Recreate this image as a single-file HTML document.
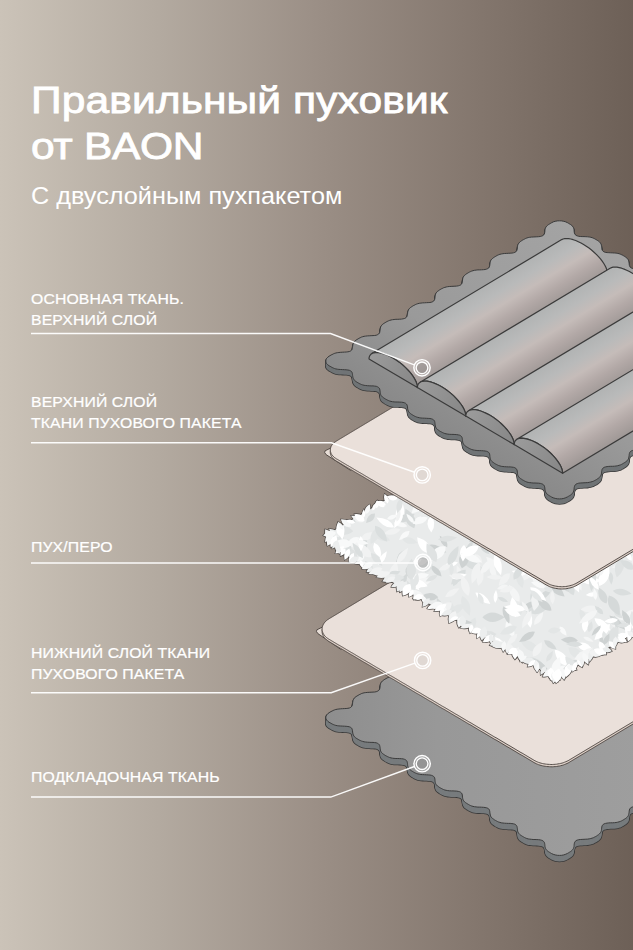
<!DOCTYPE html>
<html lang="ru"><head><meta charset="utf-8"><title>Правильный пуховик от BAON</title>
<style>
html,body{margin:0;padding:0}
body{width:633px;height:950px;overflow:hidden;position:relative;font-family:"Liberation Sans",sans-serif;color:#fff;
background:linear-gradient(90deg,#cbc3b8 0%,#b3aaa0 25%,#9b8f86 50%,#84776e 75%,#6d6057 100%)}
svg{position:absolute;left:0;top:0}
.t{position:absolute;left:33px;white-space:nowrap;margin:0;font-weight:400;transform-origin:0 0}
h1.t{font-size:36.5px;line-height:45.7px;top:78px;letter-spacing:0.1px;transform:scaleX(1.165);left:30.5px;-webkit-text-stroke:0.8px #fff}
p.sub{font-size:23.7px;top:183.4px;letter-spacing:0px;transform:scaleX(1.066);left:31px}
p.lb{font-size:13.8px;line-height:20.5px;letter-spacing:0.1px;left:31px;transform:scaleX(1.145);-webkit-text-stroke:0.2px #fff}
</style></head><body>
<svg width="633" height="950" viewBox="0 0 633 950"><defs><path id="st1" d="M329.1 712.7 L330.1 712.1 L331.1 711.5 L332.2 711.0 L333.3 710.4 L334.5 709.9 L335.8 709.5 L337.3 709.2 L338.9 709.0 L340.7 708.8 L342.5 708.7 L344.4 708.6 L346.2 708.5 L347.9 708.3 L349.4 708.0 L350.5 707.5 L351.4 706.8 L352.0 706.0 L352.3 705.0 L352.5 703.9 L352.6 702.8 L352.8 701.7 L353.0 700.6 L353.4 699.6 L353.9 698.7 L354.5 697.9 L355.3 697.2 L356.2 696.5 L357.2 695.9 L358.2 695.3 L359.2 694.7 L360.3 694.2 L361.4 693.6 L362.7 693.2 L364.1 692.8 L365.7 692.6 L367.4 692.4 L369.2 692.3 L371.1 692.2 L373.0 692.1 L374.7 692.0 L376.3 691.7 L377.5 691.2 L378.5 690.6 L379.2 689.9 L379.7 688.9 L379.9 687.9 L380.1 686.8 L380.2 685.6 L380.4 684.6 L380.6 683.5 L381.1 682.6 L381.7 681.8 L382.4 681.0 L383.3 680.3 L384.2 679.7 L385.2 679.1 L386.2 678.5 L387.3 677.9 L388.4 677.4 L389.6 676.9 L391.0 676.5 L392.5 676.2 L394.1 676.0 L395.9 675.8 L397.8 675.8 L399.7 675.7 L401.5 675.6 L403.1 675.3 L404.5 675.0 L405.6 674.4 L406.4 673.7 L407.0 672.8 L407.3 671.8 L407.5 670.8 L407.6 669.6 L407.7 668.5 L408.0 667.5 L408.4 666.5 L408.9 665.6 L409.6 664.8 L410.4 664.1 L411.3 663.5 L412.3 662.8 L413.3 662.2 L414.3 661.7 L415.4 661.1 L416.6 660.6 L417.8 660.2 L419.3 659.8 L420.9 659.6 L422.6 659.4 L424.5 659.3 L426.4 659.2 L428.2 659.1 L429.9 659.0 L431.4 658.7 L432.7 658.2 L433.6 657.6 L434.3 656.7 L434.7 655.8 L434.9 654.7 L435.0 653.6 L435.1 652.5 L435.3 651.4 L435.6 650.4 L436.1 649.5 L436.7 648.7 L437.5 647.9 L438.4 647.3 L439.3 646.6 L440.3 646.0 L441.3 645.4 L442.4 644.9 L443.5 644.3 L444.8 643.9 L446.1 643.5 L447.7 643.2 L449.3 643.0 L451.2 642.9 L453.0 642.8 L454.9 642.7 L456.7 642.6 L458.3 642.3 L459.6 641.9 L460.7 641.4 L461.5 640.6 L462.0 639.7 L462.3 638.7 L462.4 637.6 L462.5 636.5 L462.7 635.4 L462.9 634.3 L463.4 633.4 L463.9 632.5 L464.6 631.8 L465.5 631.1 L466.4 630.4 L467.4 629.8 L468.4 629.2 L469.4 628.6 L470.5 628.1 L471.7 627.6 L473.0 627.2 L474.5 626.8 L476.1 626.6 L477.9 626.4 L479.7 626.4 L481.6 626.3 L483.4 626.2 L485.1 626.0 L486.6 625.6 L487.8 625.1 L488.7 624.5 L489.3 623.6 L489.6 622.7 L489.8 621.6 L489.9 620.5 L490.1 619.3 L490.3 618.3 L490.6 617.3 L491.1 616.4 L491.8 615.6 L492.6 614.9 L493.5 614.2 L494.4 613.6 L495.4 613.0 L496.4 612.4 L497.5 611.8 L498.6 611.3 L499.9 610.8 L501.3 610.5 L502.9 610.2 L504.6 610.0 L506.4 609.9 L508.3 609.8 L510.2 609.7 L511.9 609.6 L513.5 609.3 L514.8 608.9 L515.8 608.3 L516.5 607.5 L517.0 606.6 L517.2 605.6 L517.4 604.4 L517.5 603.3 L517.6 602.2 L517.9 601.2 L518.4 600.3 L519.0 599.4 L519.7 598.7 L520.5 598.0 L521.5 597.3 L522.4 596.7 L523.5 596.1 L524.5 595.6 L525.6 595.0 L526.8 594.5 L528.2 594.1 L529.7 593.8 L531.3 593.6 L533.1 593.5 L535.0 593.4 L536.9 593.3 L538.7 593.2 L540.3 593.0 L541.7 592.6 L542.9 592.1 L543.7 591.4 L544.3 590.5 L544.6 589.5 L544.8 588.4 L544.9 587.3 L545.0 586.2 L545.3 585.1 L545.6 584.2 L546.2 583.3 L546.8 582.5 L547.6 581.8 L548.5 581.1 L549.5 580.5 L550.5 579.9 L551.5 579.3 L553.2 578.4 L555.2 577.8 L557.3 577.4 L559.5 577.3 L561.7 577.4 L563.8 577.8 L565.8 578.4 L567.5 579.2 L568.5 579.8 L569.5 580.4 L570.5 581.0 L571.4 581.7 L572.2 582.4 L572.8 583.2 L573.4 584.0 L573.7 585.0 L574.0 586.1 L574.1 587.2 L574.2 588.3 L574.4 589.4 L574.7 590.4 L575.3 591.2 L576.1 591.9 L577.3 592.4 L578.7 592.8 L580.3 593.0 L582.1 593.1 L584.0 593.1 L585.9 593.2 L587.7 593.3 L589.3 593.5 L590.8 593.8 L592.2 594.2 L593.4 594.7 L594.5 595.2 L595.5 595.8 L596.6 596.4 L597.5 597.0 L598.5 597.6 L599.3 598.3 L600.0 599.0 L600.6 599.9 L601.1 600.8 L601.4 601.8 L601.5 602.9 L601.6 604.0 L601.8 605.1 L602.0 606.2 L602.5 607.1 L603.2 607.9 L604.2 608.4 L605.5 608.9 L607.1 609.1 L608.8 609.2 L610.7 609.3 L612.6 609.4 L614.4 609.5 L616.1 609.6 L617.7 609.9 L619.1 610.2 L620.4 610.7 L621.5 611.2 L622.6 611.7 L623.6 612.3 L624.6 612.9 L625.5 613.5 L626.4 614.2 L627.2 614.9 L627.9 615.7 L628.4 616.6 L628.7 617.6 L628.9 618.7 L629.1 619.8 L629.2 620.9 L629.4 622.0 L629.7 622.9 L630.3 623.8 L631.2 624.4 L632.4 624.9 L633.9 625.2 L635.6 625.4 L637.4 625.5 L639.3 625.6 L641.1 625.6 L642.9 625.8 L644.5 626.0 L646.0 626.3 L647.3 626.7 L648.5 627.2 L649.6 627.7 L650.6 628.3 L651.6 628.9 L652.6 629.5 L653.5 630.1 L654.4 630.8 L655.1 631.6 L655.6 632.4 L656.1 633.4 L656.3 634.4 L656.5 635.5 L656.6 636.6 L656.7 637.7 L657.0 638.7 L657.5 639.6 L658.3 640.4 L659.4 640.9 L660.7 641.3 L662.3 641.5 L664.1 641.7 L666.0 641.7 L667.8 641.8 L669.7 641.9 L671.3 642.1 L672.9 642.4 L674.2 642.7 L675.5 643.2 L676.6 643.7 L677.7 644.2 L678.7 644.8 L679.7 645.4 L680.6 646.0 L681.5 646.7 L682.3 647.5 L682.9 648.3 L683.4 649.2 L683.7 650.2 L683.9 651.3 L684.0 652.4 L684.1 653.5 L684.3 654.5 L684.7 655.5 L685.4 656.3 L686.3 656.9 L687.6 657.4 L689.1 657.7 L690.8 657.8 L692.6 657.9 L694.5 658.0 L696.4 658.1 L698.1 658.2 L699.7 658.4 L701.2 658.8 L702.4 659.2 L703.6 659.7 L704.7 660.2 L705.7 660.8 L706.7 661.4 L707.7 662.0 L708.6 662.6 L709.4 663.3 L710.1 664.1 L710.6 665.0 L711.0 666.0 L711.3 667.0 L711.4 668.1 L711.5 669.2 L711.7 670.3 L712.0 671.3 L712.6 672.2 L713.4 672.9 L714.5 673.4 L715.9 673.8 L717.5 674.0 L719.3 674.1 L721.2 674.1 L723.1 674.2 L724.9 674.3 L726.5 674.5 L728.0 674.8 L729.4 675.2 L730.6 675.7 L731.7 676.2 L732.8 676.7 L733.8 677.3 L734.8 677.9 L735.7 678.6 L736.6 679.2 L737.3 680.0 L737.9 680.8 L738.4 681.7 L738.6 682.8 L738.8 683.9 L738.9 685.0 L739.1 686.1 L739.3 687.1 L739.8 688.1 L740.5 688.8 L741.5 689.4 L742.7 689.8 L744.3 690.1 L746.0 690.2 L747.9 690.3 L749.8 690.4 L751.6 690.5 L753.3 690.6 L754.9 690.9 L756.3 691.2 L757.6 691.7 L758.7 692.2 L759.8 692.7 L760.8 693.3 L761.8 693.9 L762.8 694.5 L763.7 695.2 L764.5 695.9 L765.1 696.7 L765.6 697.6 L766.0 698.5 L766.2 699.6 L766.4 700.7 L766.5 701.8 L766.7 702.9 L767.0 703.9 L767.6 704.7 L768.5 705.4 L769.6 705.9 L771.1 706.2 L772.8 706.4 L774.6 706.5 L776.5 706.6 L778.3 706.6 L780.1 706.8 L781.7 707.0 L783.2 707.3 L784.5 707.7 L785.7 708.2 L786.8 708.7 L787.9 709.3 L788.9 709.8 L789.9 710.4 L791.3 711.4 L792.4 712.6 L793.0 713.9 L793.2 715.2 L793.0 716.5 L792.4 717.8 L791.3 718.9 L789.9 719.9 L788.9 720.5 L787.9 721.1 L786.8 721.7 L785.7 722.3 L784.5 722.7 L783.2 723.2 L781.7 723.5 L780.1 723.7 L778.3 723.9 L776.5 724.0 L774.6 724.0 L772.8 724.1 L771.1 724.3 L769.6 724.7 L768.5 725.2 L767.6 725.9 L767.0 726.7 L766.7 727.7 L766.5 728.8 L766.4 729.9 L766.2 731.0 L766.0 732.1 L765.6 733.1 L765.1 733.9 L764.5 734.7 L763.7 735.5 L762.8 736.1 L761.8 736.8 L760.8 737.4 L759.8 738.0 L758.7 738.5 L757.6 739.0 L756.3 739.5 L754.9 739.8 L753.3 740.1 L751.6 740.3 L749.8 740.4 L747.9 740.5 L746.0 740.6 L744.3 740.7 L742.7 741.0 L741.5 741.4 L740.5 742.0 L739.8 742.8 L739.3 743.8 L739.1 744.8 L738.9 745.9 L738.8 747.0 L738.6 748.1 L738.4 749.1 L737.9 750.1 L737.3 750.9 L736.6 751.7 L735.7 752.3 L734.8 753.0 L733.8 753.6 L732.8 754.2 L731.7 754.8 L730.6 755.3 L729.4 755.8 L728.0 756.2 L726.5 756.5 L724.9 756.7 L723.1 756.8 L721.2 756.9 L719.3 757.0 L717.5 757.1 L715.9 757.4 L714.5 757.7 L713.4 758.2 L712.6 759.0 L712.0 759.8 L711.7 760.8 L711.5 761.9 L711.4 763.1 L711.3 764.2 L711.0 765.2 L710.6 766.2 L710.1 767.1 L709.4 767.8 L708.6 768.5 L707.7 769.2 L706.7 769.8 L705.7 770.4 L704.7 771.0 L703.6 771.6 L702.4 772.1 L701.2 772.5 L699.7 772.8 L698.1 773.1 L696.4 773.3 L694.5 773.4 L692.6 773.4 L690.8 773.5 L689.1 773.7 L687.6 774.0 L686.3 774.5 L685.4 775.1 L684.7 775.9 L684.3 776.9 L684.1 777.9 L684.0 779.1 L683.9 780.2 L683.7 781.3 L683.4 782.3 L682.9 783.2 L682.3 784.0 L681.5 784.7 L680.6 785.4 L679.7 786.1 L678.7 786.7 L677.7 787.3 L676.6 787.8 L675.5 788.3 L674.2 788.8 L672.9 789.2 L671.3 789.5 L669.7 789.7 L667.8 789.8 L666.0 789.9 L664.1 790.0 L662.3 790.1 L660.7 790.4 L659.4 790.8 L658.3 791.3 L657.5 792.1 L657.0 793.0 L656.7 794.0 L656.6 795.1 L656.5 796.2 L656.3 797.3 L656.1 798.3 L655.6 799.3 L655.1 800.1 L654.4 800.9 L653.5 801.6 L652.6 802.3 L651.6 802.9 L650.6 803.5 L649.6 804.1 L648.5 804.6 L647.3 805.1 L646.0 805.5 L644.5 805.8 L642.9 806.1 L641.1 806.2 L639.3 806.3 L637.4 806.4 L635.6 806.5 L633.9 806.7 L632.4 807.0 L631.2 807.5 L630.3 808.2 L629.7 809.0 L629.4 810.0 L629.2 811.1 L629.1 812.2 L628.9 813.3 L628.7 814.4 L628.4 815.4 L627.9 816.3 L627.2 817.1 L626.4 817.8 L625.5 818.5 L624.6 819.1 L623.6 819.7 L622.6 820.3 L621.5 820.9 L620.4 821.4 L619.1 821.8 L617.7 822.2 L616.1 822.5 L614.4 822.7 L612.6 822.8 L610.7 822.8 L608.8 822.9 L607.1 823.1 L605.5 823.4 L604.2 823.8 L603.2 824.4 L602.5 825.2 L602.0 826.1 L601.8 827.1 L601.6 828.2 L601.5 829.4 L601.4 830.4 L601.1 831.5 L600.6 832.4 L600.0 833.2 L599.3 834.0 L598.5 834.7 L597.5 835.3 L596.6 836.0 L595.5 836.6 L594.5 837.1 L593.4 837.7 L592.2 838.1 L590.8 838.5 L589.3 838.8 L587.7 839.1 L585.9 839.2 L584.0 839.3 L582.1 839.4 L580.3 839.5 L578.7 839.7 L577.3 840.1 L576.1 840.6 L575.3 841.3 L574.7 842.2 L574.4 843.2 L574.2 844.2 L574.1 845.4 L574.0 846.5 L573.7 847.5 L573.4 848.5 L572.8 849.4 L572.2 850.2 L571.4 850.9 L570.5 851.6 L569.5 852.2 L568.5 852.8 L567.5 853.4 L565.8 854.2 L563.8 854.9 L561.7 855.3 L559.5 855.4 L557.3 855.3 L555.2 854.9 L553.2 854.3 L551.5 853.5 L550.5 852.9 L549.5 852.3 L548.5 851.7 L547.6 851.0 L546.8 850.3 L546.2 849.5 L545.6 848.6 L545.3 847.7 L545.0 846.6 L544.9 845.5 L544.8 844.4 L544.6 843.3 L544.3 842.3 L543.7 841.5 L542.9 840.8 L541.7 840.3 L540.3 839.9 L538.7 839.7 L536.9 839.6 L535.0 839.5 L533.1 839.5 L531.3 839.3 L529.7 839.1 L528.2 838.9 L526.8 838.5 L525.6 838.0 L524.5 837.5 L523.5 836.9 L522.4 836.3 L521.5 835.7 L520.5 835.1 L519.7 834.4 L519.0 833.7 L518.4 832.8 L517.9 831.9 L517.6 830.9 L517.5 829.8 L517.4 828.7 L517.2 827.5 L517.0 826.5 L516.5 825.6 L515.8 824.8 L514.8 824.2 L513.5 823.8 L511.9 823.6 L510.2 823.4 L508.3 823.4 L506.4 823.3 L504.6 823.2 L502.9 823.0 L501.3 822.8 L499.9 822.4 L498.6 822.0 L497.5 821.5 L496.4 820.9 L495.4 820.4 L494.4 819.8 L493.5 819.1 L492.6 818.5 L491.8 817.8 L491.1 817.0 L490.6 816.1 L490.3 815.1 L490.1 814.0 L489.9 812.9 L489.8 811.8 L489.6 810.7 L489.3 809.7 L488.7 808.9 L487.8 808.3 L486.6 807.8 L485.1 807.5 L483.4 807.3 L481.6 807.2 L479.7 807.1 L477.9 807.1 L476.1 806.9 L474.5 806.7 L473.0 806.4 L471.7 806.0 L470.5 805.5 L469.4 805.0 L468.4 804.4 L467.4 803.8 L466.4 803.2 L465.5 802.6 L464.6 801.9 L463.9 801.1 L463.4 800.3 L462.9 799.3 L462.7 798.3 L462.5 797.2 L462.4 796.0 L462.3 795.0 L462.0 793.9 L461.5 793.0 L460.7 792.3 L459.6 791.7 L458.3 791.4 L456.7 791.1 L454.9 791.0 L453.0 790.9 L451.2 790.9 L449.3 790.8 L447.7 790.6 L446.1 790.3 L444.8 790.0 L443.5 789.5 L442.4 789.0 L441.3 788.4 L440.3 787.9 L439.3 787.3 L438.4 786.6 L437.5 786.0 L436.7 785.2 L436.1 784.4 L435.6 783.5 L435.3 782.5 L435.1 781.4 L435.0 780.3 L434.9 779.2 L434.7 778.1 L434.3 777.2 L433.6 776.4 L432.7 775.8 L431.4 775.3 L429.9 775.0 L428.2 774.9 L426.4 774.8 L424.5 774.7 L422.6 774.6 L420.9 774.5 L419.3 774.2 L417.8 773.9 L416.6 773.5 L415.4 773.0 L414.3 772.5 L413.3 771.9 L412.3 771.3 L411.3 770.7 L410.4 770.0 L409.6 769.3 L408.9 768.6 L408.4 767.7 L408.0 766.7 L407.7 765.7 L407.6 764.6 L407.5 763.4 L407.3 762.4 L407.0 761.4 L406.4 760.5 L405.6 759.8 L404.5 759.3 L403.1 758.9 L401.5 758.7 L399.7 758.6 L397.8 758.5 L395.9 758.5 L394.1 758.4 L392.5 758.2 L391.0 757.9 L389.6 757.5 L388.4 757.0 L387.3 756.5 L386.2 755.9 L385.2 755.4 L384.2 754.7 L383.3 754.1 L382.4 753.4 L381.7 752.7 L381.1 751.9 L380.6 750.9 L380.4 749.9 L380.2 748.8 L380.1 747.7 L379.9 746.6 L379.7 745.6 L379.2 744.6 L378.5 743.9 L377.5 743.3 L376.3 742.8 L374.7 742.6 L373.0 742.4 L371.1 742.4 L369.2 742.3 L367.4 742.2 L365.7 742.0 L364.1 741.8 L362.7 741.4 L361.4 741.0 L360.3 740.5 L359.2 740.0 L358.2 739.4 L357.2 738.8 L356.2 738.2 L355.3 737.5 L354.5 736.8 L353.9 736.0 L353.4 735.1 L353.0 734.1 L352.8 733.1 L352.6 732.0 L352.5 730.8 L352.3 729.8 L352.0 728.8 L351.4 727.9 L350.5 727.3 L349.4 726.8 L347.9 726.5 L346.2 726.3 L344.4 726.2 L342.5 726.1 L340.7 726.0 L338.9 725.9 L337.3 725.7 L335.8 725.4 L334.5 725.0 L333.3 724.5 L332.2 724.0 L331.1 723.4 L330.1 722.8 L329.1 722.3 L327.7 721.2 L326.6 720.1 L326.0 718.8 L325.8 717.5 L326.0 716.2 L326.6 714.9 L327.7 713.8Z"/>
<linearGradient id="st1g" gradientUnits="userSpaceOnUse" x1="327" y1="0" x2="640" y2="0"><stop offset="0" stop-color="#8e8e8e"/><stop offset="0.35" stop-color="#989898"/><stop offset="1" stop-color="#9e9e9e"/></linearGradient>
<clipPath id="dc"><path d="M328.5 534.0 L422.0 478.5 L560.0 395.0 L800.0 531.0 L660.0 618.0 L555.0 678.0 L339.0 550.5 L328.0 537.5Z"/></clipPath>
<path id="lf" d="M-1 0Q-0.2 -1.5 1 0Q-0.2 1.5 -1 0Z"/>
<path id="st2" d="M329.1 356.2 L330.1 355.6 L331.1 355.0 L332.2 354.5 L333.3 353.9 L334.5 353.4 L335.8 353.0 L337.3 352.7 L338.9 352.5 L340.7 352.3 L342.5 352.2 L344.4 352.1 L346.2 352.0 L347.9 351.8 L349.4 351.5 L350.5 351.0 L351.4 350.3 L352.0 349.5 L352.3 348.5 L352.5 347.4 L352.6 346.3 L352.8 345.2 L353.0 344.1 L353.4 343.1 L353.9 342.2 L354.5 341.4 L355.3 340.7 L356.2 340.0 L357.2 339.4 L358.2 338.8 L359.2 338.2 L360.3 337.7 L361.4 337.1 L362.7 336.7 L364.1 336.3 L365.7 336.1 L367.4 335.9 L369.2 335.8 L371.1 335.7 L373.0 335.6 L374.7 335.5 L376.3 335.2 L377.5 334.7 L378.5 334.1 L379.2 333.4 L379.7 332.4 L379.9 331.4 L380.1 330.3 L380.2 329.1 L380.4 328.1 L380.6 327.0 L381.1 326.1 L381.7 325.3 L382.4 324.5 L383.3 323.8 L384.2 323.2 L385.2 322.6 L386.2 322.0 L387.3 321.4 L388.4 320.9 L389.6 320.4 L391.0 320.0 L392.5 319.7 L394.1 319.5 L395.9 319.3 L397.8 319.3 L399.7 319.2 L401.5 319.1 L403.1 318.8 L404.5 318.5 L405.6 317.9 L406.4 317.2 L407.0 316.3 L407.3 315.3 L407.5 314.3 L407.6 313.1 L407.7 312.0 L408.0 311.0 L408.4 310.0 L408.9 309.1 L409.6 308.3 L410.4 307.6 L411.3 307.0 L412.3 306.3 L413.3 305.7 L414.3 305.2 L415.4 304.6 L416.6 304.1 L417.8 303.7 L419.3 303.3 L420.9 303.1 L422.6 302.9 L424.5 302.8 L426.4 302.7 L428.2 302.6 L429.9 302.5 L431.4 302.2 L432.7 301.7 L433.6 301.1 L434.3 300.2 L434.7 299.3 L434.9 298.2 L435.0 297.1 L435.1 296.0 L435.3 294.9 L435.6 293.9 L436.1 293.0 L436.7 292.2 L437.5 291.4 L438.4 290.8 L439.3 290.1 L440.3 289.5 L441.3 288.9 L442.4 288.4 L443.5 287.8 L444.8 287.4 L446.1 287.0 L447.7 286.7 L449.3 286.5 L451.2 286.4 L453.0 286.3 L454.9 286.2 L456.7 286.1 L458.3 285.8 L459.6 285.4 L460.7 284.9 L461.5 284.1 L462.0 283.2 L462.3 282.2 L462.4 281.1 L462.5 280.0 L462.7 278.9 L462.9 277.8 L463.4 276.9 L463.9 276.0 L464.6 275.3 L465.5 274.6 L466.4 273.9 L467.4 273.3 L468.4 272.7 L469.4 272.1 L470.5 271.6 L471.7 271.1 L473.0 270.7 L474.5 270.3 L476.1 270.1 L477.9 269.9 L479.7 269.9 L481.6 269.8 L483.4 269.7 L485.1 269.5 L486.6 269.1 L487.8 268.6 L488.7 268.0 L489.3 267.1 L489.6 266.2 L489.8 265.1 L489.9 264.0 L490.1 262.8 L490.3 261.8 L490.6 260.8 L491.1 259.9 L491.8 259.1 L492.6 258.4 L493.5 257.7 L494.4 257.1 L495.4 256.5 L496.4 255.9 L497.5 255.3 L498.6 254.8 L499.9 254.3 L501.3 254.0 L502.9 253.7 L504.6 253.5 L506.4 253.4 L508.3 253.3 L510.2 253.2 L511.9 253.1 L513.5 252.8 L514.8 252.4 L515.8 251.8 L516.5 251.0 L517.0 250.1 L517.2 249.1 L517.4 247.9 L517.5 246.8 L517.6 245.7 L517.9 244.7 L518.4 243.8 L519.0 242.9 L519.7 242.2 L520.5 241.5 L521.5 240.8 L522.4 240.2 L523.5 239.6 L524.5 239.1 L525.6 238.5 L526.8 238.0 L528.2 237.6 L529.7 237.3 L531.3 237.1 L533.1 237.0 L535.0 236.9 L536.9 236.8 L538.7 236.7 L540.3 236.5 L541.7 236.1 L542.9 235.6 L543.7 234.9 L544.3 234.0 L544.6 233.0 L544.8 231.9 L544.9 230.8 L545.0 229.7 L545.3 228.6 L545.6 227.7 L546.2 226.8 L546.8 226.0 L547.6 225.3 L548.5 224.6 L549.5 224.0 L550.5 223.4 L551.5 222.8 L553.2 221.9 L555.2 221.3 L557.3 220.9 L559.5 220.8 L561.7 220.9 L563.8 221.3 L565.8 221.9 L567.5 222.7 L568.5 223.3 L569.5 223.9 L570.5 224.5 L571.4 225.2 L572.2 225.9 L572.8 226.7 L573.4 227.5 L573.7 228.5 L574.0 229.6 L574.1 230.7 L574.2 231.8 L574.4 232.9 L574.7 233.9 L575.3 234.7 L576.1 235.4 L577.3 235.9 L578.7 236.3 L580.3 236.5 L582.1 236.6 L584.0 236.6 L585.9 236.7 L587.7 236.8 L589.3 237.0 L590.8 237.3 L592.2 237.7 L593.4 238.2 L594.5 238.7 L595.5 239.3 L596.6 239.9 L597.5 240.5 L598.5 241.1 L599.3 241.8 L600.0 242.5 L600.6 243.4 L601.1 244.3 L601.4 245.3 L601.5 246.4 L601.6 247.5 L601.8 248.6 L602.0 249.7 L602.5 250.6 L603.2 251.4 L604.2 251.9 L605.5 252.4 L607.1 252.6 L608.8 252.7 L610.7 252.8 L612.6 252.9 L614.4 253.0 L616.1 253.1 L617.7 253.4 L619.1 253.7 L620.4 254.2 L621.5 254.7 L622.6 255.2 L623.6 255.8 L624.6 256.4 L625.5 257.0 L626.4 257.7 L627.2 258.4 L627.9 259.2 L628.4 260.1 L628.7 261.1 L628.9 262.2 L629.1 263.3 L629.2 264.4 L629.4 265.5 L629.7 266.4 L630.3 267.3 L631.2 267.9 L632.4 268.4 L633.9 268.7 L635.6 268.9 L637.4 269.0 L639.3 269.1 L641.1 269.1 L642.9 269.3 L644.5 269.5 L646.0 269.8 L647.3 270.2 L648.5 270.7 L649.6 271.2 L650.6 271.8 L651.6 272.4 L652.6 273.0 L653.5 273.6 L654.4 274.3 L655.1 275.1 L655.6 275.9 L656.1 276.9 L656.3 277.9 L656.5 279.0 L656.6 280.1 L656.7 281.2 L657.0 282.2 L657.5 283.1 L658.3 283.9 L659.4 284.4 L660.7 284.8 L662.3 285.0 L664.1 285.2 L666.0 285.2 L667.8 285.3 L669.7 285.4 L671.3 285.6 L672.9 285.9 L674.2 286.2 L675.5 286.7 L676.6 287.2 L677.7 287.7 L678.7 288.3 L679.7 288.9 L680.6 289.5 L681.5 290.2 L682.3 291.0 L682.9 291.8 L683.4 292.7 L683.7 293.7 L683.9 294.8 L684.0 295.9 L684.1 297.0 L684.3 298.0 L684.7 299.0 L685.4 299.8 L686.3 300.4 L687.6 300.9 L689.1 301.2 L690.8 301.3 L692.6 301.4 L694.5 301.5 L696.4 301.6 L698.1 301.7 L699.7 301.9 L701.2 302.3 L702.4 302.7 L703.6 303.2 L704.7 303.7 L705.7 304.3 L706.7 304.9 L707.7 305.5 L708.6 306.1 L709.4 306.8 L710.1 307.6 L710.6 308.5 L711.0 309.5 L711.3 310.5 L711.4 311.6 L711.5 312.7 L711.7 313.8 L712.0 314.8 L712.6 315.7 L713.4 316.4 L714.5 316.9 L715.9 317.3 L717.5 317.5 L719.3 317.6 L721.2 317.6 L723.1 317.7 L724.9 317.8 L726.5 318.0 L728.0 318.3 L729.4 318.7 L730.6 319.2 L731.7 319.7 L732.8 320.2 L733.8 320.8 L734.8 321.4 L735.7 322.1 L736.6 322.7 L737.3 323.5 L737.9 324.3 L738.4 325.2 L738.6 326.3 L738.8 327.4 L738.9 328.5 L739.1 329.6 L739.3 330.6 L739.8 331.6 L740.5 332.3 L741.5 332.9 L742.7 333.3 L744.3 333.6 L746.0 333.7 L747.9 333.8 L749.8 333.9 L751.6 334.0 L753.3 334.1 L754.9 334.4 L756.3 334.7 L757.6 335.2 L758.7 335.7 L759.8 336.2 L760.8 336.8 L761.8 337.4 L762.8 338.0 L763.7 338.7 L764.5 339.4 L765.1 340.2 L765.6 341.1 L766.0 342.0 L766.2 343.1 L766.4 344.2 L766.5 345.3 L766.7 346.4 L767.0 347.4 L767.6 348.2 L768.5 348.9 L769.6 349.4 L771.1 349.7 L772.8 349.9 L774.6 350.0 L776.5 350.1 L778.3 350.1 L780.1 350.3 L781.7 350.5 L783.2 350.8 L784.5 351.2 L785.7 351.7 L786.8 352.2 L787.9 352.8 L788.9 353.3 L789.9 353.9 L791.3 354.9 L792.4 356.1 L793.0 357.4 L793.2 358.7 L793.0 360.0 L792.4 361.3 L791.3 362.4 L789.9 363.4 L788.9 364.0 L787.9 364.6 L786.8 365.2 L785.7 365.8 L784.5 366.2 L783.2 366.7 L781.7 367.0 L780.1 367.2 L778.3 367.4 L776.5 367.5 L774.6 367.5 L772.8 367.6 L771.1 367.8 L769.6 368.2 L768.5 368.7 L767.6 369.4 L767.0 370.2 L766.7 371.2 L766.5 372.3 L766.4 373.4 L766.2 374.5 L766.0 375.6 L765.6 376.6 L765.1 377.4 L764.5 378.2 L763.7 379.0 L762.8 379.6 L761.8 380.3 L760.8 380.9 L759.8 381.5 L758.7 382.0 L757.6 382.5 L756.3 383.0 L754.9 383.3 L753.3 383.6 L751.6 383.8 L749.8 383.9 L747.9 384.0 L746.0 384.1 L744.3 384.2 L742.7 384.5 L741.5 384.9 L740.5 385.5 L739.8 386.3 L739.3 387.3 L739.1 388.3 L738.9 389.4 L738.8 390.5 L738.6 391.6 L738.4 392.6 L737.9 393.6 L737.3 394.4 L736.6 395.2 L735.7 395.8 L734.8 396.5 L733.8 397.1 L732.8 397.7 L731.7 398.3 L730.6 398.8 L729.4 399.3 L728.0 399.7 L726.5 400.0 L724.9 400.2 L723.1 400.3 L721.2 400.4 L719.3 400.5 L717.5 400.6 L715.9 400.9 L714.5 401.2 L713.4 401.7 L712.6 402.5 L712.0 403.3 L711.7 404.3 L711.5 405.4 L711.4 406.6 L711.3 407.7 L711.0 408.7 L710.6 409.7 L710.1 410.6 L709.4 411.3 L708.6 412.0 L707.7 412.7 L706.7 413.3 L705.7 413.9 L704.7 414.5 L703.6 415.1 L702.4 415.6 L701.2 416.0 L699.7 416.3 L698.1 416.6 L696.4 416.8 L694.5 416.9 L692.6 416.9 L690.8 417.0 L689.1 417.2 L687.6 417.5 L686.3 418.0 L685.4 418.6 L684.7 419.4 L684.3 420.4 L684.1 421.4 L684.0 422.6 L683.9 423.7 L683.7 424.8 L683.4 425.8 L682.9 426.7 L682.3 427.5 L681.5 428.2 L680.6 428.9 L679.7 429.6 L678.7 430.2 L677.7 430.8 L676.6 431.3 L675.5 431.8 L674.2 432.3 L672.9 432.7 L671.3 433.0 L669.7 433.2 L667.8 433.3 L666.0 433.4 L664.1 433.5 L662.3 433.6 L660.7 433.9 L659.4 434.3 L658.3 434.8 L657.5 435.6 L657.0 436.5 L656.7 437.5 L656.6 438.6 L656.5 439.7 L656.3 440.8 L656.1 441.8 L655.6 442.8 L655.1 443.6 L654.4 444.4 L653.5 445.1 L652.6 445.8 L651.6 446.4 L650.6 447.0 L649.6 447.6 L648.5 448.1 L647.3 448.6 L646.0 449.0 L644.5 449.3 L642.9 449.6 L641.1 449.7 L639.3 449.8 L637.4 449.9 L635.6 450.0 L633.9 450.2 L632.4 450.5 L631.2 451.0 L630.3 451.7 L629.7 452.5 L629.4 453.5 L629.2 454.6 L629.1 455.7 L628.9 456.8 L628.7 457.9 L628.4 458.9 L627.9 459.8 L627.2 460.6 L626.4 461.3 L625.5 462.0 L624.6 462.6 L623.6 463.2 L622.6 463.8 L621.5 464.4 L620.4 464.9 L619.1 465.3 L617.7 465.7 L616.1 466.0 L614.4 466.2 L612.6 466.3 L610.7 466.3 L608.8 466.4 L607.1 466.6 L605.5 466.9 L604.2 467.3 L603.2 467.9 L602.5 468.7 L602.0 469.6 L601.8 470.6 L601.6 471.7 L601.5 472.9 L601.4 473.9 L601.1 475.0 L600.6 475.9 L600.0 476.7 L599.3 477.5 L598.5 478.2 L597.5 478.8 L596.6 479.5 L595.5 480.1 L594.5 480.6 L593.4 481.2 L592.2 481.6 L590.8 482.0 L589.3 482.3 L587.7 482.6 L585.9 482.7 L584.0 482.8 L582.1 482.9 L580.3 483.0 L578.7 483.2 L577.3 483.6 L576.1 484.1 L575.3 484.8 L574.7 485.7 L574.4 486.7 L574.2 487.7 L574.1 488.9 L574.0 490.0 L573.7 491.0 L573.4 492.0 L572.8 492.9 L572.2 493.7 L571.4 494.4 L570.5 495.1 L569.5 495.7 L568.5 496.3 L567.5 496.9 L565.8 497.7 L563.8 498.4 L561.7 498.8 L559.5 498.9 L557.3 498.8 L555.2 498.4 L553.2 497.8 L551.5 497.0 L550.5 496.4 L549.5 495.8 L548.5 495.2 L547.6 494.5 L546.8 493.8 L546.2 493.0 L545.6 492.1 L545.3 491.2 L545.0 490.1 L544.9 489.0 L544.8 487.9 L544.6 486.8 L544.3 485.8 L543.7 485.0 L542.9 484.3 L541.7 483.8 L540.3 483.4 L538.7 483.2 L536.9 483.1 L535.0 483.0 L533.1 483.0 L531.3 482.8 L529.7 482.6 L528.2 482.4 L526.8 482.0 L525.6 481.5 L524.5 481.0 L523.5 480.4 L522.4 479.8 L521.5 479.2 L520.5 478.6 L519.7 477.9 L519.0 477.2 L518.4 476.3 L517.9 475.4 L517.6 474.4 L517.5 473.3 L517.4 472.2 L517.2 471.0 L517.0 470.0 L516.5 469.1 L515.8 468.3 L514.8 467.7 L513.5 467.3 L511.9 467.1 L510.2 466.9 L508.3 466.9 L506.4 466.8 L504.6 466.7 L502.9 466.5 L501.3 466.3 L499.9 465.9 L498.6 465.5 L497.5 465.0 L496.4 464.4 L495.4 463.9 L494.4 463.3 L493.5 462.6 L492.6 462.0 L491.8 461.3 L491.1 460.5 L490.6 459.6 L490.3 458.6 L490.1 457.5 L489.9 456.4 L489.8 455.3 L489.6 454.2 L489.3 453.2 L488.7 452.4 L487.8 451.8 L486.6 451.3 L485.1 451.0 L483.4 450.8 L481.6 450.7 L479.7 450.6 L477.9 450.6 L476.1 450.4 L474.5 450.2 L473.0 449.9 L471.7 449.5 L470.5 449.0 L469.4 448.5 L468.4 447.9 L467.4 447.3 L466.4 446.7 L465.5 446.1 L464.6 445.4 L463.9 444.6 L463.4 443.8 L462.9 442.8 L462.7 441.8 L462.5 440.7 L462.4 439.5 L462.3 438.5 L462.0 437.4 L461.5 436.5 L460.7 435.8 L459.6 435.2 L458.3 434.9 L456.7 434.6 L454.9 434.5 L453.0 434.4 L451.2 434.4 L449.3 434.3 L447.7 434.1 L446.1 433.8 L444.8 433.5 L443.5 433.0 L442.4 432.5 L441.3 431.9 L440.3 431.4 L439.3 430.8 L438.4 430.1 L437.5 429.5 L436.7 428.7 L436.1 427.9 L435.6 427.0 L435.3 426.0 L435.1 424.9 L435.0 423.8 L434.9 422.7 L434.7 421.6 L434.3 420.7 L433.6 419.9 L432.7 419.3 L431.4 418.8 L429.9 418.5 L428.2 418.4 L426.4 418.3 L424.5 418.2 L422.6 418.1 L420.9 418.0 L419.3 417.7 L417.8 417.4 L416.6 417.0 L415.4 416.5 L414.3 416.0 L413.3 415.4 L412.3 414.8 L411.3 414.2 L410.4 413.5 L409.6 412.8 L408.9 412.1 L408.4 411.2 L408.0 410.2 L407.7 409.2 L407.6 408.1 L407.5 406.9 L407.3 405.9 L407.0 404.9 L406.4 404.0 L405.6 403.3 L404.5 402.8 L403.1 402.4 L401.5 402.2 L399.7 402.1 L397.8 402.0 L395.9 402.0 L394.1 401.9 L392.5 401.7 L391.0 401.4 L389.6 401.0 L388.4 400.5 L387.3 400.0 L386.2 399.4 L385.2 398.9 L384.2 398.2 L383.3 397.6 L382.4 396.9 L381.7 396.2 L381.1 395.4 L380.6 394.4 L380.4 393.4 L380.2 392.3 L380.1 391.2 L379.9 390.1 L379.7 389.1 L379.2 388.1 L378.5 387.4 L377.5 386.8 L376.3 386.3 L374.7 386.1 L373.0 385.9 L371.1 385.9 L369.2 385.8 L367.4 385.7 L365.7 385.5 L364.1 385.3 L362.7 384.9 L361.4 384.5 L360.3 384.0 L359.2 383.5 L358.2 382.9 L357.2 382.3 L356.2 381.7 L355.3 381.0 L354.5 380.3 L353.9 379.5 L353.4 378.6 L353.0 377.6 L352.8 376.6 L352.6 375.5 L352.5 374.3 L352.3 373.3 L352.0 372.3 L351.4 371.4 L350.5 370.8 L349.4 370.3 L347.9 370.0 L346.2 369.8 L344.4 369.7 L342.5 369.6 L340.7 369.5 L338.9 369.4 L337.3 369.2 L335.8 368.9 L334.5 368.5 L333.3 368.0 L332.2 367.5 L331.1 366.9 L330.1 366.3 L329.1 365.8 L327.7 364.7 L326.6 363.6 L326.0 362.3 L325.8 361.0 L326.0 359.7 L326.6 358.4 L327.7 357.3Z"/>
<linearGradient id="st2g" gradientUnits="userSpaceOnUse" x1="327.5" y1="361.0" x2="448.3" y2="156.3"><stop offset="0" stop-color="#8a8a8a"/><stop offset="0.35" stop-color="#9a9a9a"/><stop offset="1" stop-color="#a3a3a3"/></linearGradient>
<linearGradient id="tg0" gradientUnits="userSpaceOnUse" x1="371.7" y1="353.6" x2="398.8" y2="398.7"><stop offset="0" stop-color="#b1b3b3"/><stop offset="0.25" stop-color="#b9baba"/><stop offset="0.48" stop-color="#c5bcb9"/><stop offset="0.72" stop-color="#b3a9a7"/><stop offset="1" stop-color="#9f9896"/></linearGradient>
<linearGradient id="cg0" gradientUnits="userSpaceOnUse" x1="369.0" y1="358.9" x2="417.4" y2="387.5"><stop offset="0" stop-color="#9b9b9b"/><stop offset="1" stop-color="#868686"/></linearGradient>
<linearGradient id="tg1" gradientUnits="userSpaceOnUse" x1="420.1" y1="382.2" x2="447.2" y2="427.2"><stop offset="0" stop-color="#b1b3b3"/><stop offset="0.25" stop-color="#b9baba"/><stop offset="0.48" stop-color="#c5bcb9"/><stop offset="0.72" stop-color="#b3a9a7"/><stop offset="1" stop-color="#9f9896"/></linearGradient>
<linearGradient id="cg1" gradientUnits="userSpaceOnUse" x1="417.4" y1="387.5" x2="465.8" y2="416.1"><stop offset="0" stop-color="#9b9b9b"/><stop offset="1" stop-color="#868686"/></linearGradient>
<linearGradient id="tg2" gradientUnits="userSpaceOnUse" x1="468.5" y1="410.7" x2="495.6" y2="455.8"><stop offset="0" stop-color="#b1b3b3"/><stop offset="0.25" stop-color="#b9baba"/><stop offset="0.48" stop-color="#c5bcb9"/><stop offset="0.72" stop-color="#b3a9a7"/><stop offset="1" stop-color="#9f9896"/></linearGradient>
<linearGradient id="cg2" gradientUnits="userSpaceOnUse" x1="465.8" y1="416.1" x2="514.2" y2="444.6"><stop offset="0" stop-color="#9b9b9b"/><stop offset="1" stop-color="#868686"/></linearGradient>
<linearGradient id="tg3" gradientUnits="userSpaceOnUse" x1="516.9" y1="439.3" x2="544.0" y2="484.4"><stop offset="0" stop-color="#b1b3b3"/><stop offset="0.25" stop-color="#b9baba"/><stop offset="0.48" stop-color="#c5bcb9"/><stop offset="0.72" stop-color="#b3a9a7"/><stop offset="1" stop-color="#9f9896"/></linearGradient>
<linearGradient id="cg3" gradientUnits="userSpaceOnUse" x1="514.2" y1="444.6" x2="562.6" y2="473.2"><stop offset="0" stop-color="#9b9b9b"/><stop offset="1" stop-color="#868686"/></linearGradient></defs>
<g id="l5"><g fill="#3b3b3b" stroke="#3b3b3b" stroke-width="1.6" stroke-linejoin="round"><use href="#st1" y="6"/><use href="#st1" y="5"/><use href="#st1" y="4"/><use href="#st1" y="3"/><use href="#st1" y="2"/><use href="#st1" y="1"/></g>
<g fill="#777b7d"><use href="#st1" y="6"/><use href="#st1" y="5"/><use href="#st1" y="4"/><use href="#st1" y="3"/><use href="#st1" y="2"/><use href="#st1" y="1"/></g>
<use href="#st1" fill="url(#st1g)" stroke="#3b3b3b" stroke-width="1" stroke-linejoin="round"/></g>
<g id="l4"><path d="M323.6 626.5 L316.9 629.8 L316.5 631.6 L317.9 633.6 L340.8 649.4 L344.8 646.8 L328.1 629.0Z" fill="#e6dcd5" stroke="#4a423d" stroke-width="0.9" stroke-linejoin="round"/>
<path d="M322.1 631.3 L322.1 630.5 L322.2 629.6 L322.5 628.7 L322.8 627.8 L323.2 627.0 L323.7 626.1 L324.2 625.3 L324.9 624.5 L325.6 623.7 L326.4 623.0 L327.3 622.2 L328.3 621.6 L329.3 620.9 L330.3 620.3 L331.3 619.7 L332.3 619.1 L333.3 618.5 L334.3 617.9 L335.3 617.3 L336.3 616.7 L337.3 616.1 L338.3 615.5 L339.3 614.9 L340.3 614.3 L341.3 613.7 L342.3 613.1 L343.3 612.5 L344.3 611.9 L345.3 611.3 L346.3 610.7 L347.3 610.1 L348.3 609.5 L349.3 608.9 L350.3 608.3 L351.3 607.7 L352.3 607.1 L353.3 606.5 L354.3 605.9 L355.3 605.3 L356.3 604.7 L357.3 604.1 L358.3 603.5 L359.3 602.9 L360.3 602.3 L361.3 601.7 L362.3 601.1 L363.3 600.5 L364.3 599.9 L365.3 599.3 L366.3 598.7 L367.3 598.1 L368.3 597.5 L369.3 596.9 L370.3 596.3 L371.3 595.7 L372.3 595.1 L373.3 594.5 L374.3 593.9 L375.3 593.3 L376.3 592.7 L377.3 592.1 L378.3 591.5 L379.3 590.9 L380.3 590.3 L381.3 589.7 L382.3 589.1 L383.3 588.5 L384.3 587.9 L385.3 587.3 L386.3 586.7 L387.3 586.1 L388.3 585.5 L389.3 584.9 L390.3 584.3 L391.3 583.7 L392.3 583.1 L393.3 582.5 L394.3 581.9 L395.3 581.3 L396.3 580.7 L397.3 580.1 L398.3 579.5 L399.3 578.9 L400.3 578.3 L401.3 577.7 L402.3 577.1 L403.3 576.5 L404.3 575.9 L405.3 575.3 L406.3 574.7 L407.3 574.1 L408.3 573.5 L409.3 572.9 L410.3 572.3 L411.3 571.7 L412.3 571.1 L413.3 570.5 L414.3 569.9 L415.3 569.3 L416.3 568.7 L417.3 568.1 L418.3 567.5 L419.3 566.9 L420.3 566.3 L421.3 565.7 L422.3 565.1 L423.3 564.5 L424.3 563.9 L425.3 563.3 L426.3 562.7 L427.3 562.1 L428.3 561.5 L429.3 560.9 L430.3 560.3 L431.3 559.7 L432.3 559.1 L433.3 558.5 L434.3 557.9 L435.3 557.3 L436.3 556.7 L437.3 556.1 L438.3 555.5 L439.3 554.9 L440.3 554.3 L441.3 553.7 L442.3 553.1 L443.3 552.5 L444.3 551.9 L445.3 551.3 L446.3 550.7 L447.3 550.1 L448.3 549.5 L449.3 548.9 L450.3 548.3 L451.3 547.7 L452.3 547.1 L453.3 546.5 L454.3 545.9 L455.3 545.3 L456.3 544.7 L457.3 544.1 L458.3 543.5 L459.3 542.9 L460.3 542.3 L461.3 541.7 L462.3 541.1 L463.3 540.5 L464.3 539.9 L465.3 539.3 L466.3 538.7 L467.3 538.1 L468.3 537.5 L469.3 536.9 L470.3 536.3 L471.3 535.7 L472.3 535.1 L473.3 534.5 L474.3 533.9 L475.3 533.3 L476.3 532.7 L477.3 532.1 L478.3 531.5 L479.3 530.9 L480.3 530.3 L481.3 529.7 L482.3 529.1 L483.3 528.5 L484.3 527.9 L485.3 527.3 L486.3 526.7 L487.3 526.1 L488.3 525.5 L489.3 524.9 L490.3 524.3 L491.3 523.7 L492.3 523.1 L493.3 522.5 L494.3 521.9 L495.3 521.3 L496.3 520.7 L497.3 520.1 L498.3 519.5 L499.3 518.9 L500.3 518.3 L501.3 517.7 L502.3 517.1 L503.3 516.5 L504.3 515.9 L505.3 515.3 L506.3 514.7 L507.3 514.1 L508.3 513.5 L509.3 512.9 L510.3 512.3 L511.3 511.7 L512.3 511.1 L513.3 510.5 L514.3 509.9 L515.3 509.3 L516.3 508.7 L517.3 508.1 L518.3 507.5 L519.3 506.9 L520.3 506.3 L521.3 505.7 L522.3 505.1 L523.3 504.5 L524.3 503.9 L525.3 503.3 L526.3 502.7 L527.3 502.1 L528.3 501.5 L529.3 500.9 L530.3 500.3 L531.3 499.7 L532.3 499.1 L533.3 498.5 L534.3 497.9 L535.3 497.3 L536.3 496.7 L537.3 496.1 L538.3 495.5 L539.3 494.9 L540.4 494.4 L541.6 493.8 L542.8 493.4 L544.1 492.9 L545.3 492.5 L546.7 492.2 L548.0 491.9 L549.4 491.6 L550.8 491.4 L552.2 491.3 L553.6 491.2 L555.1 491.1 L556.5 491.1 L558.0 491.1 L559.4 491.2 L560.8 491.4 L562.2 491.6 L563.6 491.8 L564.9 492.1 L566.3 492.4 L567.5 492.8 L568.8 493.2 L570.0 493.7 L571.2 494.2 L572.3 494.7 L573.3 495.3 L574.3 495.9 L575.3 496.5 L576.3 497.1 L577.3 497.7 L578.3 498.3 L579.3 498.9 L580.3 499.5 L581.3 500.1 L582.3 500.7 L583.3 501.2 L584.3 501.8 L585.3 502.4 L586.4 503.0 L587.4 503.6 L588.4 504.2 L589.4 504.8 L590.4 505.4 L591.4 506.0 L592.4 506.6 L593.4 507.2 L594.4 507.8 L595.4 508.4 L596.4 508.9 L597.4 509.5 L598.4 510.1 L599.4 510.7 L600.4 511.3 L601.4 511.9 L602.4 512.5 L603.4 513.1 L604.4 513.7 L605.4 514.3 L606.4 514.9 L607.4 515.5 L608.4 516.1 L609.4 516.6 L610.4 517.2 L611.4 517.8 L612.5 518.4 L613.5 519.0 L614.5 519.6 L615.5 520.2 L616.5 520.8 L617.5 521.4 L618.5 522.0 L619.5 522.6 L620.5 523.2 L621.5 523.8 L622.5 524.3 L623.5 524.9 L624.5 525.5 L625.5 526.1 L626.5 526.7 L627.5 527.3 L628.5 527.9 L629.5 528.5 L630.5 529.1 L631.5 529.7 L632.5 530.3 L633.5 530.9 L634.5 531.5 L635.5 532.0 L636.5 532.6 L637.6 533.2 L638.6 533.8 L639.6 534.4 L640.6 535.0 L641.6 535.6 L642.6 536.2 L643.6 536.8 L644.6 537.4 L645.6 538.0 L646.6 538.6 L647.6 539.2 L648.6 539.7 L649.6 540.3 L650.6 540.9 L651.6 541.5 L652.6 542.1 L653.6 542.7 L654.6 543.3 L655.6 543.9 L656.6 544.5 L657.6 545.1 L658.6 545.7 L659.6 546.3 L660.6 546.9 L661.6 547.4 L662.6 548.0 L663.7 548.6 L664.7 549.2 L665.7 549.8 L666.7 550.4 L667.7 551.0 L668.7 551.6 L669.7 552.2 L670.7 552.8 L671.7 553.4 L672.7 554.0 L673.7 554.6 L674.7 555.1 L675.7 555.7 L676.7 556.3 L677.7 556.9 L678.7 557.5 L679.7 558.1 L680.7 558.7 L681.7 559.3 L682.7 559.9 L683.7 560.5 L684.7 561.1 L685.7 561.7 L686.7 562.3 L687.7 562.8 L688.8 563.4 L689.8 564.0 L690.8 564.6 L691.8 565.2 L692.8 565.8 L693.8 566.4 L694.8 567.0 L695.8 567.6 L696.8 568.2 L697.8 568.8 L698.8 569.4 L699.8 570.0 L700.8 570.5 L701.8 571.1 L702.8 571.7 L703.8 572.3 L704.8 572.9 L705.8 573.5 L706.8 574.1 L707.8 574.7 L708.8 575.3 L709.8 575.9 L710.8 576.5 L711.8 577.1 L712.8 577.7 L713.8 578.2 L714.9 578.8 L715.9 579.4 L716.9 580.0 L717.9 580.6 L718.9 581.2 L719.9 581.8 L720.9 582.4 L721.9 583.0 L722.9 583.6 L723.9 584.2 L724.9 584.8 L725.9 585.4 L726.9 585.9 L727.9 586.5 L728.9 587.1 L729.9 587.7 L730.9 588.3 L731.9 588.9 L732.9 589.5 L733.9 590.1 L734.9 590.7 L735.9 591.3 L736.9 591.9 L737.9 592.5 L738.9 593.1 L740.0 593.6 L741.0 594.2 L742.0 594.8 L743.0 595.4 L744.0 596.0 L745.0 596.6 L746.0 597.2 L747.0 597.8 L748.0 598.4 L749.0 599.0 L750.0 599.6 L751.0 600.2 L752.0 600.8 L753.0 601.3 L754.0 601.9 L755.0 602.5 L756.0 603.1 L757.0 603.7 L758.0 604.3 L759.0 604.9 L760.0 605.5 L761.0 606.1 L762.0 606.7 L763.0 607.3 L764.0 607.9 L765.0 608.5 L766.1 609.0 L767.1 609.6 L768.1 610.2 L769.1 610.8 L770.1 611.4 L771.1 612.0 L772.1 612.6 L773.1 613.2 L774.1 613.8 L775.1 614.4 L776.1 615.0 L777.1 615.6 L778.1 616.2 L779.1 616.8 L780.0 617.4 L780.9 618.1 L781.7 618.8 L782.4 619.6 L783.0 620.3 L783.6 621.1 L784.1 621.9 L784.5 622.7 L784.8 623.6 L785.1 624.4 L785.3 625.3 L785.3 626.1 L785.3 627.0 L785.3 627.8 L785.1 628.7 L784.8 629.5 L784.5 630.3 L784.1 631.2 L783.6 632.0 L783.0 632.8 L782.4 633.5 L781.7 634.3 L780.9 635.0 L780.0 635.7 L779.1 636.4 L778.1 637.0 L777.1 637.6 L776.1 638.2 L775.1 638.8 L774.1 639.4 L773.1 640.0 L772.1 640.6 L771.1 641.2 L770.1 641.8 L769.1 642.4 L768.1 643.0 L767.1 643.6 L766.1 644.2 L765.1 644.8 L764.1 645.4 L763.1 646.0 L762.1 646.6 L761.1 647.2 L760.1 647.8 L759.1 648.4 L758.1 649.0 L757.1 649.6 L756.1 650.2 L755.1 650.8 L754.1 651.4 L753.1 652.0 L752.1 652.6 L751.1 653.2 L750.1 653.8 L749.1 654.4 L748.1 655.0 L747.1 655.6 L746.1 656.2 L745.1 656.8 L744.1 657.4 L743.1 658.0 L742.1 658.6 L741.1 659.2 L740.1 659.8 L739.1 660.4 L738.1 661.0 L737.1 661.6 L736.1 662.2 L735.1 662.8 L734.1 663.4 L733.1 664.0 L732.1 664.6 L731.1 665.2 L730.1 665.8 L729.1 666.4 L728.1 667.0 L727.1 667.6 L726.1 668.2 L725.1 668.8 L724.1 669.4 L723.1 670.0 L722.1 670.6 L721.1 671.2 L720.1 671.8 L719.1 672.4 L718.1 673.0 L717.1 673.6 L716.1 674.2 L715.1 674.8 L714.1 675.4 L713.1 676.0 L712.1 676.6 L711.1 677.2 L710.1 677.8 L709.1 678.4 L708.1 679.0 L707.1 679.6 L706.1 680.2 L705.1 680.8 L704.1 681.4 L703.1 682.0 L702.1 682.6 L701.1 683.2 L700.1 683.8 L699.1 684.4 L698.1 685.0 L697.1 685.6 L696.1 686.2 L695.1 686.8 L694.1 687.4 L693.1 688.0 L692.1 688.6 L691.1 689.2 L690.1 689.8 L689.1 690.4 L688.1 691.0 L687.1 691.6 L686.1 692.2 L685.1 692.8 L684.1 693.4 L683.1 694.0 L682.1 694.6 L681.1 695.2 L680.1 695.8 L679.1 696.4 L678.1 697.0 L677.1 697.6 L676.1 698.2 L675.1 698.8 L674.1 699.4 L673.1 700.0 L672.1 700.6 L671.1 701.2 L670.1 701.8 L669.1 702.4 L668.1 703.0 L667.1 703.6 L666.1 704.2 L665.1 704.8 L664.1 705.4 L663.1 706.0 L662.1 706.6 L661.1 707.2 L660.1 707.8 L659.1 708.4 L658.1 709.0 L657.1 709.6 L656.1 710.2 L655.1 710.8 L654.1 711.4 L653.1 712.0 L652.1 712.6 L651.1 713.2 L650.1 713.8 L649.1 714.4 L648.1 715.0 L647.1 715.6 L646.1 716.2 L645.1 716.8 L644.1 717.4 L643.1 718.0 L642.1 718.6 L641.1 719.2 L640.1 719.8 L639.1 720.4 L638.1 721.0 L637.1 721.6 L636.1 722.2 L635.1 722.8 L634.1 723.4 L633.1 724.0 L632.1 724.6 L631.1 725.2 L630.1 725.8 L629.1 726.4 L628.1 727.0 L627.1 727.6 L626.1 728.2 L625.1 728.8 L624.1 729.4 L623.1 730.0 L622.1 730.6 L621.1 731.2 L620.1 731.8 L619.1 732.4 L618.1 733.0 L617.1 733.6 L616.1 734.2 L615.1 734.8 L614.1 735.4 L613.1 736.0 L612.1 736.6 L611.1 737.2 L610.1 737.8 L609.1 738.4 L608.1 739.0 L607.1 739.6 L606.1 740.2 L605.1 740.8 L604.1 741.4 L603.1 742.0 L602.1 742.6 L601.1 743.2 L600.1 743.8 L599.1 744.4 L598.1 745.0 L597.1 745.6 L596.1 746.2 L595.1 746.8 L594.1 747.4 L593.1 748.0 L592.1 748.6 L591.1 749.2 L590.1 749.8 L589.1 750.4 L588.1 751.0 L587.1 751.6 L586.1 752.2 L585.1 752.8 L584.1 753.4 L583.1 754.0 L582.1 754.6 L581.1 755.2 L580.1 755.8 L579.1 756.4 L578.1 757.0 L577.1 757.6 L576.1 758.2 L575.1 758.8 L574.1 759.4 L573.1 760.0 L572.1 760.6 L571.1 761.2 L570.1 761.8 L569.1 762.4 L568.1 763.0 L567.0 763.5 L565.8 764.0 L564.6 764.5 L563.3 765.0 L562.1 765.4 L560.7 765.7 L559.4 766.0 L558.0 766.2 L556.6 766.5 L555.2 766.6 L553.8 766.7 L552.3 766.8 L550.9 766.8 L549.4 766.7 L548.0 766.6 L546.6 766.5 L545.2 766.3 L543.8 766.1 L542.5 765.8 L541.1 765.5 L539.9 765.1 L538.6 764.7 L537.4 764.2 L536.2 763.7 L535.1 763.1 L534.1 762.6 L533.1 762.0 L532.1 761.4 L531.1 760.8 L530.1 760.2 L529.1 759.6 L528.1 759.0 L527.1 758.4 L526.1 757.8 L525.1 757.2 L524.1 756.6 L523.1 756.0 L522.1 755.4 L521.0 754.9 L520.0 754.3 L519.0 753.7 L518.0 753.1 L517.0 752.5 L516.0 751.9 L515.0 751.3 L514.0 750.7 L513.0 750.1 L512.0 749.5 L511.0 748.9 L510.0 748.3 L509.0 747.7 L508.0 747.2 L507.0 746.6 L506.0 746.0 L505.0 745.4 L504.0 744.8 L503.0 744.2 L502.0 743.6 L501.0 743.0 L500.0 742.4 L499.0 741.8 L498.0 741.2 L497.0 740.6 L496.0 740.0 L494.9 739.5 L493.9 738.9 L492.9 738.3 L491.9 737.7 L490.9 737.1 L489.9 736.5 L488.9 735.9 L487.9 735.3 L486.9 734.7 L485.9 734.1 L484.9 733.5 L483.9 732.9 L482.9 732.3 L481.9 731.8 L480.9 731.2 L479.9 730.6 L478.9 730.0 L477.9 729.4 L476.9 728.8 L475.9 728.2 L474.9 727.6 L473.9 727.0 L472.9 726.4 L471.9 725.8 L470.9 725.2 L469.8 724.6 L468.8 724.1 L467.8 723.5 L466.8 722.9 L465.8 722.3 L464.8 721.7 L463.8 721.1 L462.8 720.5 L461.8 719.9 L460.8 719.3 L459.8 718.7 L458.8 718.1 L457.8 717.5 L456.8 716.9 L455.8 716.4 L454.8 715.8 L453.8 715.2 L452.8 714.6 L451.8 714.0 L450.8 713.4 L449.8 712.8 L448.8 712.2 L447.8 711.6 L446.8 711.0 L445.8 710.4 L444.8 709.8 L443.7 709.2 L442.7 708.7 L441.7 708.1 L440.7 707.5 L439.7 706.9 L438.7 706.3 L437.7 705.7 L436.7 705.1 L435.7 704.5 L434.7 703.9 L433.7 703.3 L432.7 702.7 L431.7 702.1 L430.7 701.5 L429.7 701.0 L428.7 700.4 L427.7 699.8 L426.7 699.2 L425.7 698.6 L424.7 698.0 L423.7 697.4 L422.7 696.8 L421.7 696.2 L420.7 695.6 L419.7 695.0 L418.6 694.4 L417.6 693.8 L416.6 693.3 L415.6 692.7 L414.6 692.1 L413.6 691.5 L412.6 690.9 L411.6 690.3 L410.6 689.7 L409.6 689.1 L408.6 688.5 L407.6 687.9 L406.6 687.3 L405.6 686.7 L404.6 686.1 L403.6 685.6 L402.6 685.0 L401.6 684.4 L400.6 683.8 L399.6 683.2 L398.6 682.6 L397.6 682.0 L396.6 681.4 L395.6 680.8 L394.6 680.2 L393.6 679.6 L392.5 679.0 L391.5 678.4 L390.5 677.9 L389.5 677.3 L388.5 676.7 L387.5 676.1 L386.5 675.5 L385.5 674.9 L384.5 674.3 L383.5 673.7 L382.5 673.1 L381.5 672.5 L380.5 671.9 L379.5 671.3 L378.5 670.7 L377.5 670.2 L376.5 669.6 L375.5 669.0 L374.5 668.4 L373.5 667.8 L372.5 667.2 L371.5 666.6 L370.5 666.0 L369.5 665.4 L368.5 664.8 L367.4 664.2 L366.4 663.6 L365.4 663.0 L364.4 662.5 L363.4 661.9 L362.4 661.3 L361.4 660.7 L360.4 660.1 L359.4 659.5 L358.4 658.9 L357.4 658.3 L356.4 657.7 L355.4 657.1 L354.4 656.5 L353.4 655.9 L352.4 655.3 L351.4 654.8 L350.4 654.2 L349.4 653.6 L348.4 653.0 L347.4 652.4 L346.4 651.8 L345.4 651.2 L344.4 650.6 L343.4 650.0 L342.4 649.4 L341.3 648.8 L340.3 648.2 L339.3 647.6 L338.3 647.1 L337.3 646.5 L336.3 645.9 L335.3 645.3 L334.3 644.7 L333.3 644.1 L332.3 643.5 L331.3 642.9 L330.3 642.3 L329.3 641.7 L328.3 641.1 L327.3 640.4 L326.4 639.7 L325.6 638.9 L324.9 638.2 L324.2 637.4 L323.7 636.6 L323.2 635.7 L322.8 634.9 L322.5 634.0 L322.2 633.1 L322.1 632.2Z" fill="#dccfc7" stroke="#4a423d" stroke-width="0.9" stroke-linejoin="round"/>
<path d="M322.1 629.0 L322.1 628.2 L322.2 627.3 L322.5 626.4 L322.8 625.5 L323.2 624.7 L323.7 623.8 L324.2 623.0 L324.9 622.2 L325.6 621.4 L326.4 620.7 L327.3 619.9 L328.3 619.3 L329.3 618.6 L330.3 618.0 L331.3 617.4 L332.3 616.8 L333.3 616.2 L334.3 615.6 L335.3 615.0 L336.3 614.4 L337.3 613.8 L338.3 613.2 L339.3 612.6 L340.3 612.0 L341.3 611.4 L342.3 610.8 L343.3 610.2 L344.3 609.6 L345.3 609.0 L346.3 608.4 L347.3 607.8 L348.3 607.2 L349.3 606.6 L350.3 606.0 L351.3 605.4 L352.3 604.8 L353.3 604.2 L354.3 603.6 L355.3 603.0 L356.3 602.4 L357.3 601.8 L358.3 601.2 L359.3 600.6 L360.3 600.0 L361.3 599.4 L362.3 598.8 L363.3 598.2 L364.3 597.6 L365.3 597.0 L366.3 596.4 L367.3 595.8 L368.3 595.2 L369.3 594.6 L370.3 594.0 L371.3 593.4 L372.3 592.8 L373.3 592.2 L374.3 591.6 L375.3 591.0 L376.3 590.4 L377.3 589.8 L378.3 589.2 L379.3 588.6 L380.3 588.0 L381.3 587.4 L382.3 586.8 L383.3 586.2 L384.3 585.6 L385.3 585.0 L386.3 584.4 L387.3 583.8 L388.3 583.2 L389.3 582.6 L390.3 582.0 L391.3 581.4 L392.3 580.8 L393.3 580.2 L394.3 579.6 L395.3 579.0 L396.3 578.4 L397.3 577.8 L398.3 577.2 L399.3 576.6 L400.3 576.0 L401.3 575.4 L402.3 574.8 L403.3 574.2 L404.3 573.6 L405.3 573.0 L406.3 572.4 L407.3 571.8 L408.3 571.2 L409.3 570.6 L410.3 570.0 L411.3 569.4 L412.3 568.8 L413.3 568.2 L414.3 567.6 L415.3 567.0 L416.3 566.4 L417.3 565.8 L418.3 565.2 L419.3 564.6 L420.3 564.0 L421.3 563.4 L422.3 562.8 L423.3 562.2 L424.3 561.6 L425.3 561.0 L426.3 560.4 L427.3 559.8 L428.3 559.2 L429.3 558.6 L430.3 558.0 L431.3 557.4 L432.3 556.8 L433.3 556.2 L434.3 555.6 L435.3 555.0 L436.3 554.4 L437.3 553.8 L438.3 553.2 L439.3 552.6 L440.3 552.0 L441.3 551.4 L442.3 550.8 L443.3 550.2 L444.3 549.6 L445.3 549.0 L446.3 548.4 L447.3 547.8 L448.3 547.2 L449.3 546.6 L450.3 546.0 L451.3 545.4 L452.3 544.8 L453.3 544.2 L454.3 543.6 L455.3 543.0 L456.3 542.4 L457.3 541.8 L458.3 541.2 L459.3 540.6 L460.3 540.0 L461.3 539.4 L462.3 538.8 L463.3 538.2 L464.3 537.6 L465.3 537.0 L466.3 536.4 L467.3 535.8 L468.3 535.2 L469.3 534.6 L470.3 534.0 L471.3 533.4 L472.3 532.8 L473.3 532.2 L474.3 531.6 L475.3 531.0 L476.3 530.4 L477.3 529.8 L478.3 529.2 L479.3 528.6 L480.3 528.0 L481.3 527.4 L482.3 526.8 L483.3 526.2 L484.3 525.6 L485.3 525.0 L486.3 524.4 L487.3 523.8 L488.3 523.2 L489.3 522.6 L490.3 522.0 L491.3 521.4 L492.3 520.8 L493.3 520.2 L494.3 519.6 L495.3 519.0 L496.3 518.4 L497.3 517.8 L498.3 517.2 L499.3 516.6 L500.3 516.0 L501.3 515.4 L502.3 514.8 L503.3 514.2 L504.3 513.6 L505.3 513.0 L506.3 512.4 L507.3 511.8 L508.3 511.2 L509.3 510.6 L510.3 510.0 L511.3 509.4 L512.3 508.8 L513.3 508.2 L514.3 507.6 L515.3 507.0 L516.3 506.4 L517.3 505.8 L518.3 505.2 L519.3 504.6 L520.3 504.0 L521.3 503.4 L522.3 502.8 L523.3 502.2 L524.3 501.6 L525.3 501.0 L526.3 500.4 L527.3 499.8 L528.3 499.2 L529.3 498.6 L530.3 498.0 L531.3 497.4 L532.3 496.8 L533.3 496.2 L534.3 495.6 L535.3 495.0 L536.3 494.4 L537.3 493.8 L538.3 493.2 L539.3 492.6 L540.4 492.1 L541.6 491.5 L542.8 491.1 L544.1 490.6 L545.3 490.2 L546.7 489.9 L548.0 489.6 L549.4 489.3 L550.8 489.1 L552.2 489.0 L553.6 488.9 L555.1 488.8 L556.5 488.8 L558.0 488.8 L559.4 488.9 L560.8 489.1 L562.2 489.3 L563.6 489.5 L564.9 489.8 L566.3 490.1 L567.5 490.5 L568.8 490.9 L570.0 491.4 L571.2 491.9 L572.3 492.4 L573.3 493.0 L574.3 493.6 L575.3 494.2 L576.3 494.8 L577.3 495.4 L578.3 496.0 L579.3 496.6 L580.3 497.2 L581.3 497.8 L582.3 498.4 L583.3 498.9 L584.3 499.5 L585.3 500.1 L586.4 500.7 L587.4 501.3 L588.4 501.9 L589.4 502.5 L590.4 503.1 L591.4 503.7 L592.4 504.3 L593.4 504.9 L594.4 505.5 L595.4 506.1 L596.4 506.6 L597.4 507.2 L598.4 507.8 L599.4 508.4 L600.4 509.0 L601.4 509.6 L602.4 510.2 L603.4 510.8 L604.4 511.4 L605.4 512.0 L606.4 512.6 L607.4 513.2 L608.4 513.8 L609.4 514.3 L610.4 514.9 L611.4 515.5 L612.5 516.1 L613.5 516.7 L614.5 517.3 L615.5 517.9 L616.5 518.5 L617.5 519.1 L618.5 519.7 L619.5 520.3 L620.5 520.9 L621.5 521.5 L622.5 522.0 L623.5 522.6 L624.5 523.2 L625.5 523.8 L626.5 524.4 L627.5 525.0 L628.5 525.6 L629.5 526.2 L630.5 526.8 L631.5 527.4 L632.5 528.0 L633.5 528.6 L634.5 529.2 L635.5 529.7 L636.5 530.3 L637.6 530.9 L638.6 531.5 L639.6 532.1 L640.6 532.7 L641.6 533.3 L642.6 533.9 L643.6 534.5 L644.6 535.1 L645.6 535.7 L646.6 536.3 L647.6 536.9 L648.6 537.4 L649.6 538.0 L650.6 538.6 L651.6 539.2 L652.6 539.8 L653.6 540.4 L654.6 541.0 L655.6 541.6 L656.6 542.2 L657.6 542.8 L658.6 543.4 L659.6 544.0 L660.6 544.6 L661.6 545.1 L662.6 545.7 L663.7 546.3 L664.7 546.9 L665.7 547.5 L666.7 548.1 L667.7 548.7 L668.7 549.3 L669.7 549.9 L670.7 550.5 L671.7 551.1 L672.7 551.7 L673.7 552.3 L674.7 552.8 L675.7 553.4 L676.7 554.0 L677.7 554.6 L678.7 555.2 L679.7 555.8 L680.7 556.4 L681.7 557.0 L682.7 557.6 L683.7 558.2 L684.7 558.8 L685.7 559.4 L686.7 560.0 L687.7 560.5 L688.8 561.1 L689.8 561.7 L690.8 562.3 L691.8 562.9 L692.8 563.5 L693.8 564.1 L694.8 564.7 L695.8 565.3 L696.8 565.9 L697.8 566.5 L698.8 567.1 L699.8 567.7 L700.8 568.2 L701.8 568.8 L702.8 569.4 L703.8 570.0 L704.8 570.6 L705.8 571.2 L706.8 571.8 L707.8 572.4 L708.8 573.0 L709.8 573.6 L710.8 574.2 L711.8 574.8 L712.8 575.4 L713.8 575.9 L714.9 576.5 L715.9 577.1 L716.9 577.7 L717.9 578.3 L718.9 578.9 L719.9 579.5 L720.9 580.1 L721.9 580.7 L722.9 581.3 L723.9 581.9 L724.9 582.5 L725.9 583.1 L726.9 583.6 L727.9 584.2 L728.9 584.8 L729.9 585.4 L730.9 586.0 L731.9 586.6 L732.9 587.2 L733.9 587.8 L734.9 588.4 L735.9 589.0 L736.9 589.6 L737.9 590.2 L738.9 590.8 L740.0 591.3 L741.0 591.9 L742.0 592.5 L743.0 593.1 L744.0 593.7 L745.0 594.3 L746.0 594.9 L747.0 595.5 L748.0 596.1 L749.0 596.7 L750.0 597.3 L751.0 597.9 L752.0 598.5 L753.0 599.0 L754.0 599.6 L755.0 600.2 L756.0 600.8 L757.0 601.4 L758.0 602.0 L759.0 602.6 L760.0 603.2 L761.0 603.8 L762.0 604.4 L763.0 605.0 L764.0 605.6 L765.0 606.2 L766.1 606.7 L767.1 607.3 L768.1 607.9 L769.1 608.5 L770.1 609.1 L771.1 609.7 L772.1 610.3 L773.1 610.9 L774.1 611.5 L775.1 612.1 L776.1 612.7 L777.1 613.3 L778.1 613.9 L779.1 614.5 L780.0 615.1 L780.9 615.8 L781.7 616.5 L782.4 617.3 L783.0 618.0 L783.6 618.8 L784.1 619.6 L784.5 620.4 L784.8 621.3 L785.1 622.1 L785.3 623.0 L785.3 623.8 L785.3 624.7 L785.3 625.5 L785.1 626.4 L784.8 627.2 L784.5 628.0 L784.1 628.9 L783.6 629.7 L783.0 630.5 L782.4 631.2 L781.7 632.0 L780.9 632.7 L780.0 633.4 L779.1 634.1 L778.1 634.7 L777.1 635.3 L776.1 635.9 L775.1 636.5 L774.1 637.1 L773.1 637.7 L772.1 638.3 L771.1 638.9 L770.1 639.5 L769.1 640.1 L768.1 640.7 L767.1 641.3 L766.1 641.9 L765.1 642.5 L764.1 643.1 L763.1 643.7 L762.1 644.3 L761.1 644.9 L760.1 645.5 L759.1 646.1 L758.1 646.7 L757.1 647.3 L756.1 647.9 L755.1 648.5 L754.1 649.1 L753.1 649.7 L752.1 650.3 L751.1 650.9 L750.1 651.5 L749.1 652.1 L748.1 652.7 L747.1 653.3 L746.1 653.9 L745.1 654.5 L744.1 655.1 L743.1 655.7 L742.1 656.3 L741.1 656.9 L740.1 657.5 L739.1 658.1 L738.1 658.7 L737.1 659.3 L736.1 659.9 L735.1 660.5 L734.1 661.1 L733.1 661.7 L732.1 662.3 L731.1 662.9 L730.1 663.5 L729.1 664.1 L728.1 664.7 L727.1 665.3 L726.1 665.9 L725.1 666.5 L724.1 667.1 L723.1 667.7 L722.1 668.3 L721.1 668.9 L720.1 669.5 L719.1 670.1 L718.1 670.7 L717.1 671.3 L716.1 671.9 L715.1 672.5 L714.1 673.1 L713.1 673.7 L712.1 674.3 L711.1 674.9 L710.1 675.5 L709.1 676.1 L708.1 676.7 L707.1 677.3 L706.1 677.9 L705.1 678.5 L704.1 679.1 L703.1 679.7 L702.1 680.3 L701.1 680.9 L700.1 681.5 L699.1 682.1 L698.1 682.7 L697.1 683.3 L696.1 683.9 L695.1 684.5 L694.1 685.1 L693.1 685.7 L692.1 686.3 L691.1 686.9 L690.1 687.5 L689.1 688.1 L688.1 688.7 L687.1 689.3 L686.1 689.9 L685.1 690.5 L684.1 691.1 L683.1 691.7 L682.1 692.3 L681.1 692.9 L680.1 693.5 L679.1 694.1 L678.1 694.7 L677.1 695.3 L676.1 695.9 L675.1 696.5 L674.1 697.1 L673.1 697.7 L672.1 698.3 L671.1 698.9 L670.1 699.5 L669.1 700.1 L668.1 700.7 L667.1 701.3 L666.1 701.9 L665.1 702.5 L664.1 703.1 L663.1 703.7 L662.1 704.3 L661.1 704.9 L660.1 705.5 L659.1 706.1 L658.1 706.7 L657.1 707.3 L656.1 707.9 L655.1 708.5 L654.1 709.1 L653.1 709.7 L652.1 710.3 L651.1 710.9 L650.1 711.5 L649.1 712.1 L648.1 712.7 L647.1 713.3 L646.1 713.9 L645.1 714.5 L644.1 715.1 L643.1 715.7 L642.1 716.3 L641.1 716.9 L640.1 717.5 L639.1 718.1 L638.1 718.7 L637.1 719.3 L636.1 719.9 L635.1 720.5 L634.1 721.1 L633.1 721.7 L632.1 722.3 L631.1 722.9 L630.1 723.5 L629.1 724.1 L628.1 724.7 L627.1 725.3 L626.1 725.9 L625.1 726.5 L624.1 727.1 L623.1 727.7 L622.1 728.3 L621.1 728.9 L620.1 729.5 L619.1 730.1 L618.1 730.7 L617.1 731.3 L616.1 731.9 L615.1 732.5 L614.1 733.1 L613.1 733.7 L612.1 734.3 L611.1 734.9 L610.1 735.5 L609.1 736.1 L608.1 736.7 L607.1 737.3 L606.1 737.9 L605.1 738.5 L604.1 739.1 L603.1 739.7 L602.1 740.3 L601.1 740.9 L600.1 741.5 L599.1 742.1 L598.1 742.7 L597.1 743.3 L596.1 743.9 L595.1 744.5 L594.1 745.1 L593.1 745.7 L592.1 746.3 L591.1 746.9 L590.1 747.5 L589.1 748.1 L588.1 748.7 L587.1 749.3 L586.1 749.9 L585.1 750.5 L584.1 751.1 L583.1 751.7 L582.1 752.3 L581.1 752.9 L580.1 753.5 L579.1 754.1 L578.1 754.7 L577.1 755.3 L576.1 755.9 L575.1 756.5 L574.1 757.1 L573.1 757.7 L572.1 758.3 L571.1 758.9 L570.1 759.5 L569.1 760.1 L568.1 760.7 L567.0 761.2 L565.8 761.7 L564.6 762.2 L563.3 762.7 L562.1 763.1 L560.7 763.4 L559.4 763.7 L558.0 763.9 L556.6 764.2 L555.2 764.3 L553.8 764.4 L552.3 764.5 L550.9 764.5 L549.4 764.4 L548.0 764.3 L546.6 764.2 L545.2 764.0 L543.8 763.8 L542.5 763.5 L541.1 763.2 L539.9 762.8 L538.6 762.4 L537.4 761.9 L536.2 761.4 L535.1 760.8 L534.1 760.3 L533.1 759.7 L532.1 759.1 L531.1 758.5 L530.1 757.9 L529.1 757.3 L528.1 756.7 L527.1 756.1 L526.1 755.5 L525.1 754.9 L524.1 754.3 L523.1 753.7 L522.1 753.1 L521.0 752.6 L520.0 752.0 L519.0 751.4 L518.0 750.8 L517.0 750.2 L516.0 749.6 L515.0 749.0 L514.0 748.4 L513.0 747.8 L512.0 747.2 L511.0 746.6 L510.0 746.0 L509.0 745.4 L508.0 744.9 L507.0 744.3 L506.0 743.7 L505.0 743.1 L504.0 742.5 L503.0 741.9 L502.0 741.3 L501.0 740.7 L500.0 740.1 L499.0 739.5 L498.0 738.9 L497.0 738.3 L496.0 737.7 L494.9 737.2 L493.9 736.6 L492.9 736.0 L491.9 735.4 L490.9 734.8 L489.9 734.2 L488.9 733.6 L487.9 733.0 L486.9 732.4 L485.9 731.8 L484.9 731.2 L483.9 730.6 L482.9 730.0 L481.9 729.5 L480.9 728.9 L479.9 728.3 L478.9 727.7 L477.9 727.1 L476.9 726.5 L475.9 725.9 L474.9 725.3 L473.9 724.7 L472.9 724.1 L471.9 723.5 L470.9 722.9 L469.8 722.3 L468.8 721.8 L467.8 721.2 L466.8 720.6 L465.8 720.0 L464.8 719.4 L463.8 718.8 L462.8 718.2 L461.8 717.6 L460.8 717.0 L459.8 716.4 L458.8 715.8 L457.8 715.2 L456.8 714.6 L455.8 714.1 L454.8 713.5 L453.8 712.9 L452.8 712.3 L451.8 711.7 L450.8 711.1 L449.8 710.5 L448.8 709.9 L447.8 709.3 L446.8 708.7 L445.8 708.1 L444.8 707.5 L443.7 706.9 L442.7 706.4 L441.7 705.8 L440.7 705.2 L439.7 704.6 L438.7 704.0 L437.7 703.4 L436.7 702.8 L435.7 702.2 L434.7 701.6 L433.7 701.0 L432.7 700.4 L431.7 699.8 L430.7 699.2 L429.7 698.7 L428.7 698.1 L427.7 697.5 L426.7 696.9 L425.7 696.3 L424.7 695.7 L423.7 695.1 L422.7 694.5 L421.7 693.9 L420.7 693.3 L419.7 692.7 L418.6 692.1 L417.6 691.5 L416.6 691.0 L415.6 690.4 L414.6 689.8 L413.6 689.2 L412.6 688.6 L411.6 688.0 L410.6 687.4 L409.6 686.8 L408.6 686.2 L407.6 685.6 L406.6 685.0 L405.6 684.4 L404.6 683.8 L403.6 683.3 L402.6 682.7 L401.6 682.1 L400.6 681.5 L399.6 680.9 L398.6 680.3 L397.6 679.7 L396.6 679.1 L395.6 678.5 L394.6 677.9 L393.6 677.3 L392.5 676.7 L391.5 676.1 L390.5 675.6 L389.5 675.0 L388.5 674.4 L387.5 673.8 L386.5 673.2 L385.5 672.6 L384.5 672.0 L383.5 671.4 L382.5 670.8 L381.5 670.2 L380.5 669.6 L379.5 669.0 L378.5 668.4 L377.5 667.9 L376.5 667.3 L375.5 666.7 L374.5 666.1 L373.5 665.5 L372.5 664.9 L371.5 664.3 L370.5 663.7 L369.5 663.1 L368.5 662.5 L367.4 661.9 L366.4 661.3 L365.4 660.7 L364.4 660.2 L363.4 659.6 L362.4 659.0 L361.4 658.4 L360.4 657.8 L359.4 657.2 L358.4 656.6 L357.4 656.0 L356.4 655.4 L355.4 654.8 L354.4 654.2 L353.4 653.6 L352.4 653.0 L351.4 652.5 L350.4 651.9 L349.4 651.3 L348.4 650.7 L347.4 650.1 L346.4 649.5 L345.4 648.9 L344.4 648.3 L343.4 647.7 L342.4 647.1 L341.3 646.5 L340.3 645.9 L339.3 645.3 L338.3 644.8 L337.3 644.2 L336.3 643.6 L335.3 643.0 L334.3 642.4 L333.3 641.8 L332.3 641.2 L331.3 640.6 L330.3 640.0 L329.3 639.4 L328.3 638.8 L327.3 638.1 L326.4 637.4 L325.6 636.6 L324.9 635.9 L324.2 635.1 L323.7 634.3 L323.2 633.4 L322.8 632.6 L322.5 631.7 L322.2 630.8 L322.1 629.9Z" fill="#eae0da" stroke="#4a423d" stroke-width="0.9" stroke-linejoin="round"/></g>
<g id="l3"><g fill="#4d4845" stroke="#4d4845" stroke-width="2" stroke-linejoin="round"><path d="M328.5 534.0 L422.0 478.5 L560.0 395.0 L800.0 531.0 L660.0 618.0 L555.0 678.0 L339.0 550.5 L328.0 537.5Z"/></g>
<g fill="#4d4845"><use href="#lf" transform="translate(328.5 534.3) rotate(-124) scale(7.0 5.4)"/><use href="#lf" transform="translate(334.3 532.9) rotate(-142) scale(7.8 4.5)"/><use href="#lf" transform="translate(339.9 530.0) rotate(-108) scale(8.4 5.9)"/><use href="#lf" transform="translate(340.6 525.8) rotate(-125) scale(5.8 3.5)"/><use href="#lf" transform="translate(346.0 523.0) rotate(-145) scale(7.3 4.9)"/><use href="#lf" transform="translate(350.5 521.5) rotate(-168) scale(5.8 3.7)"/><use href="#lf" transform="translate(357.3 518.9) rotate(-153) scale(8.0 4.5)"/><use href="#lf" transform="translate(359.4 517.6) rotate(-146) scale(7.2 5.3)"/><use href="#lf" transform="translate(363.7 513.7) rotate(-88) scale(5.4 3.2)"/><use href="#lf" transform="translate(367.7 509.2) rotate(-67) scale(6.3 4.2)"/><use href="#lf" transform="translate(374.3 506.7) rotate(-66) scale(5.1 3.2)"/><use href="#lf" transform="translate(376.9 504.2) rotate(-84) scale(5.0 3.6)"/><use href="#lf" transform="translate(380.8 503.4) rotate(-162) scale(6.3 4.5)"/><use href="#lf" transform="translate(386.2 498.6) rotate(-109) scale(6.1 3.8)"/><use href="#lf" transform="translate(391.9 497.7) rotate(-167) scale(6.4 4.3)"/><use href="#lf" transform="translate(396.3 494.6) rotate(-76) scale(6.4 4.3)"/><use href="#lf" transform="translate(399.7 493.3) rotate(-108) scale(7.0 5.2)"/><use href="#lf" transform="translate(404.0 490.1) rotate(-156) scale(6.6 3.9)"/><use href="#lf" transform="translate(410.7 487.4) rotate(-100) scale(8.4 5.9)"/><use href="#lf" transform="translate(414.9 484.4) rotate(-173) scale(7.5 5.8)"/><use href="#lf" transform="translate(418.8 480.2) rotate(-95) scale(5.3 3.7)"/><use href="#lf" transform="translate(421.1 479.5) rotate(-81) scale(6.7 3.9)"/><use href="#lf" transform="translate(329.2 537.0) rotate(127) scale(6.3 3.7)"/><use href="#lf" transform="translate(329.6 534.1) rotate(168) scale(7.6 5.2)"/><use href="#lf" transform="translate(339.7 549.9) rotate(142) scale(6.7 4.2)"/><use href="#lf" transform="translate(342.9 552.3) rotate(123) scale(5.5 3.9)"/><use href="#lf" transform="translate(347.0 554.2) rotate(113) scale(7.3 4.5)"/><use href="#lf" transform="translate(351.3 557.5) rotate(120) scale(6.1 3.7)"/><use href="#lf" transform="translate(353.7 560.0) rotate(157) scale(6.6 5.1)"/><use href="#lf" transform="translate(358.8 562.3) rotate(162) scale(5.3 3.2)"/><use href="#lf" transform="translate(361.8 564.1) rotate(68) scale(5.5 3.7)"/><use href="#lf" transform="translate(367.4 566.0) rotate(154) scale(7.2 5.1)"/><use href="#lf" transform="translate(369.7 569.9) rotate(144) scale(5.0 3.5)"/><use href="#lf" transform="translate(375.4 571.0) rotate(159) scale(8.5 5.0)"/><use href="#lf" transform="translate(378.5 572.9) rotate(166) scale(6.6 4.7)"/><use href="#lf" transform="translate(383.4 574.8) rotate(161) scale(8.4 4.9)"/><use href="#lf" transform="translate(388.9 578.2) rotate(153) scale(8.4 5.7)"/><use href="#lf" transform="translate(390.4 579.8) rotate(150) scale(6.5 4.5)"/><use href="#lf" transform="translate(395.2 584.9) rotate(152) scale(5.6 3.7)"/><use href="#lf" transform="translate(400.1 586.0) rotate(120) scale(7.4 5.7)"/><use href="#lf" transform="translate(403.2 586.8) rotate(123) scale(7.6 5.3)"/><use href="#lf" transform="translate(406.5 589.9) rotate(123) scale(8.0 6.2)"/><use href="#lf" transform="translate(411.1 593.4) rotate(122) scale(5.1 4.0)"/><use href="#lf" transform="translate(415.3 596.0) rotate(111) scale(5.2 3.7)"/><use href="#lf" transform="translate(418.1 597.2) rotate(165) scale(6.5 4.9)"/><use href="#lf" transform="translate(424.3 600.2) rotate(68) scale(5.5 4.1)"/><use href="#lf" transform="translate(426.0 602.7) rotate(130) scale(6.7 4.6)"/><use href="#lf" transform="translate(430.9 607.0) rotate(156) scale(5.1 3.7)"/><use href="#lf" transform="translate(436.1 605.5) rotate(160) scale(8.0 5.6)"/><use href="#lf" transform="translate(440.3 607.8) rotate(151) scale(8.1 4.9)"/><use href="#lf" transform="translate(441.9 612.4) rotate(112) scale(5.3 4.1)"/><use href="#lf" transform="translate(446.5 612.9) rotate(156) scale(7.0 4.5)"/><use href="#lf" transform="translate(452.3 617.2) rotate(119) scale(7.9 5.8)"/><use href="#lf" transform="translate(454.0 618.6) rotate(158) scale(5.6 3.6)"/><use href="#lf" transform="translate(459.9 622.2) rotate(102) scale(6.6 4.9)"/><use href="#lf" transform="translate(462.6 621.7) rotate(85) scale(7.5 5.6)"/><use href="#lf" transform="translate(465.8 626.3) rotate(164) scale(6.8 3.9)"/><use href="#lf" transform="translate(471.0 628.8) rotate(103) scale(5.7 4.0)"/><use href="#lf" transform="translate(476.0 630.8) rotate(162) scale(6.4 4.9)"/><use href="#lf" transform="translate(478.8 634.7) rotate(117) scale(5.2 3.5)"/><use href="#lf" transform="translate(483.3 633.5) rotate(103) scale(8.3 5.9)"/><use href="#lf" transform="translate(488.1 638.8) rotate(149) scale(7.2 5.2)"/><use href="#lf" transform="translate(491.0 638.8) rotate(87) scale(6.4 3.8)"/><use href="#lf" transform="translate(494.7 643.3) rotate(159) scale(6.5 4.4)"/><use href="#lf" transform="translate(499.4 645.1) rotate(169) scale(8.3 5.4)"/><use href="#lf" transform="translate(503.8 646.5) rotate(97) scale(6.5 4.4)"/><use href="#lf" transform="translate(507.7 648.8) rotate(98) scale(6.0 4.4)"/><use href="#lf" transform="translate(512.2 651.3) rotate(148) scale(6.4 4.9)"/><use href="#lf" transform="translate(515.1 653.9) rotate(92) scale(6.7 5.2)"/><use href="#lf" transform="translate(520.9 656.1) rotate(78) scale(7.9 5.5)"/><use href="#lf" transform="translate(523.3 658.8) rotate(139) scale(5.4 3.7)"/><use href="#lf" transform="translate(528.3 660.7) rotate(170) scale(6.9 5.4)"/><use href="#lf" transform="translate(531.6 663.5) rotate(141) scale(6.3 4.0)"/><use href="#lf" transform="translate(536.5 666.1) rotate(87) scale(6.8 4.8)"/><use href="#lf" transform="translate(537.7 668.1) rotate(96) scale(5.1 3.3)"/><use href="#lf" transform="translate(543.1 670.6) rotate(120) scale(6.2 4.1)"/><use href="#lf" transform="translate(548.2 673.1) rotate(148) scale(7.7 5.1)"/><use href="#lf" transform="translate(551.2 674.1) rotate(86) scale(7.7 5.7)"/><use href="#lf" transform="translate(555.4 677.6) rotate(155) scale(6.5 4.5)"/><use href="#lf" transform="translate(329.2 537.5) rotate(134) scale(7.1 5.1)"/><use href="#lf" transform="translate(329.5 541.3) rotate(115) scale(6.1 4.7)"/><use href="#lf" transform="translate(333.5 541.4) rotate(115) scale(7.8 4.9)"/><use href="#lf" transform="translate(335.1 544.4) rotate(124) scale(6.3 4.1)"/><use href="#lf" transform="translate(337.2 546.5) rotate(90) scale(7.1 4.3)"/><use href="#lf" transform="translate(338.7 549.6) rotate(82) scale(5.6 3.6)"/><use href="#lf" transform="translate(554.3 679.1) rotate(104) scale(5.3 3.9)"/><use href="#lf" transform="translate(558.2 675.6) rotate(63) scale(5.8 4.3)"/><use href="#lf" transform="translate(563.4 674.1) rotate(83) scale(6.9 5.0)"/><use href="#lf" transform="translate(567.8 670.3) rotate(103) scale(7.8 5.8)"/><use href="#lf" transform="translate(571.6 667.9) rotate(21) scale(6.5 4.3)"/><use href="#lf" transform="translate(574.4 666.8) rotate(112) scale(6.5 4.1)"/><use href="#lf" transform="translate(579.8 663.6) rotate(56) scale(5.6 3.4)"/><use href="#lf" transform="translate(582.2 661.7) rotate(84) scale(5.8 3.7)"/><use href="#lf" transform="translate(585.7 658.6) rotate(66) scale(7.7 4.8)"/><use href="#lf" transform="translate(590.8 655.4) rotate(100) scale(7.7 4.5)"/><use href="#lf" transform="translate(595.5 653.5) rotate(12) scale(7.7 5.7)"/><use href="#lf" transform="translate(599.9 651.8) rotate(23) scale(7.5 5.2)"/><use href="#lf" transform="translate(602.6 648.0) rotate(64) scale(8.5 5.2)"/><use href="#lf" transform="translate(607.2 649.9) rotate(16) scale(5.9 4.4)"/><use href="#lf" transform="translate(612.3 645.1) rotate(51) scale(6.1 4.5)"/><use href="#lf" transform="translate(615.1 642.2) rotate(97) scale(6.8 4.1)"/><use href="#lf" transform="translate(620.1 640.9) rotate(21) scale(5.2 3.2)"/><use href="#lf" transform="translate(622.4 639.3) rotate(31) scale(6.3 4.6)"/><use href="#lf" transform="translate(629.4 637.2) rotate(108) scale(5.5 4.0)"/><use href="#lf" transform="translate(631.0 634.2) rotate(41) scale(5.7 4.2)"/><use href="#lf" transform="translate(636.6 631.5) rotate(16) scale(5.3 3.3)"/><use href="#lf" transform="translate(639.9 627.7) rotate(30) scale(7.1 4.2)"/><use href="#lf" transform="translate(644.6 626.2) rotate(76) scale(6.5 4.4)"/><use href="#lf" transform="translate(648.5 625.3) rotate(40) scale(7.5 5.3)"/><use href="#lf" transform="translate(651.0 622.4) rotate(54) scale(5.7 3.7)"/><use href="#lf" transform="translate(656.1 620.0) rotate(105) scale(5.6 4.1)"/><use href="#lf" transform="translate(660.5 617.7) rotate(84) scale(8.5 5.7)"/><use href="#lf" transform="translate(553.3 676.8) rotate(81) scale(5.5 3.8)"/><use href="#lf" transform="translate(555.5 676.7) rotate(61) scale(6.6 4.8)"/><use href="#lf" transform="translate(557.5 675.8) rotate(101) scale(8.5 6.3)"/></g>
<path d="M328.5 534.0 L422.0 478.5 L560.0 395.0 L800.0 531.0 L660.0 618.0 L555.0 678.0 L339.0 550.5 L328.0 537.5Z" fill="#e9ebeb"/>
<g clip-path="url(#dc)"><use href="#lf" transform="translate(562.2 555.0) rotate(292) scale(6.5 3.4)" fill="#e3e6e6"/><use href="#lf" transform="translate(328.3 516.2) rotate(237) scale(11.4 6.7)" fill="#dfe2e2"/><use href="#lf" transform="translate(561.5 657.6) rotate(231) scale(10.9 5.7)" fill="#ffffff"/><use href="#lf" transform="translate(369.1 565.3) rotate(43) scale(5.7 2.9)" fill="#ced2d2"/><use href="#lf" transform="translate(373.9 588.2) rotate(120) scale(7.1 3.6)" fill="#ffffff"/><use href="#lf" transform="translate(550.4 645.0) rotate(37) scale(7.9 4.0)" fill="#d5d9d9"/><use href="#lf" transform="translate(450.5 610.2) rotate(271) scale(9.6 5.3)" fill="#e3e6e6"/><use href="#lf" transform="translate(604.3 576.3) rotate(297) scale(10.9 5.9)" fill="#ffffff"/><use href="#lf" transform="translate(500.2 669.9) rotate(156) scale(8.7 4.4)" fill="#ffffff"/><use href="#lf" transform="translate(421.3 489.6) rotate(264) scale(9.9 5.7)" fill="#f4f5f5"/><use href="#lf" transform="translate(421.7 645.4) rotate(88) scale(10.8 6.2)" fill="#e3e6e6"/><use href="#lf" transform="translate(396.0 663.1) rotate(38) scale(11.3 5.6)" fill="#f1f2f2"/><use href="#lf" transform="translate(493.5 617.3) rotate(360) scale(11.1 6.4)" fill="#d5d9d9"/><use href="#lf" transform="translate(597.0 567.3) rotate(269) scale(10.3 4.6)" fill="#f4f5f5"/><use href="#lf" transform="translate(357.5 493.2) rotate(318) scale(8.6 3.7)" fill="#f4f5f5"/><use href="#lf" transform="translate(624.2 478.1) rotate(117) scale(7.0 3.2)" fill="#ffffff"/><use href="#lf" transform="translate(459.9 573.4) rotate(249) scale(8.7 3.7)" fill="#f1f2f2"/><use href="#lf" transform="translate(332.8 484.6) rotate(179) scale(10.9 5.0)" fill="#e3e6e6"/><use href="#lf" transform="translate(601.0 521.0) rotate(21) scale(10.7 5.7)" fill="#d5d9d9"/><use href="#lf" transform="translate(587.8 553.1) rotate(317) scale(8.3 3.6)" fill="#dadede"/><use href="#lf" transform="translate(383.0 612.1) rotate(18) scale(6.6 3.8)" fill="#ffffff"/><use href="#lf" transform="translate(416.6 651.4) rotate(151) scale(11.3 5.1)" fill="#f8f9f9"/><use href="#lf" transform="translate(425.8 680.9) rotate(61) scale(10.2 4.9)" fill="#dfe2e2"/><use href="#lf" transform="translate(356.9 624.5) rotate(181) scale(7.1 3.9)" fill="#dfe2e2"/><use href="#lf" transform="translate(572.5 557.0) rotate(212) scale(9.5 5.5)" fill="#f1f2f2"/><use href="#lf" transform="translate(632.6 667.8) rotate(48) scale(6.6 2.9)" fill="#ffffff"/><use href="#lf" transform="translate(467.0 494.2) rotate(327) scale(11.0 4.6)" fill="#ffffff"/><use href="#lf" transform="translate(511.1 538.3) rotate(31) scale(7.0 3.9)" fill="#dfe2e2"/><use href="#lf" transform="translate(636.2 518.2) rotate(10) scale(6.6 3.6)" fill="#f8f9f9"/><use href="#lf" transform="translate(636.1 485.1) rotate(138) scale(8.3 4.5)" fill="#e3e6e6"/><use href="#lf" transform="translate(337.4 491.6) rotate(115) scale(10.2 5.9)" fill="#e3e6e6"/><use href="#lf" transform="translate(570.1 587.5) rotate(246) scale(8.5 4.9)" fill="#dadede"/><use href="#lf" transform="translate(557.7 590.7) rotate(40) scale(9.1 5.0)" fill="#ced2d2"/><use href="#lf" transform="translate(393.8 571.4) rotate(285) scale(10.1 5.7)" fill="#f1f2f2"/><use href="#lf" transform="translate(401.6 593.4) rotate(94) scale(10.6 5.5)" fill="#f1f2f2"/><use href="#lf" transform="translate(510.2 629.5) rotate(65) scale(8.9 5.1)" fill="#f8f9f9"/><use href="#lf" transform="translate(513.9 607.0) rotate(260) scale(10.3 5.2)" fill="#ffffff"/><use href="#lf" transform="translate(341.4 670.3) rotate(285) scale(8.9 4.5)" fill="#f1f2f2"/><use href="#lf" transform="translate(518.7 489.4) rotate(295) scale(8.1 4.3)" fill="#dadede"/><use href="#lf" transform="translate(569.4 640.2) rotate(184) scale(8.5 4.5)" fill="#ced2d2"/><use href="#lf" transform="translate(400.1 511.9) rotate(283) scale(9.6 5.5)" fill="#ffffff"/><use href="#lf" transform="translate(419.7 577.0) rotate(345) scale(9.7 5.2)" fill="#f8f9f9"/><use href="#lf" transform="translate(475.6 639.4) rotate(164) scale(11.4 4.9)" fill="#ffffff"/><use href="#lf" transform="translate(319.1 564.9) rotate(200) scale(8.7 3.6)" fill="#e3e6e6"/><use href="#lf" transform="translate(454.7 494.2) rotate(275) scale(5.7 3.4)" fill="#f4f5f5"/><use href="#lf" transform="translate(392.0 531.7) rotate(166) scale(8.8 4.0)" fill="#f1f2f2"/><use href="#lf" transform="translate(435.2 549.5) rotate(14) scale(11.4 5.9)" fill="#ced2d2"/><use href="#lf" transform="translate(506.4 688.9) rotate(328) scale(9.9 5.1)" fill="#f4f5f5"/><use href="#lf" transform="translate(615.5 515.6) rotate(77) scale(10.7 6.3)" fill="#ced2d2"/><use href="#lf" transform="translate(569.6 523.7) rotate(198) scale(7.6 3.3)" fill="#f8f9f9"/><use href="#lf" transform="translate(472.6 562.8) rotate(170) scale(9.1 5.0)" fill="#e3e6e6"/><use href="#lf" transform="translate(637.8 622.0) rotate(138) scale(10.7 4.7)" fill="#ffffff"/><use href="#lf" transform="translate(333.2 536.6) rotate(187) scale(11.2 5.9)" fill="#dfe2e2"/><use href="#lf" transform="translate(482.9 598.3) rotate(37) scale(9.4 4.2)" fill="#ffffff"/><use href="#lf" transform="translate(367.4 676.6) rotate(260) scale(7.7 4.2)" fill="#ffffff"/><use href="#lf" transform="translate(324.6 546.3) rotate(318) scale(7.8 3.3)" fill="#d5d9d9"/><use href="#lf" transform="translate(400.5 664.3) rotate(219) scale(9.5 4.4)" fill="#e3e6e6"/><use href="#lf" transform="translate(331.1 510.0) rotate(112) scale(9.1 3.7)" fill="#ced2d2"/><use href="#lf" transform="translate(472.1 625.1) rotate(113) scale(8.6 4.4)" fill="#e3e6e6"/><use href="#lf" transform="translate(532.5 509.2) rotate(257) scale(6.7 3.1)" fill="#ced2d2"/><use href="#lf" transform="translate(362.0 587.6) rotate(133) scale(7.6 3.2)" fill="#f4f5f5"/><use href="#lf" transform="translate(387.5 486.6) rotate(204) scale(5.6 3.0)" fill="#dfe2e2"/><use href="#lf" transform="translate(530.7 492.2) rotate(127) scale(10.6 5.4)" fill="#ffffff"/><use href="#lf" transform="translate(625.6 662.1) rotate(32) scale(6.9 3.6)" fill="#ced2d2"/><use href="#lf" transform="translate(356.6 582.5) rotate(102) scale(8.4 4.9)" fill="#dfe2e2"/><use href="#lf" transform="translate(389.4 674.2) rotate(126) scale(6.7 3.7)" fill="#f1f2f2"/><use href="#lf" transform="translate(485.6 635.5) rotate(172) scale(10.9 6.1)" fill="#dfe2e2"/><use href="#lf" transform="translate(543.8 595.3) rotate(141) scale(9.7 3.9)" fill="#d5d9d9"/><use href="#lf" transform="translate(610.9 671.4) rotate(305) scale(7.1 3.4)" fill="#dfe2e2"/><use href="#lf" transform="translate(469.0 547.0) rotate(125) scale(7.0 2.8)" fill="#d5d9d9"/><use href="#lf" transform="translate(500.2 533.5) rotate(169) scale(9.5 4.2)" fill="#f4f5f5"/><use href="#lf" transform="translate(427.9 668.3) rotate(78) scale(5.7 3.1)" fill="#ffffff"/><use href="#lf" transform="translate(520.0 609.6) rotate(99) scale(8.0 3.8)" fill="#e3e6e6"/><use href="#lf" transform="translate(601.3 559.0) rotate(49) scale(11.0 4.5)" fill="#dadede"/><use href="#lf" transform="translate(405.9 582.9) rotate(218) scale(8.3 3.4)" fill="#dfe2e2"/><use href="#lf" transform="translate(391.6 622.2) rotate(196) scale(6.9 2.8)" fill="#ced2d2"/><use href="#lf" transform="translate(319.1 594.0) rotate(28) scale(10.6 5.9)" fill="#dadede"/><use href="#lf" transform="translate(602.7 624.5) rotate(37) scale(10.3 4.7)" fill="#ffffff"/><use href="#lf" transform="translate(418.9 629.8) rotate(347) scale(9.7 5.2)" fill="#f8f9f9"/><use href="#lf" transform="translate(369.3 609.8) rotate(133) scale(8.4 4.3)" fill="#dfe2e2"/><use href="#lf" transform="translate(436.1 619.6) rotate(130) scale(8.5 4.5)" fill="#f8f9f9"/><use href="#lf" transform="translate(613.4 634.4) rotate(294) scale(10.8 6.4)" fill="#dfe2e2"/><use href="#lf" transform="translate(354.3 573.7) rotate(59) scale(10.1 5.0)" fill="#ced2d2"/><use href="#lf" transform="translate(598.1 489.3) rotate(287) scale(7.0 3.5)" fill="#ced2d2"/><use href="#lf" transform="translate(399.4 612.6) rotate(66) scale(7.7 4.1)" fill="#f1f2f2"/><use href="#lf" transform="translate(589.4 653.7) rotate(254) scale(8.9 4.3)" fill="#f4f5f5"/><use href="#lf" transform="translate(556.4 535.0) rotate(224) scale(6.5 2.8)" fill="#dfe2e2"/><use href="#lf" transform="translate(392.4 517.1) rotate(339) scale(5.6 2.9)" fill="#f8f9f9"/><use href="#lf" transform="translate(404.3 535.5) rotate(139) scale(7.0 3.7)" fill="#f8f9f9"/><use href="#lf" transform="translate(333.7 629.2) rotate(103) scale(6.2 2.5)" fill="#dadede"/><use href="#lf" transform="translate(637.9 503.5) rotate(195) scale(7.5 3.0)" fill="#e3e6e6"/><use href="#lf" transform="translate(373.1 492.3) rotate(234) scale(8.1 4.7)" fill="#f1f2f2"/><use href="#lf" transform="translate(444.1 609.0) rotate(140) scale(10.1 6.0)" fill="#f1f2f2"/><use href="#lf" transform="translate(493.8 647.6) rotate(39) scale(6.4 2.8)" fill="#dfe2e2"/><use href="#lf" transform="translate(601.5 569.7) rotate(97) scale(6.4 3.7)" fill="#f4f5f5"/><use href="#lf" transform="translate(364.3 610.6) rotate(174) scale(7.1 3.2)" fill="#d5d9d9"/><use href="#lf" transform="translate(495.6 596.5) rotate(274) scale(6.4 2.6)" fill="#ffffff"/><use href="#lf" transform="translate(319.3 549.3) rotate(357) scale(6.3 3.5)" fill="#ced2d2"/><use href="#lf" transform="translate(473.9 565.9) rotate(21) scale(10.3 5.0)" fill="#dadede"/><use href="#lf" transform="translate(516.6 653.4) rotate(105) scale(7.0 3.1)" fill="#f1f2f2"/><use href="#lf" transform="translate(638.2 572.0) rotate(63) scale(10.5 5.7)" fill="#ffffff"/><use href="#lf" transform="translate(622.2 592.3) rotate(9) scale(9.5 4.3)" fill="#dadede"/><use href="#lf" transform="translate(417.8 587.0) rotate(345) scale(5.6 2.5)" fill="#ffffff"/><use href="#lf" transform="translate(564.9 534.2) rotate(178) scale(7.0 4.1)" fill="#dfe2e2"/><use href="#lf" transform="translate(576.6 653.5) rotate(36) scale(10.1 6.0)" fill="#e3e6e6"/><use href="#lf" transform="translate(447.5 627.5) rotate(8) scale(7.0 4.1)" fill="#f4f5f5"/><use href="#lf" transform="translate(363.3 546.6) rotate(100) scale(9.8 4.9)" fill="#d5d9d9"/><use href="#lf" transform="translate(519.9 573.4) rotate(235) scale(7.4 3.0)" fill="#f4f5f5"/><use href="#lf" transform="translate(348.3 549.0) rotate(268) scale(9.9 4.4)" fill="#dadede"/><use href="#lf" transform="translate(416.0 521.7) rotate(134) scale(7.6 3.3)" fill="#f8f9f9"/><use href="#lf" transform="translate(456.7 480.0) rotate(116) scale(8.5 4.1)" fill="#dadede"/><use href="#lf" transform="translate(588.4 639.4) rotate(24) scale(5.6 2.4)" fill="#f4f5f5"/><use href="#lf" transform="translate(352.9 687.4) rotate(79) scale(8.1 4.8)" fill="#ced2d2"/><use href="#lf" transform="translate(569.3 666.2) rotate(140) scale(10.4 4.3)" fill="#d5d9d9"/><use href="#lf" transform="translate(601.8 642.9) rotate(263) scale(8.7 3.5)" fill="#ced2d2"/><use href="#lf" transform="translate(611.4 489.7) rotate(158) scale(9.2 4.3)" fill="#ced2d2"/><use href="#lf" transform="translate(480.6 598.4) rotate(248) scale(6.2 3.5)" fill="#e3e6e6"/><use href="#lf" transform="translate(458.4 577.1) rotate(135) scale(10.5 5.3)" fill="#dadede"/><use href="#lf" transform="translate(502.4 587.2) rotate(161) scale(5.7 3.0)" fill="#f4f5f5"/><use href="#lf" transform="translate(332.9 489.6) rotate(118) scale(7.4 3.8)" fill="#dfe2e2"/><use href="#lf" transform="translate(555.6 544.3) rotate(145) scale(9.9 5.9)" fill="#f8f9f9"/><use href="#lf" transform="translate(560.4 668.2) rotate(333) scale(6.2 2.7)" fill="#f8f9f9"/><use href="#lf" transform="translate(585.0 647.1) rotate(23) scale(8.6 5.1)" fill="#ffffff"/><use href="#lf" transform="translate(547.1 531.2) rotate(193) scale(10.3 5.1)" fill="#ced2d2"/><use href="#lf" transform="translate(381.1 537.3) rotate(200) scale(9.4 3.9)" fill="#e3e6e6"/><use href="#lf" transform="translate(600.3 493.3) rotate(313) scale(8.5 3.5)" fill="#ffffff"/><use href="#lf" transform="translate(574.6 510.2) rotate(13) scale(7.7 3.2)" fill="#d5d9d9"/><use href="#lf" transform="translate(625.6 524.6) rotate(221) scale(7.2 3.5)" fill="#ffffff"/><use href="#lf" transform="translate(591.4 608.8) rotate(356) scale(10.9 4.5)" fill="#f1f2f2"/><use href="#lf" transform="translate(489.4 545.1) rotate(202) scale(11.2 6.7)" fill="#ced2d2"/><use href="#lf" transform="translate(439.8 651.1) rotate(341) scale(9.7 5.5)" fill="#f4f5f5"/><use href="#lf" transform="translate(385.2 522.4) rotate(209) scale(10.1 4.4)" fill="#ffffff"/><use href="#lf" transform="translate(359.6 502.6) rotate(129) scale(11.1 5.8)" fill="#f1f2f2"/><use href="#lf" transform="translate(320.6 492.6) rotate(313) scale(6.7 3.7)" fill="#ced2d2"/><use href="#lf" transform="translate(382.5 493.1) rotate(221) scale(7.1 3.4)" fill="#dfe2e2"/><use href="#lf" transform="translate(465.1 585.4) rotate(253) scale(11.1 5.2)" fill="#f1f2f2"/><use href="#lf" transform="translate(476.6 502.9) rotate(343) scale(6.2 3.6)" fill="#ffffff"/><use href="#lf" transform="translate(535.9 574.4) rotate(268) scale(11.1 5.3)" fill="#f4f5f5"/><use href="#lf" transform="translate(389.0 613.6) rotate(210) scale(7.7 3.6)" fill="#dfe2e2"/><use href="#lf" transform="translate(412.3 625.3) rotate(148) scale(9.5 4.3)" fill="#f8f9f9"/><use href="#lf" transform="translate(509.0 661.6) rotate(37) scale(7.8 3.6)" fill="#f4f5f5"/><use href="#lf" transform="translate(351.6 617.4) rotate(284) scale(8.2 3.6)" fill="#ffffff"/><use href="#lf" transform="translate(438.6 631.3) rotate(323) scale(9.5 4.5)" fill="#ffffff"/><use href="#lf" transform="translate(533.1 511.0) rotate(182) scale(5.9 2.6)" fill="#e3e6e6"/><use href="#lf" transform="translate(534.0 606.4) rotate(357) scale(11.3 6.7)" fill="#ced2d2"/><use href="#lf" transform="translate(457.5 526.8) rotate(21) scale(8.7 3.7)" fill="#e3e6e6"/><use href="#lf" transform="translate(529.3 645.5) rotate(210) scale(11.1 5.6)" fill="#e3e6e6"/><use href="#lf" transform="translate(437.1 508.3) rotate(30) scale(7.9 4.3)" fill="#f8f9f9"/><use href="#lf" transform="translate(626.6 625.5) rotate(239) scale(10.2 5.9)" fill="#e3e6e6"/><use href="#lf" transform="translate(567.9 503.4) rotate(309) scale(8.3 3.4)" fill="#ffffff"/><use href="#lf" transform="translate(353.1 565.5) rotate(279) scale(8.9 5.3)" fill="#ffffff"/><use href="#lf" transform="translate(415.1 585.6) rotate(47) scale(6.2 3.2)" fill="#ffffff"/><use href="#lf" transform="translate(482.1 543.4) rotate(213) scale(7.6 3.4)" fill="#e3e6e6"/><use href="#lf" transform="translate(335.5 524.1) rotate(165) scale(8.2 4.2)" fill="#ffffff"/><use href="#lf" transform="translate(578.7 584.8) rotate(63) scale(6.4 3.3)" fill="#f4f5f5"/><use href="#lf" transform="translate(515.1 661.1) rotate(4) scale(11.3 5.4)" fill="#f8f9f9"/><use href="#lf" transform="translate(574.7 501.2) rotate(106) scale(9.9 4.7)" fill="#f4f5f5"/><use href="#lf" transform="translate(327.2 501.4) rotate(231) scale(7.3 4.3)" fill="#ffffff"/><use href="#lf" transform="translate(443.5 541.5) rotate(237) scale(6.8 3.4)" fill="#ced2d2"/><use href="#lf" transform="translate(423.9 581.7) rotate(341) scale(9.4 5.4)" fill="#f4f5f5"/><use href="#lf" transform="translate(634.1 674.5) rotate(96) scale(6.1 3.2)" fill="#f4f5f5"/><use href="#lf" transform="translate(401.2 556.0) rotate(129) scale(8.1 4.0)" fill="#ced2d2"/><use href="#lf" transform="translate(425.5 502.8) rotate(59) scale(7.4 3.7)" fill="#ced2d2"/><use href="#lf" transform="translate(494.3 562.7) rotate(134) scale(6.8 2.9)" fill="#d5d9d9"/><use href="#lf" transform="translate(433.8 679.6) rotate(264) scale(8.6 4.4)" fill="#d5d9d9"/><use href="#lf" transform="translate(448.9 682.9) rotate(346) scale(5.5 2.9)" fill="#d5d9d9"/><use href="#lf" transform="translate(628.2 625.1) rotate(275) scale(10.5 4.7)" fill="#ffffff"/><use href="#lf" transform="translate(419.5 583.5) rotate(19) scale(8.6 4.7)" fill="#ffffff"/><use href="#lf" transform="translate(386.7 603.0) rotate(233) scale(10.3 6.1)" fill="#d5d9d9"/><use href="#lf" transform="translate(447.5 538.6) rotate(354) scale(9.6 4.0)" fill="#dfe2e2"/><use href="#lf" transform="translate(423.7 545.3) rotate(231) scale(10.4 5.8)" fill="#ffffff"/><use href="#lf" transform="translate(639.9 582.0) rotate(50) scale(7.9 3.3)" fill="#d5d9d9"/><use href="#lf" transform="translate(523.7 482.7) rotate(209) scale(11.1 6.1)" fill="#ffffff"/><use href="#lf" transform="translate(583.3 579.6) rotate(329) scale(7.5 3.9)" fill="#ffffff"/><use href="#lf" transform="translate(373.5 495.7) rotate(272) scale(9.6 4.1)" fill="#ced2d2"/><use href="#lf" transform="translate(576.0 572.3) rotate(301) scale(10.9 5.9)" fill="#d5d9d9"/><use href="#lf" transform="translate(532.5 594.2) rotate(112) scale(6.2 2.6)" fill="#dadede"/><use href="#lf" transform="translate(354.7 662.0) rotate(50) scale(6.1 2.8)" fill="#ffffff"/><use href="#lf" transform="translate(367.9 536.1) rotate(335) scale(7.9 4.6)" fill="#f1f2f2"/><use href="#lf" transform="translate(535.1 674.8) rotate(140) scale(8.5 4.6)" fill="#e3e6e6"/><use href="#lf" transform="translate(351.9 635.4) rotate(73) scale(6.5 3.4)" fill="#d5d9d9"/><use href="#lf" transform="translate(583.1 616.1) rotate(246) scale(7.8 4.4)" fill="#e3e6e6"/><use href="#lf" transform="translate(502.9 656.6) rotate(173) scale(7.6 4.0)" fill="#ced2d2"/><use href="#lf" transform="translate(423.6 625.9) rotate(263) scale(6.9 3.1)" fill="#f4f5f5"/><use href="#lf" transform="translate(332.5 673.4) rotate(88) scale(10.3 4.7)" fill="#f1f2f2"/><use href="#lf" transform="translate(457.3 608.9) rotate(327) scale(8.9 5.3)" fill="#e3e6e6"/><use href="#lf" transform="translate(442.5 502.9) rotate(245) scale(6.6 3.5)" fill="#dadede"/><use href="#lf" transform="translate(590.9 485.4) rotate(199) scale(9.7 5.0)" fill="#d5d9d9"/><use href="#lf" transform="translate(475.6 572.7) rotate(109) scale(11.3 5.3)" fill="#f1f2f2"/><use href="#lf" transform="translate(570.5 524.3) rotate(220) scale(6.7 3.4)" fill="#ffffff"/><use href="#lf" transform="translate(370.5 518.3) rotate(133) scale(6.5 3.9)" fill="#d5d9d9"/><use href="#lf" transform="translate(435.2 679.6) rotate(309) scale(9.8 4.5)" fill="#dfe2e2"/><use href="#lf" transform="translate(353.6 553.9) rotate(240) scale(6.5 3.8)" fill="#dfe2e2"/><use href="#lf" transform="translate(399.4 505.9) rotate(103) scale(8.4 3.8)" fill="#dfe2e2"/><use href="#lf" transform="translate(621.8 510.3) rotate(196) scale(7.8 4.4)" fill="#f8f9f9"/><use href="#lf" transform="translate(514.2 593.3) rotate(238) scale(9.9 5.0)" fill="#f4f5f5"/><use href="#lf" transform="translate(567.6 533.1) rotate(131) scale(5.8 3.4)" fill="#dadede"/><use href="#lf" transform="translate(393.2 574.0) rotate(340) scale(7.7 4.2)" fill="#dadede"/><use href="#lf" transform="translate(405.2 632.0) rotate(198) scale(10.8 4.5)" fill="#f4f5f5"/><use href="#lf" transform="translate(620.8 617.3) rotate(37) scale(5.9 3.4)" fill="#f4f5f5"/><use href="#lf" transform="translate(627.5 519.4) rotate(51) scale(7.7 3.6)" fill="#ffffff"/><use href="#lf" transform="translate(363.3 565.6) rotate(351) scale(6.4 3.7)" fill="#dadede"/><use href="#lf" transform="translate(492.6 570.6) rotate(250) scale(9.6 4.0)" fill="#f4f5f5"/><use href="#lf" transform="translate(478.7 519.9) rotate(175) scale(9.7 4.7)" fill="#ffffff"/><use href="#lf" transform="translate(541.3 484.3) rotate(32) scale(11.1 6.5)" fill="#dfe2e2"/><use href="#lf" transform="translate(400.5 524.5) rotate(195) scale(7.1 3.1)" fill="#f8f9f9"/><use href="#lf" transform="translate(594.5 676.2) rotate(213) scale(5.6 2.8)" fill="#f4f5f5"/><use href="#lf" transform="translate(515.3 608.0) rotate(187) scale(11.1 4.6)" fill="#ffffff"/><use href="#lf" transform="translate(353.1 541.2) rotate(149) scale(7.3 4.4)" fill="#f8f9f9"/><use href="#lf" transform="translate(585.2 624.0) rotate(273) scale(8.6 4.4)" fill="#ffffff"/><use href="#lf" transform="translate(318.2 492.4) rotate(300) scale(10.3 6.1)" fill="#ced2d2"/><use href="#lf" transform="translate(430.9 524.5) rotate(87) scale(7.9 4.6)" fill="#ffffff"/><use href="#lf" transform="translate(506.6 589.5) rotate(164) scale(7.5 4.0)" fill="#f1f2f2"/><use href="#lf" transform="translate(617.8 565.8) rotate(162) scale(6.7 3.0)" fill="#f1f2f2"/><use href="#lf" transform="translate(570.3 548.6) rotate(94) scale(6.9 3.7)" fill="#dadede"/><use href="#lf" transform="translate(502.9 599.6) rotate(24) scale(5.6 2.6)" fill="#dadede"/><use href="#lf" transform="translate(424.1 632.0) rotate(194) scale(9.5 5.3)" fill="#ffffff"/><use href="#lf" transform="translate(538.5 584.8) rotate(201) scale(8.1 3.3)" fill="#f8f9f9"/><use href="#lf" transform="translate(437.4 553.6) rotate(139) scale(11.0 6.6)" fill="#f8f9f9"/><use href="#lf" transform="translate(453.0 620.1) rotate(74) scale(6.9 4.1)" fill="#dfe2e2"/><use href="#lf" transform="translate(499.0 678.1) rotate(328) scale(5.9 3.5)" fill="#ffffff"/><use href="#lf" transform="translate(478.7 558.6) rotate(52) scale(5.9 3.4)" fill="#f1f2f2"/><use href="#lf" transform="translate(369.5 582.5) rotate(50) scale(6.9 3.2)" fill="#f8f9f9"/><use href="#lf" transform="translate(363.6 629.5) rotate(49) scale(11.2 4.9)" fill="#f1f2f2"/><use href="#lf" transform="translate(602.2 632.0) rotate(134) scale(11.2 5.5)" fill="#ffffff"/><use href="#lf" transform="translate(615.5 509.0) rotate(261) scale(10.7 6.4)" fill="#ffffff"/><use href="#lf" transform="translate(357.6 546.1) rotate(188) scale(9.0 4.1)" fill="#f4f5f5"/><use href="#lf" transform="translate(460.5 648.3) rotate(235) scale(7.1 3.0)" fill="#ffffff"/><use href="#lf" transform="translate(342.7 543.6) rotate(181) scale(10.1 5.9)" fill="#f8f9f9"/><use href="#lf" transform="translate(628.8 613.3) rotate(322) scale(6.1 3.0)" fill="#f4f5f5"/><use href="#lf" transform="translate(466.0 605.9) rotate(69) scale(10.6 5.2)" fill="#e3e6e6"/><use href="#lf" transform="translate(632.9 483.2) rotate(19) scale(10.1 4.8)" fill="#f8f9f9"/><use href="#lf" transform="translate(332.7 563.1) rotate(9) scale(10.4 6.2)" fill="#ced2d2"/><use href="#lf" transform="translate(575.3 583.8) rotate(66) scale(9.4 4.6)" fill="#ffffff"/><use href="#lf" transform="translate(371.6 684.0) rotate(202) scale(7.5 4.3)" fill="#e3e6e6"/><use href="#lf" transform="translate(398.7 635.5) rotate(209) scale(6.5 2.8)" fill="#f4f5f5"/><use href="#lf" transform="translate(452.3 592.5) rotate(329) scale(8.3 3.9)" fill="#f1f2f2"/><use href="#lf" transform="translate(536.2 609.8) rotate(169) scale(10.8 5.8)" fill="#dadede"/><use href="#lf" transform="translate(635.0 539.2) rotate(85) scale(6.5 3.6)" fill="#f4f5f5"/><use href="#lf" transform="translate(448.0 626.8) rotate(228) scale(7.5 4.0)" fill="#ffffff"/><use href="#lf" transform="translate(429.8 596.6) rotate(185) scale(8.5 5.0)" fill="#ced2d2"/><use href="#lf" transform="translate(538.8 618.5) rotate(305) scale(7.9 3.9)" fill="#f4f5f5"/><use href="#lf" transform="translate(466.8 497.1) rotate(231) scale(8.5 4.2)" fill="#ffffff"/><use href="#lf" transform="translate(408.2 571.9) rotate(84) scale(6.0 3.4)" fill="#ced2d2"/><use href="#lf" transform="translate(574.9 532.0) rotate(153) scale(10.9 5.5)" fill="#dadede"/><use href="#lf" transform="translate(336.7 493.4) rotate(114) scale(10.7 4.6)" fill="#dadede"/><use href="#lf" transform="translate(479.9 674.4) rotate(161) scale(9.4 5.0)" fill="#dfe2e2"/><use href="#lf" transform="translate(633.1 672.4) rotate(256) scale(9.6 5.4)" fill="#dfe2e2"/><use href="#lf" transform="translate(576.0 515.4) rotate(88) scale(10.4 4.8)" fill="#ffffff"/><use href="#lf" transform="translate(625.9 617.5) rotate(243) scale(8.3 4.4)" fill="#ced2d2"/><use href="#lf" transform="translate(618.3 614.6) rotate(39) scale(5.9 3.1)" fill="#dfe2e2"/><use href="#lf" transform="translate(598.6 543.9) rotate(273) scale(6.6 3.6)" fill="#f4f5f5"/><use href="#lf" transform="translate(527.0 636.8) rotate(147) scale(9.5 4.6)" fill="#ced2d2"/><use href="#lf" transform="translate(570.9 663.2) rotate(230) scale(8.9 5.2)" fill="#e3e6e6"/><use href="#lf" transform="translate(390.4 628.7) rotate(180) scale(5.7 3.3)" fill="#f1f2f2"/><use href="#lf" transform="translate(392.3 609.1) rotate(155) scale(6.2 2.7)" fill="#e3e6e6"/><use href="#lf" transform="translate(405.9 517.7) rotate(339) scale(9.4 5.0)" fill="#d5d9d9"/><use href="#lf" transform="translate(423.8 489.5) rotate(209) scale(5.7 2.9)" fill="#dfe2e2"/><use href="#lf" transform="translate(627.9 642.1) rotate(188) scale(7.5 3.4)" fill="#e3e6e6"/><use href="#lf" transform="translate(339.2 498.5) rotate(272) scale(9.7 4.0)" fill="#dadede"/><use href="#lf" transform="translate(398.4 520.2) rotate(118) scale(9.0 4.0)" fill="#ffffff"/><use href="#lf" transform="translate(427.4 681.2) rotate(308) scale(7.3 4.2)" fill="#dadede"/><use href="#lf" transform="translate(451.4 564.2) rotate(345) scale(6.9 3.4)" fill="#ffffff"/><use href="#lf" transform="translate(456.2 578.9) rotate(291) scale(8.0 4.2)" fill="#dadede"/><use href="#lf" transform="translate(608.6 531.2) rotate(190) scale(8.7 5.2)" fill="#f1f2f2"/><use href="#lf" transform="translate(376.6 687.2) rotate(349) scale(9.2 4.0)" fill="#f4f5f5"/><use href="#lf" transform="translate(552.0 545.7) rotate(254) scale(10.1 5.3)" fill="#e3e6e6"/><use href="#lf" transform="translate(337.6 684.9) rotate(91) scale(11.2 4.9)" fill="#ffffff"/><use href="#lf" transform="translate(495.2 478.4) rotate(313) scale(8.3 4.3)" fill="#ced2d2"/><use href="#lf" transform="translate(478.4 644.4) rotate(86) scale(7.0 3.9)" fill="#f4f5f5"/><use href="#lf" transform="translate(449.7 496.4) rotate(205) scale(8.9 4.0)" fill="#ced2d2"/><use href="#lf" transform="translate(323.4 493.4) rotate(38) scale(7.8 3.9)" fill="#f1f2f2"/><use href="#lf" transform="translate(592.4 581.2) rotate(354) scale(9.0 4.2)" fill="#ffffff"/><use href="#lf" transform="translate(426.1 482.7) rotate(208) scale(10.5 5.7)" fill="#ced2d2"/><use href="#lf" transform="translate(598.1 518.6) rotate(96) scale(5.7 2.4)" fill="#f1f2f2"/><use href="#lf" transform="translate(435.8 570.6) rotate(225) scale(8.2 3.8)" fill="#ced2d2"/><use href="#lf" transform="translate(599.0 609.9) rotate(225) scale(6.0 3.3)" fill="#dadede"/><use href="#lf" transform="translate(464.4 557.7) rotate(283) scale(10.9 6.5)" fill="#ced2d2"/><use href="#lf" transform="translate(603.3 493.9) rotate(218) scale(6.9 3.1)" fill="#f4f5f5"/><use href="#lf" transform="translate(529.2 619.8) rotate(81) scale(8.1 4.3)" fill="#ffffff"/><use href="#lf" transform="translate(491.6 685.8) rotate(6) scale(7.6 4.1)" fill="#ced2d2"/><use href="#lf" transform="translate(428.9 568.4) rotate(311) scale(6.0 2.9)" fill="#dfe2e2"/><use href="#lf" transform="translate(638.0 519.7) rotate(210) scale(11.0 4.5)" fill="#f1f2f2"/><use href="#lf" transform="translate(587.6 560.9) rotate(274) scale(9.0 4.9)" fill="#d5d9d9"/><use href="#lf" transform="translate(504.4 531.3) rotate(196) scale(9.7 5.0)" fill="#ffffff"/><use href="#lf" transform="translate(361.9 643.5) rotate(342) scale(7.4 4.1)" fill="#dfe2e2"/><use href="#lf" transform="translate(561.7 550.8) rotate(332) scale(11.2 5.2)" fill="#e3e6e6"/><use href="#lf" transform="translate(531.6 539.3) rotate(52) scale(10.3 5.0)" fill="#f4f5f5"/><use href="#lf" transform="translate(333.5 576.1) rotate(8) scale(8.8 4.3)" fill="#dfe2e2"/><use href="#lf" transform="translate(431.5 638.9) rotate(249) scale(6.0 2.7)" fill="#d5d9d9"/><use href="#lf" transform="translate(584.8 558.6) rotate(193) scale(7.1 3.4)" fill="#ffffff"/><use href="#lf" transform="translate(491.7 562.3) rotate(225) scale(7.9 4.4)" fill="#f4f5f5"/><use href="#lf" transform="translate(398.4 515.7) rotate(286) scale(6.2 2.6)" fill="#f1f2f2"/><use href="#lf" transform="translate(403.1 581.7) rotate(295) scale(9.7 3.9)" fill="#d5d9d9"/><use href="#lf" transform="translate(386.0 627.1) rotate(316) scale(9.7 4.5)" fill="#f1f2f2"/><use href="#lf" transform="translate(590.3 626.7) rotate(284) scale(5.7 3.3)" fill="#dfe2e2"/><use href="#lf" transform="translate(514.2 687.2) rotate(223) scale(6.8 3.0)" fill="#f8f9f9"/><use href="#lf" transform="translate(526.5 673.4) rotate(63) scale(10.2 5.9)" fill="#f8f9f9"/><use href="#lf" transform="translate(612.7 621.5) rotate(254) scale(6.5 3.1)" fill="#f1f2f2"/><use href="#lf" transform="translate(565.9 545.5) rotate(21) scale(10.6 5.3)" fill="#e3e6e6"/><use href="#lf" transform="translate(549.4 488.0) rotate(303) scale(9.7 4.0)" fill="#dadede"/><use href="#lf" transform="translate(621.0 483.2) rotate(274) scale(7.4 3.9)" fill="#e3e6e6"/><use href="#lf" transform="translate(511.2 660.8) rotate(8) scale(5.9 2.5)" fill="#f4f5f5"/><use href="#lf" transform="translate(374.8 535.8) rotate(116) scale(9.5 5.1)" fill="#e3e6e6"/><use href="#lf" transform="translate(569.0 524.9) rotate(1) scale(5.6 2.5)" fill="#dfe2e2"/><use href="#lf" transform="translate(414.5 481.2) rotate(62) scale(7.7 3.7)" fill="#f8f9f9"/><use href="#lf" transform="translate(354.4 657.4) rotate(112) scale(8.3 4.2)" fill="#f4f5f5"/><use href="#lf" transform="translate(575.5 572.2) rotate(294) scale(9.8 4.4)" fill="#d5d9d9"/><use href="#lf" transform="translate(480.3 577.3) rotate(284) scale(8.7 4.4)" fill="#f1f2f2"/><use href="#lf" transform="translate(409.8 540.8) rotate(14) scale(7.8 4.2)" fill="#e3e6e6"/><use href="#lf" transform="translate(409.9 518.5) rotate(246) scale(10.7 6.1)" fill="#d5d9d9"/><use href="#lf" transform="translate(557.7 574.4) rotate(317) scale(7.9 4.0)" fill="#f1f2f2"/><use href="#lf" transform="translate(342.0 530.3) rotate(185) scale(11.3 5.8)" fill="#dfe2e2"/><use href="#lf" transform="translate(330.5 539.4) rotate(191) scale(7.6 4.5)" fill="#ffffff"/><use href="#lf" transform="translate(322.3 509.4) rotate(40) scale(7.8 4.1)" fill="#dadede"/><use href="#lf" transform="translate(636.7 667.9) rotate(20) scale(9.0 4.6)" fill="#f8f9f9"/><use href="#lf" transform="translate(340.1 635.9) rotate(337) scale(7.0 3.5)" fill="#dadede"/><use href="#lf" transform="translate(579.6 687.8) rotate(4) scale(11.0 5.8)" fill="#f1f2f2"/><use href="#lf" transform="translate(512.5 529.5) rotate(321) scale(7.4 3.2)" fill="#dadede"/><use href="#lf" transform="translate(350.6 613.0) rotate(261) scale(7.1 4.0)" fill="#f8f9f9"/><use href="#lf" transform="translate(336.4 485.3) rotate(73) scale(10.3 4.4)" fill="#ffffff"/><use href="#lf" transform="translate(556.3 665.9) rotate(290) scale(9.4 5.6)" fill="#f8f9f9"/><use href="#lf" transform="translate(420.9 502.4) rotate(312) scale(5.5 3.0)" fill="#dfe2e2"/><use href="#lf" transform="translate(441.3 652.6) rotate(67) scale(7.0 3.8)" fill="#e3e6e6"/><use href="#lf" transform="translate(528.9 485.5) rotate(72) scale(9.0 4.1)" fill="#ffffff"/><use href="#lf" transform="translate(339.2 517.5) rotate(304) scale(6.9 3.2)" fill="#ffffff"/><use href="#lf" transform="translate(633.5 620.0) rotate(258) scale(9.3 4.4)" fill="#e3e6e6"/><use href="#lf" transform="translate(320.3 565.0) rotate(91) scale(9.0 3.8)" fill="#ffffff"/><use href="#lf" transform="translate(327.0 686.4) rotate(53) scale(7.7 3.6)" fill="#f4f5f5"/><use href="#lf" transform="translate(525.2 606.9) rotate(237) scale(6.7 2.7)" fill="#f4f5f5"/><use href="#lf" transform="translate(519.8 573.1) rotate(195) scale(8.4 3.4)" fill="#ffffff"/><use href="#lf" transform="translate(359.9 559.3) rotate(135) scale(6.9 3.3)" fill="#f8f9f9"/><use href="#lf" transform="translate(563.1 631.1) rotate(53) scale(5.8 3.3)" fill="#f8f9f9"/><use href="#lf" transform="translate(516.1 668.0) rotate(52) scale(6.9 3.7)" fill="#ffffff"/><use href="#lf" transform="translate(362.7 550.5) rotate(213) scale(11.4 6.4)" fill="#f1f2f2"/><use href="#lf" transform="translate(410.3 518.5) rotate(231) scale(6.2 2.7)" fill="#f8f9f9"/><use href="#lf" transform="translate(340.7 653.2) rotate(136) scale(10.2 4.9)" fill="#dadede"/><use href="#lf" transform="translate(349.0 479.2) rotate(10) scale(7.3 4.4)" fill="#d5d9d9"/><use href="#lf" transform="translate(619.2 567.6) rotate(104) scale(10.2 5.8)" fill="#dfe2e2"/><use href="#lf" transform="translate(620.6 506.0) rotate(134) scale(7.8 4.2)" fill="#ffffff"/><use href="#lf" transform="translate(610.4 486.7) rotate(270) scale(7.2 3.3)" fill="#ffffff"/><use href="#lf" transform="translate(543.2 674.0) rotate(307) scale(6.6 3.2)" fill="#dfe2e2"/><use href="#lf" transform="translate(354.3 685.7) rotate(130) scale(9.9 5.7)" fill="#f4f5f5"/><use href="#lf" transform="translate(535.9 600.3) rotate(100) scale(10.8 6.2)" fill="#f1f2f2"/><use href="#lf" transform="translate(588.2 617.0) rotate(145) scale(11.3 4.8)" fill="#f4f5f5"/><use href="#lf" transform="translate(346.9 642.7) rotate(208) scale(9.4 4.6)" fill="#f1f2f2"/><use href="#lf" transform="translate(422.0 606.6) rotate(309) scale(6.6 3.3)" fill="#ffffff"/><use href="#lf" transform="translate(402.5 555.5) rotate(306) scale(9.7 4.2)" fill="#f1f2f2"/><use href="#lf" transform="translate(440.5 606.8) rotate(248) scale(9.9 4.2)" fill="#d5d9d9"/><use href="#lf" transform="translate(524.5 577.5) rotate(155) scale(8.5 3.5)" fill="#f1f2f2"/><use href="#lf" transform="translate(576.0 515.7) rotate(242) scale(8.3 4.1)" fill="#dfe2e2"/><use href="#lf" transform="translate(420.3 562.3) rotate(167) scale(7.4 4.0)" fill="#f4f5f5"/><use href="#lf" transform="translate(366.9 644.0) rotate(222) scale(11.3 5.0)" fill="#f8f9f9"/><use href="#lf" transform="translate(538.7 567.4) rotate(70) scale(10.6 5.4)" fill="#d5d9d9"/><use href="#lf" transform="translate(629.7 490.4) rotate(165) scale(6.1 2.5)" fill="#dfe2e2"/><use href="#lf" transform="translate(538.2 594.1) rotate(41) scale(10.6 5.0)" fill="#ffffff"/><use href="#lf" transform="translate(471.3 499.4) rotate(58) scale(9.0 5.1)" fill="#d5d9d9"/><use href="#lf" transform="translate(359.2 605.9) rotate(43) scale(10.4 4.9)" fill="#d5d9d9"/><use href="#lf" transform="translate(602.6 595.5) rotate(244) scale(9.0 5.1)" fill="#d5d9d9"/><use href="#lf" transform="translate(410.4 642.2) rotate(4) scale(9.3 4.6)" fill="#e3e6e6"/><use href="#lf" transform="translate(592.4 580.2) rotate(96) scale(11.0 4.7)" fill="#dadede"/><use href="#lf" transform="translate(360.4 606.7) rotate(285) scale(9.6 5.7)" fill="#dfe2e2"/><use href="#lf" transform="translate(341.8 607.0) rotate(346) scale(8.0 3.7)" fill="#e3e6e6"/><use href="#lf" transform="translate(617.3 622.6) rotate(42) scale(10.6 4.4)" fill="#ced2d2"/><use href="#lf" transform="translate(489.8 682.0) rotate(205) scale(11.2 5.5)" fill="#ffffff"/><use href="#lf" transform="translate(511.9 639.9) rotate(132) scale(8.2 3.7)" fill="#f1f2f2"/><use href="#lf" transform="translate(552.6 478.7) rotate(58) scale(6.5 2.8)" fill="#ffffff"/><use href="#lf" transform="translate(604.7 636.8) rotate(77) scale(5.9 3.1)" fill="#e3e6e6"/><use href="#lf" transform="translate(377.0 686.0) rotate(254) scale(7.2 2.9)" fill="#ced2d2"/><use href="#lf" transform="translate(569.2 501.1) rotate(169) scale(5.7 3.0)" fill="#f1f2f2"/><use href="#lf" transform="translate(584.8 671.2) rotate(110) scale(6.6 3.3)" fill="#ced2d2"/><use href="#lf" transform="translate(385.1 614.4) rotate(342) scale(5.9 3.5)" fill="#f4f5f5"/><use href="#lf" transform="translate(376.2 490.8) rotate(351) scale(8.0 4.7)" fill="#dadede"/><use href="#lf" transform="translate(394.8 657.0) rotate(102) scale(8.6 4.4)" fill="#f8f9f9"/><use href="#lf" transform="translate(495.7 545.3) rotate(273) scale(6.5 3.6)" fill="#d5d9d9"/><use href="#lf" transform="translate(535.2 662.2) rotate(23) scale(11.1 4.9)" fill="#dadede"/><use href="#lf" transform="translate(348.8 513.9) rotate(232) scale(10.5 5.2)" fill="#d5d9d9"/><use href="#lf" transform="translate(381.9 494.3) rotate(89) scale(6.9 3.6)" fill="#ffffff"/><use href="#lf" transform="translate(544.3 604.8) rotate(219) scale(9.2 5.1)" fill="#ced2d2"/><use href="#lf" transform="translate(449.0 615.5) rotate(132) scale(7.7 3.7)" fill="#dfe2e2"/><use href="#lf" transform="translate(431.5 552.6) rotate(243) scale(10.6 5.9)" fill="#dfe2e2"/><use href="#lf" transform="translate(442.3 614.2) rotate(36) scale(7.0 3.2)" fill="#f8f9f9"/><use href="#lf" transform="translate(614.7 542.2) rotate(51) scale(7.8 3.3)" fill="#dadede"/><use href="#lf" transform="translate(605.2 495.8) rotate(81) scale(7.0 3.9)" fill="#ffffff"/><use href="#lf" transform="translate(431.6 578.4) rotate(153) scale(6.7 3.1)" fill="#dfe2e2"/><use href="#lf" transform="translate(416.4 579.7) rotate(280) scale(6.8 3.5)" fill="#e3e6e6"/><use href="#lf" transform="translate(379.7 503.4) rotate(217) scale(6.0 3.3)" fill="#ffffff"/><use href="#lf" transform="translate(396.0 577.1) rotate(186) scale(8.4 3.9)" fill="#e3e6e6"/><use href="#lf" transform="translate(431.9 684.1) rotate(312) scale(7.7 4.5)" fill="#f4f5f5"/><use href="#lf" transform="translate(357.7 550.5) rotate(236) scale(9.3 4.0)" fill="#dadede"/><use href="#lf" transform="translate(347.8 565.0) rotate(208) scale(6.4 3.9)" fill="#dfe2e2"/><use href="#lf" transform="translate(626.0 638.7) rotate(280) scale(9.4 4.6)" fill="#ffffff"/><use href="#lf" transform="translate(368.9 590.4) rotate(257) scale(8.0 4.0)" fill="#f4f5f5"/><use href="#lf" transform="translate(501.5 645.2) rotate(52) scale(10.5 4.4)" fill="#ffffff"/><use href="#lf" transform="translate(595.4 682.0) rotate(50) scale(10.2 4.3)" fill="#f8f9f9"/><use href="#lf" transform="translate(499.7 537.2) rotate(304) scale(10.2 4.7)" fill="#ced2d2"/><use href="#lf" transform="translate(318.4 594.1) rotate(25) scale(6.1 3.5)" fill="#dfe2e2"/><use href="#lf" transform="translate(526.7 619.5) rotate(118) scale(10.1 4.4)" fill="#f1f2f2"/><use href="#lf" transform="translate(455.8 486.8) rotate(197) scale(5.9 2.9)" fill="#f4f5f5"/><use href="#lf" transform="translate(381.6 591.0) rotate(355) scale(9.0 3.6)" fill="#ced2d2"/><use href="#lf" transform="translate(519.8 578.9) rotate(253) scale(9.5 4.6)" fill="#e3e6e6"/><use href="#lf" transform="translate(619.8 522.2) rotate(83) scale(6.2 2.7)" fill="#ffffff"/><use href="#lf" transform="translate(611.0 578.4) rotate(87) scale(6.3 2.9)" fill="#dadede"/><use href="#lf" transform="translate(567.9 570.7) rotate(133) scale(8.2 4.1)" fill="#e3e6e6"/><use href="#lf" transform="translate(480.8 679.7) rotate(251) scale(10.8 6.4)" fill="#f8f9f9"/><use href="#lf" transform="translate(332.6 560.0) rotate(29) scale(7.7 3.1)" fill="#ced2d2"/><use href="#lf" transform="translate(533.3 525.6) rotate(81) scale(7.6 3.2)" fill="#ffffff"/><use href="#lf" transform="translate(418.2 507.1) rotate(137) scale(9.0 5.1)" fill="#f8f9f9"/><use href="#lf" transform="translate(377.4 550.3) rotate(67) scale(8.2 4.5)" fill="#ffffff"/><use href="#lf" transform="translate(382.4 558.2) rotate(303) scale(8.3 3.5)" fill="#ffffff"/><use href="#lf" transform="translate(463.5 553.3) rotate(94) scale(8.3 4.7)" fill="#ffffff"/><use href="#lf" transform="translate(614.2 605.4) rotate(62) scale(11.3 6.6)" fill="#d5d9d9"/><use href="#lf" transform="translate(382.6 648.6) rotate(159) scale(6.2 2.9)" fill="#f4f5f5"/><use href="#lf" transform="translate(537.2 521.2) rotate(184) scale(10.9 6.2)" fill="#ffffff"/><use href="#lf" transform="translate(413.2 671.5) rotate(28) scale(10.3 5.0)" fill="#ced2d2"/><use href="#lf" transform="translate(341.0 530.0) rotate(82) scale(9.9 4.6)" fill="#ffffff"/><use href="#lf" transform="translate(567.5 543.2) rotate(333) scale(7.1 3.3)" fill="#dadede"/><use href="#lf" transform="translate(411.7 481.6) rotate(177) scale(9.5 4.5)" fill="#ced2d2"/><use href="#lf" transform="translate(347.9 610.0) rotate(57) scale(5.5 3.1)" fill="#f1f2f2"/><use href="#lf" transform="translate(327.5 579.9) rotate(130) scale(5.6 3.2)" fill="#e3e6e6"/><use href="#lf" transform="translate(490.6 512.5) rotate(300) scale(8.0 3.9)" fill="#e3e6e6"/><use href="#lf" transform="translate(349.3 559.9) rotate(349) scale(7.1 3.4)" fill="#f8f9f9"/><use href="#lf" transform="translate(535.0 575.9) rotate(189) scale(8.7 4.5)" fill="#ffffff"/><use href="#lf" transform="translate(586.2 653.2) rotate(320) scale(8.7 4.5)" fill="#f4f5f5"/><use href="#lf" transform="translate(471.0 557.6) rotate(203) scale(11.2 4.8)" fill="#f8f9f9"/><use href="#lf" transform="translate(606.7 639.1) rotate(295) scale(6.2 3.3)" fill="#ced2d2"/><use href="#lf" transform="translate(320.3 525.6) rotate(280) scale(9.9 5.7)" fill="#dfe2e2"/><use href="#lf" transform="translate(627.3 564.8) rotate(212) scale(8.3 4.8)" fill="#dadede"/><use href="#lf" transform="translate(342.8 571.7) rotate(209) scale(7.0 3.0)" fill="#ced2d2"/><use href="#lf" transform="translate(618.9 504.3) rotate(242) scale(8.2 3.7)" fill="#ffffff"/><use href="#lf" transform="translate(376.6 559.5) rotate(48) scale(8.6 4.3)" fill="#dfe2e2"/><use href="#lf" transform="translate(620.7 675.5) rotate(82) scale(10.9 6.2)" fill="#f1f2f2"/><use href="#lf" transform="translate(381.8 671.6) rotate(236) scale(8.4 4.5)" fill="#dfe2e2"/><use href="#lf" transform="translate(418.6 482.1) rotate(263) scale(6.0 2.7)" fill="#ffffff"/><use href="#lf" transform="translate(530.0 499.1) rotate(315) scale(6.2 2.6)" fill="#dadede"/><use href="#lf" transform="translate(351.0 683.0) rotate(170) scale(11.3 6.2)" fill="#d5d9d9"/><use href="#lf" transform="translate(565.1 586.0) rotate(238) scale(7.1 3.6)" fill="#d5d9d9"/><use href="#lf" transform="translate(556.9 506.9) rotate(63) scale(7.0 4.2)" fill="#ffffff"/><use href="#lf" transform="translate(623.9 674.2) rotate(296) scale(10.5 6.0)" fill="#f4f5f5"/><use href="#lf" transform="translate(537.1 665.1) rotate(21) scale(11.1 6.1)" fill="#ced2d2"/><use href="#lf" transform="translate(337.7 632.9) rotate(357) scale(8.4 4.9)" fill="#e3e6e6"/><use href="#lf" transform="translate(593.2 520.3) rotate(21) scale(7.4 3.6)" fill="#ffffff"/><use href="#lf" transform="translate(563.1 558.3) rotate(340) scale(9.8 4.7)" fill="#f8f9f9"/><use href="#lf" transform="translate(463.3 622.3) rotate(1) scale(8.8 3.7)" fill="#ced2d2"/><use href="#lf" transform="translate(614.0 655.1) rotate(295) scale(6.3 3.8)" fill="#f4f5f5"/><use href="#lf" transform="translate(612.0 621.5) rotate(219) scale(5.6 3.2)" fill="#dfe2e2"/><use href="#lf" transform="translate(515.6 553.1) rotate(239) scale(7.5 3.1)" fill="#ffffff"/><use href="#lf" transform="translate(591.5 594.5) rotate(175) scale(5.8 2.9)" fill="#ffffff"/><use href="#lf" transform="translate(627.0 650.3) rotate(5) scale(11.4 5.6)" fill="#f4f5f5"/><use href="#lf" transform="translate(511.8 514.0) rotate(22) scale(10.5 5.0)" fill="#d5d9d9"/><use href="#lf" transform="translate(519.2 686.9) rotate(278) scale(9.1 5.2)" fill="#f1f2f2"/><use href="#lf" transform="translate(466.9 668.2) rotate(117) scale(7.9 3.2)" fill="#d5d9d9"/><use href="#lf" transform="translate(337.5 598.8) rotate(315) scale(7.4 3.1)" fill="#f4f5f5"/><use href="#lf" transform="translate(416.4 561.7) rotate(152) scale(6.2 3.2)" fill="#ffffff"/><use href="#lf" transform="translate(427.3 685.2) rotate(81) scale(6.7 3.4)" fill="#ffffff"/><use href="#lf" transform="translate(486.6 566.3) rotate(308) scale(9.6 4.5)" fill="#f4f5f5"/><use href="#lf" transform="translate(403.7 591.4) rotate(102) scale(5.9 2.8)" fill="#f4f5f5"/><use href="#lf" transform="translate(360.9 543.8) rotate(89) scale(7.8 3.6)" fill="#ffffff"/><use href="#lf" transform="translate(588.5 687.7) rotate(204) scale(10.2 4.4)" fill="#f4f5f5"/><use href="#lf" transform="translate(459.1 576.3) rotate(347) scale(7.8 3.6)" fill="#ffffff"/><use href="#lf" transform="translate(633.9 559.6) rotate(93) scale(5.9 3.2)" fill="#f1f2f2"/><use href="#lf" transform="translate(372.9 574.2) rotate(351) scale(8.1 4.6)" fill="#dadede"/><use href="#lf" transform="translate(637.1 666.5) rotate(297) scale(11.0 5.0)" fill="#ffffff"/><use href="#lf" transform="translate(511.3 649.8) rotate(248) scale(8.4 4.2)" fill="#f1f2f2"/><use href="#lf" transform="translate(548.9 589.8) rotate(22) scale(5.5 3.1)" fill="#e3e6e6"/><use href="#lf" transform="translate(594.0 583.0) rotate(234) scale(8.2 3.7)" fill="#ffffff"/><use href="#lf" transform="translate(616.0 621.7) rotate(253) scale(6.2 3.4)" fill="#d5d9d9"/><use href="#lf" transform="translate(549.7 656.3) rotate(301) scale(6.3 3.1)" fill="#dfe2e2"/><use href="#lf" transform="translate(539.6 540.2) rotate(74) scale(6.0 2.9)" fill="#ffffff"/><use href="#lf" transform="translate(350.3 497.3) rotate(176) scale(11.5 6.4)" fill="#e3e6e6"/><use href="#lf" transform="translate(370.6 488.4) rotate(344) scale(9.2 4.8)" fill="#dfe2e2"/><use href="#lf" transform="translate(405.5 495.9) rotate(58) scale(5.6 3.2)" fill="#f4f5f5"/><use href="#lf" transform="translate(453.2 556.0) rotate(298) scale(11.2 5.2)" fill="#dadede"/><use href="#lf" transform="translate(456.6 576.2) rotate(185) scale(7.6 4.0)" fill="#f1f2f2"/><use href="#lf" transform="translate(544.1 527.3) rotate(262) scale(9.6 5.5)" fill="#f1f2f2"/><use href="#lf" transform="translate(413.1 584.7) rotate(78) scale(8.5 3.6)" fill="#e3e6e6"/><use href="#lf" transform="translate(334.5 556.2) rotate(106) scale(11.0 4.5)" fill="#ffffff"/><use href="#lf" transform="translate(318.8 672.5) rotate(17) scale(10.7 6.1)" fill="#ced2d2"/><use href="#lf" transform="translate(394.9 658.9) rotate(107) scale(6.9 3.2)" fill="#f8f9f9"/><use href="#lf" transform="translate(460.2 649.3) rotate(88) scale(7.1 4.0)" fill="#ced2d2"/><use href="#lf" transform="translate(583.3 534.2) rotate(87) scale(8.8 4.2)" fill="#e3e6e6"/><use href="#lf" transform="translate(623.2 625.2) rotate(173) scale(6.8 3.0)" fill="#dfe2e2"/><use href="#lf" transform="translate(390.0 687.5) rotate(310) scale(8.6 4.0)" fill="#dadede"/><use href="#lf" transform="translate(356.8 676.3) rotate(140) scale(10.6 6.1)" fill="#f1f2f2"/><use href="#lf" transform="translate(372.8 631.9) rotate(2) scale(11.2 4.9)" fill="#f8f9f9"/><use href="#lf" transform="translate(469.6 551.4) rotate(150) scale(10.6 6.0)" fill="#ffffff"/><use href="#lf" transform="translate(362.1 506.3) rotate(288) scale(9.1 4.8)" fill="#f4f5f5"/><use href="#lf" transform="translate(362.2 542.5) rotate(10) scale(6.4 3.2)" fill="#f8f9f9"/><use href="#lf" transform="translate(537.5 649.4) rotate(301) scale(8.4 4.9)" fill="#f1f2f2"/><use href="#lf" transform="translate(420.1 520.7) rotate(158) scale(8.2 4.0)" fill="#f8f9f9"/><use href="#lf" transform="translate(411.2 569.4) rotate(272) scale(10.7 6.4)" fill="#dfe2e2"/><use href="#lf" transform="translate(415.4 594.9) rotate(205) scale(11.4 6.6)" fill="#f4f5f5"/><use href="#lf" transform="translate(364.9 598.7) rotate(29) scale(5.9 2.9)" fill="#ced2d2"/><use href="#lf" transform="translate(472.5 522.2) rotate(182) scale(6.0 2.9)" fill="#ffffff"/><use href="#lf" transform="translate(622.9 503.9) rotate(245) scale(9.2 5.2)" fill="#ffffff"/><use href="#lf" transform="translate(362.2 585.8) rotate(38) scale(9.4 4.0)" fill="#ffffff"/><use href="#lf" transform="translate(514.4 661.8) rotate(99) scale(8.8 3.8)" fill="#f4f5f5"/><use href="#lf" transform="translate(506.3 615.0) rotate(72) scale(9.3 3.8)" fill="#ced2d2"/><use href="#lf" transform="translate(348.9 636.9) rotate(57) scale(6.3 2.6)" fill="#f1f2f2"/><use href="#lf" transform="translate(497.9 564.7) rotate(74) scale(11.1 4.9)" fill="#ffffff"/><use href="#lf" transform="translate(450.7 497.7) rotate(233) scale(10.5 5.0)" fill="#d5d9d9"/><use href="#lf" transform="translate(503.6 530.3) rotate(269) scale(9.2 5.4)" fill="#dfe2e2"/><use href="#lf" transform="translate(552.4 597.1) rotate(268) scale(7.1 3.1)" fill="#f1f2f2"/><use href="#lf" transform="translate(605.2 551.3) rotate(93) scale(11.2 5.8)" fill="#ffffff"/><use href="#lf" transform="translate(418.0 502.0) rotate(87) scale(5.7 3.0)" fill="#ffffff"/><use href="#lf" transform="translate(379.5 620.5) rotate(68) scale(10.9 5.4)" fill="#ffffff"/><use href="#lf" transform="translate(584.8 654.9) rotate(337) scale(11.4 5.9)" fill="#f4f5f5"/><use href="#lf" transform="translate(392.7 608.8) rotate(102) scale(6.1 3.2)" fill="#ced2d2"/><use href="#lf" transform="translate(596.2 630.7) rotate(132) scale(6.9 2.8)" fill="#ced2d2"/><use href="#lf" transform="translate(361.8 648.7) rotate(295) scale(7.3 4.2)" fill="#ffffff"/><use href="#lf" transform="translate(536.4 596.2) rotate(44) scale(8.8 3.9)" fill="#e3e6e6"/><use href="#lf" transform="translate(418.5 500.6) rotate(143) scale(11.1 4.5)" fill="#e3e6e6"/><use href="#lf" transform="translate(469.7 680.8) rotate(246) scale(9.2 4.9)" fill="#f1f2f2"/><use href="#lf" transform="translate(320.4 618.2) rotate(211) scale(6.6 3.6)" fill="#f4f5f5"/><use href="#lf" transform="translate(574.2 644.2) rotate(182) scale(8.3 3.6)" fill="#dadede"/><use href="#lf" transform="translate(539.7 523.7) rotate(351) scale(9.9 5.1)" fill="#f4f5f5"/><use href="#lf" transform="translate(404.7 637.9) rotate(275) scale(6.8 3.1)" fill="#e3e6e6"/><use href="#lf" transform="translate(554.5 630.5) rotate(354) scale(6.6 3.9)" fill="#e3e6e6"/><use href="#lf" transform="translate(485.0 549.8) rotate(43) scale(6.4 3.1)" fill="#d5d9d9"/><use href="#lf" transform="translate(508.4 630.3) rotate(157) scale(9.2 5.1)" fill="#e3e6e6"/><use href="#lf" transform="translate(512.5 612.5) rotate(202) scale(8.8 4.7)" fill="#ffffff"/><use href="#lf" transform="translate(595.0 594.2) rotate(262) scale(5.8 2.9)" fill="#f8f9f9"/><use href="#lf" transform="translate(444.1 609.5) rotate(55) scale(7.3 3.0)" fill="#f8f9f9"/><use href="#lf" transform="translate(372.8 587.6) rotate(309) scale(11.5 4.8)" fill="#ffffff"/><use href="#lf" transform="translate(494.8 520.4) rotate(283) scale(10.9 4.5)" fill="#f8f9f9"/><use href="#lf" transform="translate(593.4 556.3) rotate(221) scale(7.2 4.0)" fill="#e3e6e6"/><use href="#lf" transform="translate(581.3 478.8) rotate(68) scale(8.9 4.3)" fill="#f4f5f5"/><use href="#lf" transform="translate(537.9 550.3) rotate(331) scale(8.6 4.4)" fill="#f1f2f2"/><use href="#lf" transform="translate(475.0 539.1) rotate(158) scale(6.5 2.9)" fill="#ced2d2"/><use href="#lf" transform="translate(430.7 666.3) rotate(229) scale(8.3 4.4)" fill="#f8f9f9"/><use href="#lf" transform="translate(394.4 685.1) rotate(92) scale(8.8 4.1)" fill="#ced2d2"/><use href="#lf" transform="translate(478.0 688.5) rotate(138) scale(9.1 4.8)" fill="#e3e6e6"/><use href="#lf" transform="translate(444.7 567.6) rotate(157) scale(6.4 3.7)" fill="#f1f2f2"/><use href="#lf" transform="translate(623.9 635.5) rotate(6) scale(6.1 3.6)" fill="#ffffff"/><use href="#lf" transform="translate(599.3 670.5) rotate(334) scale(11.3 6.3)" fill="#ffffff"/><use href="#lf" transform="translate(589.7 482.2) rotate(19) scale(6.5 2.6)" fill="#d5d9d9"/><use href="#lf" transform="translate(470.6 652.1) rotate(86) scale(9.2 5.0)" fill="#ffffff"/><use href="#lf" transform="translate(611.1 620.7) rotate(173) scale(6.9 3.3)" fill="#ffffff"/><use href="#lf" transform="translate(451.5 568.7) rotate(271) scale(6.8 3.0)" fill="#e3e6e6"/><use href="#lf" transform="translate(406.0 602.6) rotate(67) scale(6.0 2.7)" fill="#dadede"/><use href="#lf" transform="translate(446.1 499.6) rotate(95) scale(5.6 3.3)" fill="#ffffff"/><use href="#lf" transform="translate(425.3 689.2) rotate(64) scale(8.2 4.1)" fill="#ffffff"/><use href="#lf" transform="translate(557.3 688.1) rotate(16) scale(10.6 4.5)" fill="#ffffff"/><use href="#lf" transform="translate(381.1 533.8) rotate(53) scale(10.1 4.9)" fill="#dadede"/><use href="#lf" transform="translate(518.3 572.3) rotate(302) scale(8.7 4.7)" fill="#dadede"/><use href="#lf" transform="translate(397.9 643.4) rotate(183) scale(6.1 2.6)" fill="#f8f9f9"/><use href="#lf" transform="translate(519.0 531.6) rotate(331) scale(5.5 2.6)" fill="#e3e6e6"/><use href="#lf" transform="translate(401.3 480.1) rotate(146) scale(11.4 5.2)" fill="#d5d9d9"/><use href="#lf" transform="translate(539.5 545.2) rotate(141) scale(8.7 4.1)" fill="#d5d9d9"/><use href="#lf" transform="translate(320.2 580.1) rotate(264) scale(8.6 3.7)" fill="#dfe2e2"/><use href="#lf" transform="translate(601.7 481.7) rotate(257) scale(7.4 3.7)" fill="#dadede"/><use href="#lf" transform="translate(454.9 644.1) rotate(177) scale(8.8 3.7)" fill="#dfe2e2"/><use href="#lf" transform="translate(561.3 569.0) rotate(128) scale(9.1 3.8)" fill="#f4f5f5"/><use href="#lf" transform="translate(520.7 503.1) rotate(9) scale(6.8 2.9)" fill="#dadede"/><use href="#lf" transform="translate(628.6 556.0) rotate(239) scale(5.6 3.0)" fill="#ffffff"/><use href="#lf" transform="translate(494.5 577.3) rotate(182) scale(8.2 3.3)" fill="#f1f2f2"/><use href="#lf" transform="translate(468.1 481.7) rotate(188) scale(8.9 3.9)" fill="#f1f2f2"/><use href="#lf" transform="translate(339.9 517.8) rotate(166) scale(8.6 4.5)" fill="#f4f5f5"/><use href="#lf" transform="translate(504.3 579.5) rotate(132) scale(8.3 4.7)" fill="#f1f2f2"/><use href="#lf" transform="translate(635.5 653.5) rotate(199) scale(10.1 5.5)" fill="#f1f2f2"/></g>
<g><use href="#lf" transform="translate(328.5 534.3) rotate(-124) scale(6.0 4.4)" fill="#f2f3f3"/><use href="#lf" transform="translate(334.3 532.9) rotate(-142) scale(6.8 3.5)" fill="#eceeee"/><use href="#lf" transform="translate(339.9 530.0) rotate(-108) scale(7.4 4.9)" fill="#ffffff"/><use href="#lf" transform="translate(340.6 525.8) rotate(-125) scale(4.8 2.5)" fill="#f7f8f8"/><use href="#lf" transform="translate(346.0 523.0) rotate(-145) scale(6.3 3.9)" fill="#f7f8f8"/><use href="#lf" transform="translate(350.5 521.5) rotate(-168) scale(4.8 2.7)" fill="#ffffff"/><use href="#lf" transform="translate(357.3 518.9) rotate(-153) scale(7.0 3.5)" fill="#f2f3f3"/><use href="#lf" transform="translate(359.4 517.6) rotate(-146) scale(6.2 4.3)" fill="#ffffff"/><use href="#lf" transform="translate(363.7 513.7) rotate(-88) scale(4.4 2.2)" fill="#ffffff"/><use href="#lf" transform="translate(367.7 509.2) rotate(-67) scale(5.3 3.2)" fill="#f7f8f8"/><use href="#lf" transform="translate(374.3 506.7) rotate(-66) scale(4.1 2.2)" fill="#ffffff"/><use href="#lf" transform="translate(376.9 504.2) rotate(-84) scale(4.0 2.6)" fill="#ffffff"/><use href="#lf" transform="translate(380.8 503.4) rotate(-162) scale(5.3 3.5)" fill="#ffffff"/><use href="#lf" transform="translate(386.2 498.6) rotate(-109) scale(5.1 2.8)" fill="#ffffff"/><use href="#lf" transform="translate(391.9 497.7) rotate(-167) scale(5.4 3.3)" fill="#ffffff"/><use href="#lf" transform="translate(396.3 494.6) rotate(-76) scale(5.4 3.3)" fill="#ffffff"/><use href="#lf" transform="translate(399.7 493.3) rotate(-108) scale(6.0 4.2)" fill="#ffffff"/><use href="#lf" transform="translate(404.0 490.1) rotate(-156) scale(5.6 2.9)" fill="#ffffff"/><use href="#lf" transform="translate(410.7 487.4) rotate(-100) scale(7.4 4.9)" fill="#f2f3f3"/><use href="#lf" transform="translate(414.9 484.4) rotate(-173) scale(6.5 4.8)" fill="#ffffff"/><use href="#lf" transform="translate(418.8 480.2) rotate(-95) scale(4.3 2.7)" fill="#f7f8f8"/><use href="#lf" transform="translate(421.1 479.5) rotate(-81) scale(5.7 2.9)" fill="#eceeee"/><use href="#lf" transform="translate(329.2 537.0) rotate(127) scale(5.3 2.7)" fill="#f7f8f8"/><use href="#lf" transform="translate(329.6 534.1) rotate(168) scale(6.6 4.2)" fill="#f7f8f8"/><use href="#lf" transform="translate(339.7 549.9) rotate(142) scale(5.7 3.2)" fill="#ffffff"/><use href="#lf" transform="translate(342.9 552.3) rotate(123) scale(4.5 2.9)" fill="#ffffff"/><use href="#lf" transform="translate(347.0 554.2) rotate(113) scale(6.3 3.5)" fill="#ffffff"/><use href="#lf" transform="translate(351.3 557.5) rotate(120) scale(5.1 2.7)" fill="#ffffff"/><use href="#lf" transform="translate(353.7 560.0) rotate(157) scale(5.6 4.1)" fill="#eceeee"/><use href="#lf" transform="translate(358.8 562.3) rotate(162) scale(4.3 2.2)" fill="#eceeee"/><use href="#lf" transform="translate(361.8 564.1) rotate(68) scale(4.5 2.7)" fill="#ffffff"/><use href="#lf" transform="translate(367.4 566.0) rotate(154) scale(6.2 4.1)" fill="#f7f8f8"/><use href="#lf" transform="translate(369.7 569.9) rotate(144) scale(4.0 2.5)" fill="#eceeee"/><use href="#lf" transform="translate(375.4 571.0) rotate(159) scale(7.5 4.0)" fill="#f2f3f3"/><use href="#lf" transform="translate(378.5 572.9) rotate(166) scale(5.6 3.7)" fill="#f2f3f3"/><use href="#lf" transform="translate(383.4 574.8) rotate(161) scale(7.4 3.9)" fill="#f2f3f3"/><use href="#lf" transform="translate(388.9 578.2) rotate(153) scale(7.4 4.7)" fill="#eceeee"/><use href="#lf" transform="translate(390.4 579.8) rotate(150) scale(5.5 3.5)" fill="#f2f3f3"/><use href="#lf" transform="translate(395.2 584.9) rotate(152) scale(4.6 2.7)" fill="#eceeee"/><use href="#lf" transform="translate(400.1 586.0) rotate(120) scale(6.4 4.7)" fill="#eceeee"/><use href="#lf" transform="translate(403.2 586.8) rotate(123) scale(6.6 4.3)" fill="#eceeee"/><use href="#lf" transform="translate(406.5 589.9) rotate(123) scale(7.0 5.2)" fill="#ffffff"/><use href="#lf" transform="translate(411.1 593.4) rotate(122) scale(4.1 3.0)" fill="#ffffff"/><use href="#lf" transform="translate(415.3 596.0) rotate(111) scale(4.2 2.7)" fill="#f2f3f3"/><use href="#lf" transform="translate(418.1 597.2) rotate(165) scale(5.5 3.9)" fill="#ffffff"/><use href="#lf" transform="translate(424.3 600.2) rotate(68) scale(4.5 3.1)" fill="#f7f8f8"/><use href="#lf" transform="translate(426.0 602.7) rotate(130) scale(5.7 3.6)" fill="#eceeee"/><use href="#lf" transform="translate(430.9 607.0) rotate(156) scale(4.1 2.7)" fill="#ffffff"/><use href="#lf" transform="translate(436.1 605.5) rotate(160) scale(7.0 4.6)" fill="#f7f8f8"/><use href="#lf" transform="translate(440.3 607.8) rotate(151) scale(7.1 3.9)" fill="#ffffff"/><use href="#lf" transform="translate(441.9 612.4) rotate(112) scale(4.3 3.1)" fill="#ffffff"/><use href="#lf" transform="translate(446.5 612.9) rotate(156) scale(6.0 3.5)" fill="#eceeee"/><use href="#lf" transform="translate(452.3 617.2) rotate(119) scale(6.9 4.8)" fill="#f2f3f3"/><use href="#lf" transform="translate(454.0 618.6) rotate(158) scale(4.6 2.6)" fill="#ffffff"/><use href="#lf" transform="translate(459.9 622.2) rotate(102) scale(5.6 3.9)" fill="#f7f8f8"/><use href="#lf" transform="translate(462.6 621.7) rotate(85) scale(6.5 4.6)" fill="#eceeee"/><use href="#lf" transform="translate(465.8 626.3) rotate(164) scale(5.8 2.9)" fill="#f2f3f3"/><use href="#lf" transform="translate(471.0 628.8) rotate(103) scale(4.7 3.0)" fill="#ffffff"/><use href="#lf" transform="translate(476.0 630.8) rotate(162) scale(5.4 3.9)" fill="#ffffff"/><use href="#lf" transform="translate(478.8 634.7) rotate(117) scale(4.2 2.5)" fill="#ffffff"/><use href="#lf" transform="translate(483.3 633.5) rotate(103) scale(7.3 4.9)" fill="#eceeee"/><use href="#lf" transform="translate(488.1 638.8) rotate(149) scale(6.2 4.2)" fill="#ffffff"/><use href="#lf" transform="translate(491.0 638.8) rotate(87) scale(5.4 2.8)" fill="#eceeee"/><use href="#lf" transform="translate(494.7 643.3) rotate(159) scale(5.5 3.4)" fill="#eceeee"/><use href="#lf" transform="translate(499.4 645.1) rotate(169) scale(7.3 4.4)" fill="#eceeee"/><use href="#lf" transform="translate(503.8 646.5) rotate(97) scale(5.5 3.4)" fill="#f7f8f8"/><use href="#lf" transform="translate(507.7 648.8) rotate(98) scale(5.0 3.4)" fill="#f2f3f3"/><use href="#lf" transform="translate(512.2 651.3) rotate(148) scale(5.4 3.9)" fill="#ffffff"/><use href="#lf" transform="translate(515.1 653.9) rotate(92) scale(5.7 4.2)" fill="#ffffff"/><use href="#lf" transform="translate(520.9 656.1) rotate(78) scale(6.9 4.5)" fill="#f7f8f8"/><use href="#lf" transform="translate(523.3 658.8) rotate(139) scale(4.4 2.7)" fill="#f7f8f8"/><use href="#lf" transform="translate(528.3 660.7) rotate(170) scale(5.9 4.4)" fill="#eceeee"/><use href="#lf" transform="translate(531.6 663.5) rotate(141) scale(5.3 3.0)" fill="#ffffff"/><use href="#lf" transform="translate(536.5 666.1) rotate(87) scale(5.8 3.8)" fill="#f2f3f3"/><use href="#lf" transform="translate(537.7 668.1) rotate(96) scale(4.1 2.3)" fill="#f7f8f8"/><use href="#lf" transform="translate(543.1 670.6) rotate(120) scale(5.2 3.1)" fill="#eceeee"/><use href="#lf" transform="translate(548.2 673.1) rotate(148) scale(6.7 4.1)" fill="#f7f8f8"/><use href="#lf" transform="translate(551.2 674.1) rotate(86) scale(6.7 4.7)" fill="#ffffff"/><use href="#lf" transform="translate(555.4 677.6) rotate(155) scale(5.5 3.5)" fill="#ffffff"/><use href="#lf" transform="translate(329.2 537.5) rotate(134) scale(6.1 4.1)" fill="#f7f8f8"/><use href="#lf" transform="translate(329.5 541.3) rotate(115) scale(5.1 3.7)" fill="#f7f8f8"/><use href="#lf" transform="translate(333.5 541.4) rotate(115) scale(6.8 3.9)" fill="#ffffff"/><use href="#lf" transform="translate(335.1 544.4) rotate(124) scale(5.3 3.1)" fill="#eceeee"/><use href="#lf" transform="translate(337.2 546.5) rotate(90) scale(6.1 3.3)" fill="#eceeee"/><use href="#lf" transform="translate(338.7 549.6) rotate(82) scale(4.6 2.6)" fill="#eceeee"/><use href="#lf" transform="translate(554.3 679.1) rotate(104) scale(4.3 2.9)" fill="#f2f3f3"/><use href="#lf" transform="translate(558.2 675.6) rotate(63) scale(4.8 3.3)" fill="#ffffff"/><use href="#lf" transform="translate(563.4 674.1) rotate(83) scale(5.9 4.0)" fill="#f7f8f8"/><use href="#lf" transform="translate(567.8 670.3) rotate(103) scale(6.8 4.8)" fill="#ffffff"/><use href="#lf" transform="translate(571.6 667.9) rotate(21) scale(5.5 3.3)" fill="#f7f8f8"/><use href="#lf" transform="translate(574.4 666.8) rotate(112) scale(5.5 3.1)" fill="#ffffff"/><use href="#lf" transform="translate(579.8 663.6) rotate(56) scale(4.6 2.4)" fill="#ffffff"/><use href="#lf" transform="translate(582.2 661.7) rotate(84) scale(4.8 2.7)" fill="#f2f3f3"/><use href="#lf" transform="translate(585.7 658.6) rotate(66) scale(6.7 3.8)" fill="#f7f8f8"/><use href="#lf" transform="translate(590.8 655.4) rotate(100) scale(6.7 3.5)" fill="#eceeee"/><use href="#lf" transform="translate(595.5 653.5) rotate(12) scale(6.7 4.7)" fill="#f2f3f3"/><use href="#lf" transform="translate(599.9 651.8) rotate(23) scale(6.5 4.2)" fill="#ffffff"/><use href="#lf" transform="translate(602.6 648.0) rotate(64) scale(7.5 4.2)" fill="#ffffff"/><use href="#lf" transform="translate(607.2 649.9) rotate(16) scale(4.9 3.4)" fill="#eceeee"/><use href="#lf" transform="translate(612.3 645.1) rotate(51) scale(5.1 3.5)" fill="#ffffff"/><use href="#lf" transform="translate(615.1 642.2) rotate(97) scale(5.8 3.1)" fill="#f2f3f3"/><use href="#lf" transform="translate(620.1 640.9) rotate(21) scale(4.2 2.2)" fill="#f2f3f3"/><use href="#lf" transform="translate(622.4 639.3) rotate(31) scale(5.3 3.6)" fill="#ffffff"/><use href="#lf" transform="translate(629.4 637.2) rotate(108) scale(4.5 3.0)" fill="#ffffff"/><use href="#lf" transform="translate(631.0 634.2) rotate(41) scale(4.7 3.2)" fill="#f2f3f3"/><use href="#lf" transform="translate(636.6 631.5) rotate(16) scale(4.3 2.3)" fill="#ffffff"/><use href="#lf" transform="translate(639.9 627.7) rotate(30) scale(6.1 3.2)" fill="#f7f8f8"/><use href="#lf" transform="translate(644.6 626.2) rotate(76) scale(5.5 3.4)" fill="#f2f3f3"/><use href="#lf" transform="translate(648.5 625.3) rotate(40) scale(6.5 4.3)" fill="#ffffff"/><use href="#lf" transform="translate(651.0 622.4) rotate(54) scale(4.7 2.7)" fill="#ffffff"/><use href="#lf" transform="translate(656.1 620.0) rotate(105) scale(4.6 3.1)" fill="#eceeee"/><use href="#lf" transform="translate(660.5 617.7) rotate(84) scale(7.5 4.7)" fill="#ffffff"/><use href="#lf" transform="translate(553.3 676.8) rotate(81) scale(4.5 2.8)" fill="#f2f3f3"/><use href="#lf" transform="translate(555.5 676.7) rotate(61) scale(5.6 3.8)" fill="#ffffff"/><use href="#lf" transform="translate(557.5 675.8) rotate(101) scale(7.5 5.3)" fill="#ffffff"/></g></g>
<g id="l2"><path d="M331.8 447.5 L325.1 450.8 L324.7 452.6 L326.1 454.6 L350.5 470.3 L354.5 467.7 L336.3 450.0Z" fill="#e6dcd5" stroke="#4a423d" stroke-width="0.9" stroke-linejoin="round"/>
<path d="M330.3 452.3 L330.3 451.4 L330.5 450.5 L330.8 449.6 L331.1 448.7 L331.6 447.8 L332.2 447.0 L332.9 446.2 L333.7 445.4 L334.5 444.7 L335.5 444.0 L336.5 443.3 L337.5 442.7 L338.5 442.1 L339.5 441.5 L340.5 440.9 L341.5 440.3 L342.5 439.7 L343.5 439.1 L344.5 438.5 L345.5 437.9 L346.5 437.3 L347.5 436.7 L348.5 436.1 L349.5 435.5 L350.5 434.9 L351.5 434.3 L352.5 433.7 L353.5 433.1 L354.5 432.5 L355.5 431.9 L356.5 431.3 L357.5 430.7 L358.5 430.1 L359.5 429.5 L360.5 428.9 L361.5 428.3 L362.5 427.7 L363.5 427.1 L364.5 426.5 L365.5 425.9 L366.5 425.3 L367.5 424.7 L368.5 424.1 L369.5 423.5 L370.5 422.9 L371.5 422.3 L372.5 421.7 L373.5 421.1 L374.5 420.5 L375.5 419.9 L376.5 419.3 L377.5 418.7 L378.5 418.1 L379.5 417.5 L380.5 416.9 L381.5 416.3 L382.5 415.7 L383.5 415.1 L384.5 414.5 L385.5 413.9 L386.5 413.3 L387.5 412.7 L388.5 412.1 L389.5 411.5 L390.5 410.9 L391.5 410.3 L392.5 409.7 L393.5 409.1 L394.5 408.5 L395.5 407.9 L396.5 407.3 L397.5 406.7 L398.5 406.1 L399.5 405.5 L400.5 404.9 L401.5 404.3 L402.5 403.7 L403.5 403.1 L404.5 402.5 L405.5 401.9 L406.5 401.3 L407.5 400.7 L408.5 400.1 L409.5 399.5 L410.5 398.9 L411.5 398.3 L412.5 397.7 L413.5 397.1 L414.5 396.5 L415.5 395.9 L416.5 395.3 L417.5 394.7 L418.5 394.1 L419.5 393.5 L420.5 392.9 L421.5 392.3 L422.5 391.7 L423.5 391.1 L424.5 390.5 L425.5 389.9 L426.5 389.3 L427.5 388.7 L428.5 388.1 L429.5 387.5 L430.5 386.9 L431.5 386.3 L432.5 385.7 L433.5 385.1 L434.5 384.5 L435.5 383.9 L436.5 383.3 L437.5 382.7 L438.5 382.1 L439.5 381.5 L440.5 380.9 L441.5 380.3 L442.5 379.7 L443.5 379.1 L444.5 378.5 L445.5 377.9 L446.5 377.3 L447.5 376.7 L448.5 376.1 L449.5 375.5 L450.5 374.9 L451.5 374.3 L452.5 373.7 L453.5 373.1 L454.5 372.5 L455.5 371.9 L456.5 371.3 L457.5 370.7 L458.5 370.1 L459.5 369.5 L460.5 368.9 L461.5 368.3 L462.5 367.7 L463.5 367.1 L464.5 366.5 L465.5 365.9 L466.5 365.3 L467.5 364.7 L468.5 364.1 L469.5 363.5 L470.5 362.9 L471.5 362.3 L472.5 361.7 L473.5 361.1 L474.5 360.5 L475.5 359.9 L476.5 359.3 L477.5 358.7 L478.5 358.1 L479.5 357.5 L480.5 356.9 L481.5 356.3 L482.5 355.7 L483.5 355.1 L484.5 354.5 L485.5 353.9 L486.5 353.3 L487.5 352.7 L488.5 352.1 L489.5 351.5 L490.5 350.9 L491.5 350.3 L492.5 349.7 L493.5 349.1 L494.5 348.5 L495.5 347.9 L496.5 347.3 L497.5 346.7 L498.5 346.1 L499.5 345.5 L500.5 344.9 L501.5 344.3 L502.5 343.7 L503.5 343.1 L504.5 342.5 L505.5 341.9 L506.5 341.3 L507.5 340.7 L508.5 340.1 L509.5 339.5 L510.5 338.9 L511.5 338.3 L512.5 337.7 L513.5 337.1 L514.5 336.5 L515.5 335.9 L516.5 335.3 L517.5 334.7 L518.5 334.1 L519.5 333.5 L520.5 332.9 L521.5 332.3 L522.5 331.7 L523.5 331.1 L524.5 330.5 L525.5 329.9 L526.5 329.3 L527.5 328.7 L528.5 328.1 L529.5 327.5 L530.5 326.9 L531.5 326.3 L532.5 325.7 L533.5 325.1 L534.5 324.5 L535.5 323.9 L536.5 323.3 L537.5 322.7 L538.5 322.1 L539.5 321.5 L540.5 320.9 L541.5 320.3 L542.5 319.7 L543.5 319.1 L544.5 318.5 L545.6 317.9 L546.7 317.4 L547.9 316.9 L549.1 316.4 L550.4 316.0 L551.7 315.6 L553.1 315.4 L554.5 315.1 L555.9 314.9 L557.3 314.8 L558.8 314.7 L560.2 314.7 L561.7 314.8 L563.1 314.9 L564.5 315.1 L565.9 315.3 L567.3 315.6 L568.6 315.9 L569.9 316.3 L571.1 316.7 L572.3 317.2 L573.4 317.8 L574.5 318.4 L575.5 318.9 L576.5 319.5 L577.5 320.1 L578.5 320.7 L579.5 321.3 L580.5 321.9 L581.5 322.5 L582.5 323.1 L583.5 323.7 L584.5 324.3 L585.5 324.9 L586.5 325.4 L587.5 326.0 L588.5 326.6 L589.5 327.2 L590.5 327.8 L591.5 328.4 L592.5 329.0 L593.5 329.6 L594.5 330.2 L595.5 330.8 L596.6 331.4 L597.6 332.0 L598.6 332.5 L599.6 333.1 L600.6 333.7 L601.6 334.3 L602.6 334.9 L603.6 335.5 L604.6 336.1 L605.6 336.7 L606.6 337.3 L607.6 337.9 L608.6 338.5 L609.6 339.0 L610.6 339.6 L611.6 340.2 L612.6 340.8 L613.6 341.4 L614.6 342.0 L615.6 342.6 L616.6 343.2 L617.6 343.8 L618.6 344.4 L619.6 345.0 L620.6 345.6 L621.6 346.1 L622.6 346.7 L623.6 347.3 L624.6 347.9 L625.6 348.5 L626.6 349.1 L627.6 349.7 L628.6 350.3 L629.6 350.9 L630.6 351.5 L631.6 352.1 L632.6 352.7 L633.6 353.2 L634.6 353.8 L635.6 354.4 L636.6 355.0 L637.6 355.6 L638.7 356.2 L639.7 356.8 L640.7 357.4 L641.7 358.0 L642.7 358.6 L643.7 359.2 L644.7 359.7 L645.7 360.3 L646.7 360.9 L647.7 361.5 L648.7 362.1 L649.7 362.7 L650.7 363.3 L651.7 363.9 L652.7 364.5 L653.7 365.1 L654.7 365.7 L655.7 366.3 L656.7 366.8 L657.7 367.4 L658.7 368.0 L659.7 368.6 L660.7 369.2 L661.7 369.8 L662.7 370.4 L663.7 371.0 L664.7 371.6 L665.7 372.2 L666.7 372.8 L667.7 373.4 L668.7 373.9 L669.7 374.5 L670.7 375.1 L671.7 375.7 L672.7 376.3 L673.7 376.9 L674.7 377.5 L675.7 378.1 L676.7 378.7 L677.7 379.3 L678.7 379.9 L679.8 380.4 L680.8 381.0 L681.8 381.6 L682.8 382.2 L683.8 382.8 L684.8 383.4 L685.8 384.0 L686.8 384.6 L687.8 385.2 L688.8 385.8 L689.8 386.4 L690.8 387.0 L691.8 387.5 L692.8 388.1 L693.8 388.7 L694.8 389.3 L695.8 389.9 L696.8 390.5 L697.8 391.1 L698.8 391.7 L699.8 392.3 L700.8 392.9 L701.8 393.5 L702.8 394.0 L703.8 394.6 L704.8 395.2 L705.8 395.8 L706.8 396.4 L707.8 397.0 L708.8 397.6 L709.8 398.2 L710.8 398.8 L711.8 399.4 L712.8 400.0 L713.8 400.6 L714.8 401.1 L715.8 401.7 L716.8 402.3 L717.8 402.9 L718.8 403.5 L719.8 404.1 L720.8 404.7 L721.9 405.3 L722.9 405.9 L723.9 406.5 L724.9 407.1 L725.9 407.7 L726.9 408.2 L727.9 408.8 L728.9 409.4 L729.9 410.0 L730.9 410.6 L731.9 411.2 L732.9 411.8 L733.9 412.4 L734.9 413.0 L735.9 413.6 L736.9 414.2 L737.9 414.7 L738.9 415.3 L739.9 415.9 L740.9 416.5 L741.9 417.1 L742.9 417.7 L743.9 418.3 L744.9 418.9 L745.9 419.5 L746.9 420.1 L747.9 420.7 L748.9 421.3 L749.9 421.8 L750.9 422.4 L751.9 423.0 L752.9 423.6 L753.9 424.2 L754.9 424.8 L755.9 425.4 L756.9 426.0 L757.9 426.6 L758.9 427.2 L759.9 427.8 L760.9 428.4 L761.9 428.9 L762.9 429.5 L764.0 430.1 L765.0 430.7 L766.0 431.3 L767.0 431.9 L768.0 432.5 L769.0 433.1 L770.0 433.7 L771.0 434.3 L772.0 434.9 L773.0 435.4 L774.0 436.0 L775.0 436.6 L776.0 437.2 L777.0 437.8 L778.0 438.4 L779.0 439.0 L780.0 439.6 L781.0 440.2 L782.0 440.8 L783.0 441.4 L784.0 442.0 L785.0 442.5 L786.0 443.2 L786.9 443.8 L787.7 444.5 L788.5 445.3 L789.2 446.0 L789.7 446.8 L790.2 447.6 L790.6 448.5 L790.9 449.3 L791.1 450.1 L791.2 451.0 L791.2 451.9 L791.1 452.7 L790.9 453.6 L790.6 454.4 L790.2 455.3 L789.7 456.1 L789.2 456.9 L788.5 457.6 L787.7 458.4 L786.9 459.1 L786.0 459.8 L785.0 460.4 L784.0 461.0 L783.0 461.6 L782.0 462.2 L781.0 462.8 L780.0 463.4 L779.0 464.0 L778.0 464.6 L777.0 465.2 L776.0 465.8 L775.0 466.4 L774.0 467.0 L773.0 467.6 L772.0 468.2 L771.0 468.8 L770.0 469.4 L769.0 470.0 L768.0 470.6 L767.0 471.2 L766.0 471.8 L765.0 472.4 L764.0 473.0 L763.0 473.6 L762.0 474.2 L761.0 474.8 L760.0 475.4 L759.0 476.0 L758.0 476.6 L757.0 477.2 L756.0 477.8 L755.0 478.4 L754.0 479.0 L753.0 479.6 L752.0 480.2 L751.0 480.8 L750.0 481.4 L749.0 482.0 L748.0 482.6 L747.0 483.2 L746.0 483.8 L745.0 484.4 L744.0 485.0 L743.0 485.6 L742.0 486.2 L741.0 486.8 L740.0 487.4 L739.0 488.0 L738.0 488.6 L737.0 489.2 L736.0 489.8 L735.0 490.4 L734.0 491.0 L733.0 491.6 L732.0 492.2 L731.0 492.8 L730.0 493.4 L729.0 494.0 L728.0 494.6 L727.0 495.2 L726.0 495.8 L725.0 496.4 L724.0 497.0 L723.0 497.6 L722.0 498.2 L721.0 498.8 L720.0 499.4 L719.0 500.0 L718.0 500.6 L717.0 501.2 L716.0 501.8 L715.0 502.4 L714.0 503.0 L713.0 503.6 L712.0 504.2 L711.0 504.8 L710.0 505.4 L709.0 506.0 L708.0 506.6 L707.0 507.2 L706.0 507.8 L705.0 508.4 L704.0 509.0 L703.0 509.6 L702.0 510.2 L701.0 510.8 L700.0 511.4 L699.0 512.0 L698.0 512.6 L697.0 513.2 L696.0 513.8 L695.0 514.4 L694.0 515.0 L693.0 515.6 L692.0 516.2 L691.0 516.8 L690.0 517.4 L689.0 518.0 L688.0 518.6 L687.0 519.2 L686.0 519.8 L685.0 520.4 L684.0 521.0 L683.0 521.6 L682.0 522.2 L681.0 522.8 L680.0 523.4 L679.0 524.0 L678.0 524.6 L677.0 525.2 L676.0 525.8 L675.0 526.4 L674.0 527.0 L673.0 527.6 L672.0 528.2 L671.0 528.8 L670.0 529.4 L669.0 530.0 L668.0 530.6 L667.0 531.2 L666.0 531.8 L665.0 532.4 L664.0 533.0 L663.0 533.6 L662.0 534.2 L661.0 534.8 L660.0 535.4 L659.0 536.0 L658.0 536.6 L657.0 537.2 L656.0 537.8 L655.0 538.4 L654.0 539.0 L653.0 539.6 L652.0 540.2 L651.0 540.8 L650.0 541.4 L649.0 542.0 L648.0 542.6 L647.0 543.2 L646.0 543.8 L645.0 544.4 L644.0 545.0 L643.0 545.6 L642.0 546.2 L641.0 546.8 L640.0 547.4 L639.0 548.0 L638.0 548.6 L637.0 549.2 L636.0 549.8 L635.0 550.4 L634.0 551.0 L633.0 551.6 L632.0 552.2 L631.0 552.8 L630.0 553.4 L629.0 554.0 L628.0 554.6 L627.0 555.2 L626.0 555.8 L625.0 556.4 L624.0 557.0 L623.0 557.6 L622.0 558.2 L621.0 558.8 L620.0 559.4 L619.0 560.0 L618.0 560.6 L617.0 561.2 L616.0 561.8 L615.0 562.4 L614.0 563.0 L613.0 563.6 L612.0 564.2 L611.0 564.8 L610.0 565.4 L609.0 566.0 L608.0 566.6 L607.0 567.2 L606.0 567.8 L605.0 568.4 L604.0 569.0 L603.0 569.6 L602.0 570.2 L601.0 570.8 L600.0 571.4 L599.0 572.0 L598.0 572.6 L597.0 573.2 L596.0 573.8 L595.0 574.4 L594.0 575.0 L593.0 575.6 L592.0 576.2 L591.0 576.8 L590.0 577.4 L589.0 578.0 L588.0 578.6 L587.0 579.2 L586.0 579.8 L585.0 580.4 L584.0 581.0 L583.0 581.6 L582.0 582.2 L581.0 582.8 L580.0 583.4 L579.0 584.0 L578.0 584.6 L577.0 585.2 L575.9 585.8 L574.8 586.3 L573.6 586.8 L572.4 587.3 L571.1 587.7 L569.8 588.0 L568.4 588.3 L567.0 588.6 L565.6 588.8 L564.2 588.9 L562.7 589.0 L561.3 589.0 L559.8 588.9 L558.4 588.8 L557.0 588.6 L555.6 588.4 L554.2 588.1 L552.9 587.8 L551.6 587.4 L550.4 587.0 L549.2 586.5 L548.1 585.9 L547.0 585.3 L546.0 584.8 L545.0 584.2 L544.0 583.6 L543.0 583.0 L542.0 582.4 L541.0 581.8 L540.0 581.2 L539.0 580.6 L538.0 580.0 L537.0 579.4 L536.0 578.8 L535.0 578.2 L534.0 577.7 L533.0 577.1 L532.0 576.5 L531.0 575.9 L530.0 575.3 L529.0 574.7 L528.0 574.1 L527.0 573.5 L526.0 572.9 L524.9 572.3 L523.9 571.7 L522.9 571.2 L521.9 570.6 L520.9 570.0 L519.9 569.4 L518.9 568.8 L517.9 568.2 L516.9 567.6 L515.9 567.0 L514.9 566.4 L513.9 565.8 L512.9 565.2 L511.9 564.6 L510.9 564.1 L509.9 563.5 L508.9 562.9 L507.9 562.3 L506.9 561.7 L505.9 561.1 L504.9 560.5 L503.9 559.9 L502.9 559.3 L501.9 558.7 L500.9 558.1 L499.9 557.5 L498.9 557.0 L497.9 556.4 L496.9 555.8 L495.9 555.2 L494.9 554.6 L493.9 554.0 L492.9 553.4 L491.9 552.8 L490.9 552.2 L489.9 551.6 L488.9 551.0 L487.9 550.5 L486.9 549.9 L485.9 549.3 L484.9 548.7 L483.9 548.1 L482.8 547.5 L481.8 546.9 L480.8 546.3 L479.8 545.7 L478.8 545.1 L477.8 544.5 L476.8 543.9 L475.8 543.4 L474.8 542.8 L473.8 542.2 L472.8 541.6 L471.8 541.0 L470.8 540.4 L469.8 539.8 L468.8 539.2 L467.8 538.6 L466.8 538.0 L465.8 537.4 L464.8 536.8 L463.8 536.3 L462.8 535.7 L461.8 535.1 L460.8 534.5 L459.8 533.9 L458.8 533.3 L457.8 532.7 L456.8 532.1 L455.8 531.5 L454.8 530.9 L453.8 530.3 L452.8 529.8 L451.8 529.2 L450.8 528.6 L449.8 528.0 L448.8 527.4 L447.8 526.8 L446.8 526.2 L445.8 525.6 L444.8 525.0 L443.8 524.4 L442.8 523.8 L441.8 523.2 L440.7 522.7 L439.7 522.1 L438.7 521.5 L437.7 520.9 L436.7 520.3 L435.7 519.7 L434.7 519.1 L433.7 518.5 L432.7 517.9 L431.7 517.3 L430.7 516.7 L429.7 516.2 L428.7 515.6 L427.7 515.0 L426.7 514.4 L425.7 513.8 L424.7 513.2 L423.7 512.6 L422.7 512.0 L421.7 511.4 L420.7 510.8 L419.7 510.2 L418.7 509.6 L417.7 509.1 L416.7 508.5 L415.7 507.9 L414.7 507.3 L413.7 506.7 L412.7 506.1 L411.7 505.5 L410.7 504.9 L409.7 504.3 L408.7 503.7 L407.7 503.1 L406.7 502.5 L405.7 502.0 L404.7 501.4 L403.7 500.8 L402.7 500.2 L401.7 499.6 L400.7 499.0 L399.6 498.4 L398.6 497.8 L397.6 497.2 L396.6 496.6 L395.6 496.0 L394.6 495.5 L393.6 494.9 L392.6 494.3 L391.6 493.7 L390.6 493.1 L389.6 492.5 L388.6 491.9 L387.6 491.3 L386.6 490.7 L385.6 490.1 L384.6 489.5 L383.6 488.9 L382.6 488.4 L381.6 487.8 L380.6 487.2 L379.6 486.6 L378.6 486.0 L377.6 485.4 L376.6 484.8 L375.6 484.2 L374.6 483.6 L373.6 483.0 L372.6 482.4 L371.6 481.8 L370.6 481.3 L369.6 480.7 L368.6 480.1 L367.6 479.5 L366.6 478.9 L365.6 478.3 L364.6 477.7 L363.6 477.1 L362.6 476.5 L361.6 475.9 L360.6 475.3 L359.6 474.8 L358.6 474.2 L357.5 473.6 L356.5 473.0 L355.5 472.4 L354.5 471.8 L353.5 471.2 L352.5 470.6 L351.5 470.0 L350.5 469.4 L349.5 468.8 L348.5 468.2 L347.5 467.7 L346.5 467.1 L345.5 466.5 L344.5 465.9 L343.5 465.3 L342.5 464.7 L341.5 464.1 L340.5 463.5 L339.5 462.9 L338.5 462.3 L337.5 461.7 L336.5 461.2 L335.5 460.5 L334.5 459.8 L333.7 459.1 L332.9 458.3 L332.2 457.5 L331.6 456.7 L331.1 455.8 L330.8 454.9 L330.5 454.1 L330.3 453.2Z" fill="#dccfc7" stroke="#4a423d" stroke-width="0.9" stroke-linejoin="round"/>
<path d="M330.3 450.0 L330.3 449.1 L330.5 448.2 L330.8 447.3 L331.1 446.4 L331.6 445.5 L332.2 444.7 L332.9 443.9 L333.7 443.1 L334.5 442.4 L335.5 441.7 L336.5 441.0 L337.5 440.4 L338.5 439.8 L339.5 439.2 L340.5 438.6 L341.5 438.0 L342.5 437.4 L343.5 436.8 L344.5 436.2 L345.5 435.6 L346.5 435.0 L347.5 434.4 L348.5 433.8 L349.5 433.2 L350.5 432.6 L351.5 432.0 L352.5 431.4 L353.5 430.8 L354.5 430.2 L355.5 429.6 L356.5 429.0 L357.5 428.4 L358.5 427.8 L359.5 427.2 L360.5 426.6 L361.5 426.0 L362.5 425.4 L363.5 424.8 L364.5 424.2 L365.5 423.6 L366.5 423.0 L367.5 422.4 L368.5 421.8 L369.5 421.2 L370.5 420.6 L371.5 420.0 L372.5 419.4 L373.5 418.8 L374.5 418.2 L375.5 417.6 L376.5 417.0 L377.5 416.4 L378.5 415.8 L379.5 415.2 L380.5 414.6 L381.5 414.0 L382.5 413.4 L383.5 412.8 L384.5 412.2 L385.5 411.6 L386.5 411.0 L387.5 410.4 L388.5 409.8 L389.5 409.2 L390.5 408.6 L391.5 408.0 L392.5 407.4 L393.5 406.8 L394.5 406.2 L395.5 405.6 L396.5 405.0 L397.5 404.4 L398.5 403.8 L399.5 403.2 L400.5 402.6 L401.5 402.0 L402.5 401.4 L403.5 400.8 L404.5 400.2 L405.5 399.6 L406.5 399.0 L407.5 398.4 L408.5 397.8 L409.5 397.2 L410.5 396.6 L411.5 396.0 L412.5 395.4 L413.5 394.8 L414.5 394.2 L415.5 393.6 L416.5 393.0 L417.5 392.4 L418.5 391.8 L419.5 391.2 L420.5 390.6 L421.5 390.0 L422.5 389.4 L423.5 388.8 L424.5 388.2 L425.5 387.6 L426.5 387.0 L427.5 386.4 L428.5 385.8 L429.5 385.2 L430.5 384.6 L431.5 384.0 L432.5 383.4 L433.5 382.8 L434.5 382.2 L435.5 381.6 L436.5 381.0 L437.5 380.4 L438.5 379.8 L439.5 379.2 L440.5 378.6 L441.5 378.0 L442.5 377.4 L443.5 376.8 L444.5 376.2 L445.5 375.6 L446.5 375.0 L447.5 374.4 L448.5 373.8 L449.5 373.2 L450.5 372.6 L451.5 372.0 L452.5 371.4 L453.5 370.8 L454.5 370.2 L455.5 369.6 L456.5 369.0 L457.5 368.4 L458.5 367.8 L459.5 367.2 L460.5 366.6 L461.5 366.0 L462.5 365.4 L463.5 364.8 L464.5 364.2 L465.5 363.6 L466.5 363.0 L467.5 362.4 L468.5 361.8 L469.5 361.2 L470.5 360.6 L471.5 360.0 L472.5 359.4 L473.5 358.8 L474.5 358.2 L475.5 357.6 L476.5 357.0 L477.5 356.4 L478.5 355.8 L479.5 355.2 L480.5 354.6 L481.5 354.0 L482.5 353.4 L483.5 352.8 L484.5 352.2 L485.5 351.6 L486.5 351.0 L487.5 350.4 L488.5 349.8 L489.5 349.2 L490.5 348.6 L491.5 348.0 L492.5 347.4 L493.5 346.8 L494.5 346.2 L495.5 345.6 L496.5 345.0 L497.5 344.4 L498.5 343.8 L499.5 343.2 L500.5 342.6 L501.5 342.0 L502.5 341.4 L503.5 340.8 L504.5 340.2 L505.5 339.6 L506.5 339.0 L507.5 338.4 L508.5 337.8 L509.5 337.2 L510.5 336.6 L511.5 336.0 L512.5 335.4 L513.5 334.8 L514.5 334.2 L515.5 333.6 L516.5 333.0 L517.5 332.4 L518.5 331.8 L519.5 331.2 L520.5 330.6 L521.5 330.0 L522.5 329.4 L523.5 328.8 L524.5 328.2 L525.5 327.6 L526.5 327.0 L527.5 326.4 L528.5 325.8 L529.5 325.2 L530.5 324.6 L531.5 324.0 L532.5 323.4 L533.5 322.8 L534.5 322.2 L535.5 321.6 L536.5 321.0 L537.5 320.4 L538.5 319.8 L539.5 319.2 L540.5 318.6 L541.5 318.0 L542.5 317.4 L543.5 316.8 L544.5 316.2 L545.6 315.6 L546.7 315.1 L547.9 314.6 L549.1 314.1 L550.4 313.7 L551.7 313.3 L553.1 313.1 L554.5 312.8 L555.9 312.6 L557.3 312.5 L558.8 312.4 L560.2 312.4 L561.7 312.5 L563.1 312.6 L564.5 312.8 L565.9 313.0 L567.3 313.3 L568.6 313.6 L569.9 314.0 L571.1 314.4 L572.3 314.9 L573.4 315.5 L574.5 316.1 L575.5 316.6 L576.5 317.2 L577.5 317.8 L578.5 318.4 L579.5 319.0 L580.5 319.6 L581.5 320.2 L582.5 320.8 L583.5 321.4 L584.5 322.0 L585.5 322.6 L586.5 323.1 L587.5 323.7 L588.5 324.3 L589.5 324.9 L590.5 325.5 L591.5 326.1 L592.5 326.7 L593.5 327.3 L594.5 327.9 L595.5 328.5 L596.6 329.1 L597.6 329.7 L598.6 330.2 L599.6 330.8 L600.6 331.4 L601.6 332.0 L602.6 332.6 L603.6 333.2 L604.6 333.8 L605.6 334.4 L606.6 335.0 L607.6 335.6 L608.6 336.2 L609.6 336.7 L610.6 337.3 L611.6 337.9 L612.6 338.5 L613.6 339.1 L614.6 339.7 L615.6 340.3 L616.6 340.9 L617.6 341.5 L618.6 342.1 L619.6 342.7 L620.6 343.3 L621.6 343.8 L622.6 344.4 L623.6 345.0 L624.6 345.6 L625.6 346.2 L626.6 346.8 L627.6 347.4 L628.6 348.0 L629.6 348.6 L630.6 349.2 L631.6 349.8 L632.6 350.4 L633.6 350.9 L634.6 351.5 L635.6 352.1 L636.6 352.7 L637.6 353.3 L638.7 353.9 L639.7 354.5 L640.7 355.1 L641.7 355.7 L642.7 356.3 L643.7 356.9 L644.7 357.4 L645.7 358.0 L646.7 358.6 L647.7 359.2 L648.7 359.8 L649.7 360.4 L650.7 361.0 L651.7 361.6 L652.7 362.2 L653.7 362.8 L654.7 363.4 L655.7 364.0 L656.7 364.5 L657.7 365.1 L658.7 365.7 L659.7 366.3 L660.7 366.9 L661.7 367.5 L662.7 368.1 L663.7 368.7 L664.7 369.3 L665.7 369.9 L666.7 370.5 L667.7 371.1 L668.7 371.6 L669.7 372.2 L670.7 372.8 L671.7 373.4 L672.7 374.0 L673.7 374.6 L674.7 375.2 L675.7 375.8 L676.7 376.4 L677.7 377.0 L678.7 377.6 L679.8 378.1 L680.8 378.7 L681.8 379.3 L682.8 379.9 L683.8 380.5 L684.8 381.1 L685.8 381.7 L686.8 382.3 L687.8 382.9 L688.8 383.5 L689.8 384.1 L690.8 384.7 L691.8 385.2 L692.8 385.8 L693.8 386.4 L694.8 387.0 L695.8 387.6 L696.8 388.2 L697.8 388.8 L698.8 389.4 L699.8 390.0 L700.8 390.6 L701.8 391.2 L702.8 391.7 L703.8 392.3 L704.8 392.9 L705.8 393.5 L706.8 394.1 L707.8 394.7 L708.8 395.3 L709.8 395.9 L710.8 396.5 L711.8 397.1 L712.8 397.7 L713.8 398.3 L714.8 398.8 L715.8 399.4 L716.8 400.0 L717.8 400.6 L718.8 401.2 L719.8 401.8 L720.8 402.4 L721.9 403.0 L722.9 403.6 L723.9 404.2 L724.9 404.8 L725.9 405.4 L726.9 405.9 L727.9 406.5 L728.9 407.1 L729.9 407.7 L730.9 408.3 L731.9 408.9 L732.9 409.5 L733.9 410.1 L734.9 410.7 L735.9 411.3 L736.9 411.9 L737.9 412.4 L738.9 413.0 L739.9 413.6 L740.9 414.2 L741.9 414.8 L742.9 415.4 L743.9 416.0 L744.9 416.6 L745.9 417.2 L746.9 417.8 L747.9 418.4 L748.9 419.0 L749.9 419.5 L750.9 420.1 L751.9 420.7 L752.9 421.3 L753.9 421.9 L754.9 422.5 L755.9 423.1 L756.9 423.7 L757.9 424.3 L758.9 424.9 L759.9 425.5 L760.9 426.1 L761.9 426.6 L762.9 427.2 L764.0 427.8 L765.0 428.4 L766.0 429.0 L767.0 429.6 L768.0 430.2 L769.0 430.8 L770.0 431.4 L771.0 432.0 L772.0 432.6 L773.0 433.1 L774.0 433.7 L775.0 434.3 L776.0 434.9 L777.0 435.5 L778.0 436.1 L779.0 436.7 L780.0 437.3 L781.0 437.9 L782.0 438.5 L783.0 439.1 L784.0 439.7 L785.0 440.2 L786.0 440.9 L786.9 441.5 L787.7 442.2 L788.5 443.0 L789.2 443.7 L789.7 444.5 L790.2 445.3 L790.6 446.2 L790.9 447.0 L791.1 447.8 L791.2 448.7 L791.2 449.6 L791.1 450.4 L790.9 451.3 L790.6 452.1 L790.2 453.0 L789.7 453.8 L789.2 454.6 L788.5 455.3 L787.7 456.1 L786.9 456.8 L786.0 457.5 L785.0 458.1 L784.0 458.7 L783.0 459.3 L782.0 459.9 L781.0 460.5 L780.0 461.1 L779.0 461.7 L778.0 462.3 L777.0 462.9 L776.0 463.5 L775.0 464.1 L774.0 464.7 L773.0 465.3 L772.0 465.9 L771.0 466.5 L770.0 467.1 L769.0 467.7 L768.0 468.3 L767.0 468.9 L766.0 469.5 L765.0 470.1 L764.0 470.7 L763.0 471.3 L762.0 471.9 L761.0 472.5 L760.0 473.1 L759.0 473.7 L758.0 474.3 L757.0 474.9 L756.0 475.5 L755.0 476.1 L754.0 476.7 L753.0 477.3 L752.0 477.9 L751.0 478.5 L750.0 479.1 L749.0 479.7 L748.0 480.3 L747.0 480.9 L746.0 481.5 L745.0 482.1 L744.0 482.7 L743.0 483.3 L742.0 483.9 L741.0 484.5 L740.0 485.1 L739.0 485.7 L738.0 486.3 L737.0 486.9 L736.0 487.5 L735.0 488.1 L734.0 488.7 L733.0 489.3 L732.0 489.9 L731.0 490.5 L730.0 491.1 L729.0 491.7 L728.0 492.3 L727.0 492.9 L726.0 493.5 L725.0 494.1 L724.0 494.7 L723.0 495.3 L722.0 495.9 L721.0 496.5 L720.0 497.1 L719.0 497.7 L718.0 498.3 L717.0 498.9 L716.0 499.5 L715.0 500.1 L714.0 500.7 L713.0 501.3 L712.0 501.9 L711.0 502.5 L710.0 503.1 L709.0 503.7 L708.0 504.3 L707.0 504.9 L706.0 505.5 L705.0 506.1 L704.0 506.7 L703.0 507.3 L702.0 507.9 L701.0 508.5 L700.0 509.1 L699.0 509.7 L698.0 510.3 L697.0 510.9 L696.0 511.5 L695.0 512.1 L694.0 512.7 L693.0 513.3 L692.0 513.9 L691.0 514.5 L690.0 515.1 L689.0 515.7 L688.0 516.3 L687.0 516.9 L686.0 517.5 L685.0 518.1 L684.0 518.7 L683.0 519.3 L682.0 519.9 L681.0 520.5 L680.0 521.1 L679.0 521.7 L678.0 522.3 L677.0 522.9 L676.0 523.5 L675.0 524.1 L674.0 524.7 L673.0 525.3 L672.0 525.9 L671.0 526.5 L670.0 527.1 L669.0 527.7 L668.0 528.3 L667.0 528.9 L666.0 529.5 L665.0 530.1 L664.0 530.7 L663.0 531.3 L662.0 531.9 L661.0 532.5 L660.0 533.1 L659.0 533.7 L658.0 534.3 L657.0 534.9 L656.0 535.5 L655.0 536.1 L654.0 536.7 L653.0 537.3 L652.0 537.9 L651.0 538.5 L650.0 539.1 L649.0 539.7 L648.0 540.3 L647.0 540.9 L646.0 541.5 L645.0 542.1 L644.0 542.7 L643.0 543.3 L642.0 543.9 L641.0 544.5 L640.0 545.1 L639.0 545.7 L638.0 546.3 L637.0 546.9 L636.0 547.5 L635.0 548.1 L634.0 548.7 L633.0 549.3 L632.0 549.9 L631.0 550.5 L630.0 551.1 L629.0 551.7 L628.0 552.3 L627.0 552.9 L626.0 553.5 L625.0 554.1 L624.0 554.7 L623.0 555.3 L622.0 555.9 L621.0 556.5 L620.0 557.1 L619.0 557.7 L618.0 558.3 L617.0 558.9 L616.0 559.5 L615.0 560.1 L614.0 560.7 L613.0 561.3 L612.0 561.9 L611.0 562.5 L610.0 563.1 L609.0 563.7 L608.0 564.3 L607.0 564.9 L606.0 565.5 L605.0 566.1 L604.0 566.7 L603.0 567.3 L602.0 567.9 L601.0 568.5 L600.0 569.1 L599.0 569.7 L598.0 570.3 L597.0 570.9 L596.0 571.5 L595.0 572.1 L594.0 572.7 L593.0 573.3 L592.0 573.9 L591.0 574.5 L590.0 575.1 L589.0 575.7 L588.0 576.3 L587.0 576.9 L586.0 577.5 L585.0 578.1 L584.0 578.7 L583.0 579.3 L582.0 579.9 L581.0 580.5 L580.0 581.1 L579.0 581.7 L578.0 582.3 L577.0 582.9 L575.9 583.5 L574.8 584.0 L573.6 584.5 L572.4 585.0 L571.1 585.4 L569.8 585.7 L568.4 586.0 L567.0 586.3 L565.6 586.5 L564.2 586.6 L562.7 586.7 L561.3 586.7 L559.8 586.6 L558.4 586.5 L557.0 586.3 L555.6 586.1 L554.2 585.8 L552.9 585.5 L551.6 585.1 L550.4 584.7 L549.2 584.2 L548.1 583.6 L547.0 583.0 L546.0 582.5 L545.0 581.9 L544.0 581.3 L543.0 580.7 L542.0 580.1 L541.0 579.5 L540.0 578.9 L539.0 578.3 L538.0 577.7 L537.0 577.1 L536.0 576.5 L535.0 575.9 L534.0 575.4 L533.0 574.8 L532.0 574.2 L531.0 573.6 L530.0 573.0 L529.0 572.4 L528.0 571.8 L527.0 571.2 L526.0 570.6 L524.9 570.0 L523.9 569.4 L522.9 568.9 L521.9 568.3 L520.9 567.7 L519.9 567.1 L518.9 566.5 L517.9 565.9 L516.9 565.3 L515.9 564.7 L514.9 564.1 L513.9 563.5 L512.9 562.9 L511.9 562.3 L510.9 561.8 L509.9 561.2 L508.9 560.6 L507.9 560.0 L506.9 559.4 L505.9 558.8 L504.9 558.2 L503.9 557.6 L502.9 557.0 L501.9 556.4 L500.9 555.8 L499.9 555.2 L498.9 554.7 L497.9 554.1 L496.9 553.5 L495.9 552.9 L494.9 552.3 L493.9 551.7 L492.9 551.1 L491.9 550.5 L490.9 549.9 L489.9 549.3 L488.9 548.7 L487.9 548.2 L486.9 547.6 L485.9 547.0 L484.9 546.4 L483.9 545.8 L482.8 545.2 L481.8 544.6 L480.8 544.0 L479.8 543.4 L478.8 542.8 L477.8 542.2 L476.8 541.6 L475.8 541.1 L474.8 540.5 L473.8 539.9 L472.8 539.3 L471.8 538.7 L470.8 538.1 L469.8 537.5 L468.8 536.9 L467.8 536.3 L466.8 535.7 L465.8 535.1 L464.8 534.5 L463.8 534.0 L462.8 533.4 L461.8 532.8 L460.8 532.2 L459.8 531.6 L458.8 531.0 L457.8 530.4 L456.8 529.8 L455.8 529.2 L454.8 528.6 L453.8 528.0 L452.8 527.5 L451.8 526.9 L450.8 526.3 L449.8 525.7 L448.8 525.1 L447.8 524.5 L446.8 523.9 L445.8 523.3 L444.8 522.7 L443.8 522.1 L442.8 521.5 L441.8 520.9 L440.7 520.4 L439.7 519.8 L438.7 519.2 L437.7 518.6 L436.7 518.0 L435.7 517.4 L434.7 516.8 L433.7 516.2 L432.7 515.6 L431.7 515.0 L430.7 514.4 L429.7 513.9 L428.7 513.3 L427.7 512.7 L426.7 512.1 L425.7 511.5 L424.7 510.9 L423.7 510.3 L422.7 509.7 L421.7 509.1 L420.7 508.5 L419.7 507.9 L418.7 507.3 L417.7 506.8 L416.7 506.2 L415.7 505.6 L414.7 505.0 L413.7 504.4 L412.7 503.8 L411.7 503.2 L410.7 502.6 L409.7 502.0 L408.7 501.4 L407.7 500.8 L406.7 500.2 L405.7 499.7 L404.7 499.1 L403.7 498.5 L402.7 497.9 L401.7 497.3 L400.7 496.7 L399.6 496.1 L398.6 495.5 L397.6 494.9 L396.6 494.3 L395.6 493.7 L394.6 493.2 L393.6 492.6 L392.6 492.0 L391.6 491.4 L390.6 490.8 L389.6 490.2 L388.6 489.6 L387.6 489.0 L386.6 488.4 L385.6 487.8 L384.6 487.2 L383.6 486.6 L382.6 486.1 L381.6 485.5 L380.6 484.9 L379.6 484.3 L378.6 483.7 L377.6 483.1 L376.6 482.5 L375.6 481.9 L374.6 481.3 L373.6 480.7 L372.6 480.1 L371.6 479.5 L370.6 479.0 L369.6 478.4 L368.6 477.8 L367.6 477.2 L366.6 476.6 L365.6 476.0 L364.6 475.4 L363.6 474.8 L362.6 474.2 L361.6 473.6 L360.6 473.0 L359.6 472.5 L358.6 471.9 L357.5 471.3 L356.5 470.7 L355.5 470.1 L354.5 469.5 L353.5 468.9 L352.5 468.3 L351.5 467.7 L350.5 467.1 L349.5 466.5 L348.5 465.9 L347.5 465.4 L346.5 464.8 L345.5 464.2 L344.5 463.6 L343.5 463.0 L342.5 462.4 L341.5 461.8 L340.5 461.2 L339.5 460.6 L338.5 460.0 L337.5 459.4 L336.5 458.9 L335.5 458.2 L334.5 457.5 L333.7 456.8 L332.9 456.0 L332.2 455.2 L331.6 454.4 L331.1 453.5 L330.8 452.6 L330.5 451.8 L330.3 450.9Z" fill="#eae0da" stroke="#4a423d" stroke-width="0.9" stroke-linejoin="round"/></g>
<g id="l1"><g fill="#3b3b3b" stroke="#3b3b3b" stroke-width="1.6" stroke-linejoin="round"><use href="#st2" y="5"/><use href="#st2" y="4"/><use href="#st2" y="3"/><use href="#st2" y="2"/><use href="#st2" y="1"/></g>
<g fill="#707476"><use href="#st2" y="5"/><use href="#st2" y="4"/><use href="#st2" y="3"/><use href="#st2" y="2"/><use href="#st2" y="1"/></g>
<use href="#st2" fill="url(#st2g)" stroke="#3b3b3b" stroke-width="1" stroke-linejoin="round"/>
<path d="M371.7 353.6 L561.7 239.6 L563.1 239.0 L564.7 238.6 L566.6 238.5 L568.6 238.7 L570.8 239.0 L573.2 239.7 L575.7 240.5 L578.3 241.7 L581.0 243.0 L583.6 244.5 L586.3 246.2 L589.0 248.1 L591.5 250.0 L594.0 252.2 L596.3 254.4 L598.5 256.6 L600.5 258.9 L602.2 261.2 L603.8 263.5 L605.1 265.7 L606.1 267.8 L606.8 269.9 L607.3 271.8 L607.4 273.5 L417.4 387.5 L417.3 385.8 L416.8 383.9 L416.1 381.8 L415.1 379.7 L413.8 377.5 L412.2 375.2 L410.5 372.9 L408.5 370.6 L406.3 368.4 L404.0 366.2 L401.5 364.0 L399.0 362.1 L396.3 360.2 L393.6 358.5 L391.0 357.0 L388.3 355.7 L385.7 354.5 L383.2 353.7 L380.8 353.0 L378.6 352.7 L376.6 352.5 L374.7 352.6 L373.1 353.0 L371.7 353.6Z" fill="url(#tg0)" stroke="#3b3b3b" stroke-width="1.2" stroke-linejoin="round"/>
<path d="M417.4 387.5 L417.2 385.4 L416.6 383.1 L415.6 380.7 L414.2 378.1 L412.4 375.4 L410.3 372.7 L407.9 370.0 L405.3 367.4 L402.5 364.8 L399.5 362.4 L396.4 360.2 L393.2 358.2 L390.0 356.5 L386.9 355.0 L383.9 353.9 L381.1 353.1 L378.5 352.6 L376.1 352.5 L374.0 352.8 L372.2 353.4 L370.8 354.3 L369.8 355.6 L369.2 357.1 L369.0 358.9Z" fill="url(#cg0)" stroke="#3b3b3b" stroke-width="1.2" stroke-linejoin="round"/>
<path d="M420.1 382.2 L610.1 268.2 L611.5 267.6 L613.1 267.2 L615.0 267.1 L617.0 267.2 L619.2 267.6 L621.6 268.2 L624.1 269.1 L626.7 270.2 L629.4 271.5 L632.0 273.0 L634.7 274.7 L637.4 276.6 L639.9 278.6 L642.4 280.7 L644.7 282.9 L646.9 285.2 L648.9 287.5 L650.6 289.8 L652.2 292.0 L653.5 294.2 L654.5 296.4 L655.2 298.4 L655.7 300.3 L655.8 302.1 L465.8 416.1 L465.7 414.3 L465.2 412.4 L464.5 410.4 L463.5 408.2 L462.2 406.0 L460.6 403.8 L458.9 401.5 L456.9 399.2 L454.7 396.9 L452.4 394.7 L449.9 392.6 L447.4 390.6 L444.7 388.7 L442.0 387.0 L439.4 385.5 L436.7 384.2 L434.1 383.1 L431.6 382.2 L429.2 381.6 L427.0 381.2 L425.0 381.1 L423.1 381.2 L421.5 381.6 L420.1 382.2Z" fill="url(#tg1)" stroke="#3b3b3b" stroke-width="1.2" stroke-linejoin="round"/>
<path d="M465.8 416.1 L465.6 414.0 L465.0 411.7 L464.0 409.2 L462.6 406.6 L460.8 404.0 L458.7 401.3 L456.3 398.6 L453.7 395.9 L450.9 393.4 L447.9 391.0 L444.8 388.8 L441.6 386.8 L438.4 385.0 L435.3 383.6 L432.3 382.5 L429.5 381.7 L426.9 381.2 L424.5 381.1 L422.4 381.3 L420.6 381.9 L419.2 382.9 L418.2 384.1 L417.6 385.7 L417.4 387.5Z" fill="url(#cg1)" stroke="#3b3b3b" stroke-width="1.2" stroke-linejoin="round"/>
<path d="M468.5 410.7 L658.5 296.7 L659.9 296.1 L661.5 295.7 L663.4 295.6 L665.4 295.8 L667.6 296.1 L670.0 296.8 L672.5 297.7 L675.1 298.8 L677.8 300.1 L680.4 301.6 L683.1 303.3 L685.8 305.2 L688.3 307.2 L690.8 309.3 L693.1 311.5 L695.3 313.7 L697.3 316.0 L699.0 318.3 L700.6 320.6 L701.9 322.8 L702.9 324.9 L703.6 327.0 L704.1 328.9 L704.2 330.6 L514.2 444.6 L514.1 442.9 L513.6 441.0 L512.9 438.9 L511.9 436.8 L510.6 434.6 L509.0 432.3 L507.3 430.0 L505.3 427.7 L503.1 425.5 L500.8 423.3 L498.3 421.2 L495.8 419.2 L493.1 417.3 L490.4 415.6 L487.8 414.1 L485.1 412.8 L482.5 411.7 L480.0 410.8 L477.6 410.1 L475.4 409.8 L473.4 409.6 L471.5 409.7 L469.9 410.1 L468.5 410.7Z" fill="url(#tg2)" stroke="#3b3b3b" stroke-width="1.2" stroke-linejoin="round"/>
<path d="M514.2 444.6 L514.0 442.5 L513.4 440.2 L512.4 437.8 L511.0 435.2 L509.2 432.5 L507.1 429.8 L504.7 427.1 L502.1 424.5 L499.3 421.9 L496.3 419.5 L493.2 417.3 L490.0 415.3 L486.8 413.6 L483.7 412.2 L480.7 411.0 L477.9 410.2 L475.3 409.7 L472.9 409.6 L470.8 409.9 L469.0 410.5 L467.6 411.4 L466.6 412.7 L466.0 414.2 L465.8 416.1Z" fill="url(#cg2)" stroke="#3b3b3b" stroke-width="1.2" stroke-linejoin="round"/>
<path d="M516.9 439.3 L706.9 325.3 L708.3 324.7 L709.9 324.3 L711.8 324.2 L713.8 324.3 L716.0 324.7 L718.4 325.3 L720.9 326.2 L723.5 327.3 L726.2 328.6 L728.8 330.2 L731.5 331.9 L734.2 333.7 L736.7 335.7 L739.2 337.8 L741.5 340.0 L743.7 342.3 L745.7 344.6 L747.4 346.9 L749.0 349.1 L750.3 351.4 L751.3 353.5 L752.0 355.5 L752.5 357.4 L752.6 359.2 L562.6 473.2 L562.5 471.4 L562.0 469.5 L561.3 467.5 L560.3 465.4 L559.0 463.1 L557.4 460.9 L555.7 458.6 L553.7 456.3 L551.5 454.0 L549.2 451.8 L546.7 449.7 L544.2 447.7 L541.5 445.9 L538.8 444.2 L536.2 442.6 L533.5 441.3 L530.9 440.2 L528.4 439.3 L526.0 438.7 L523.8 438.3 L521.8 438.2 L519.9 438.3 L518.3 438.7 L516.9 439.3Z" fill="url(#tg3)" stroke="#3b3b3b" stroke-width="1.2" stroke-linejoin="round"/>
<path d="M562.6 473.2 L562.4 471.1 L561.8 468.8 L560.8 466.3 L559.4 463.8 L557.6 461.1 L555.5 458.4 L553.1 455.7 L550.5 453.0 L547.7 450.5 L544.7 448.1 L541.6 445.9 L538.4 443.9 L535.2 442.2 L532.1 440.7 L529.1 439.6 L526.3 438.8 L523.7 438.3 L521.3 438.2 L519.2 438.4 L517.4 439.0 L516.0 440.0 L515.0 441.2 L514.4 442.8 L514.2 444.6Z" fill="url(#cg3)" stroke="#3b3b3b" stroke-width="1.2" stroke-linejoin="round"/></g>
<g id="lead"><path d="M31.0 333.6 L330.5 333.6 L414.3 364.9" fill="none" stroke="#fff" stroke-width="1.5" stroke-opacity="0.95"/>
<circle cx="422.0" cy="367.8" r="8.2" fill="#fff" fill-opacity="0.15" stroke="#fff" stroke-width="1.4"/>
<circle cx="422.0" cy="367.8" r="5.8" fill="#000" fill-opacity="0.15" stroke="#fff" stroke-width="1.3"/>
<path d="M31.0 442.7 L331.4 442.7 L414.5 472.2" fill="none" stroke="#fff" stroke-width="1.5" stroke-opacity="0.95"/>
<circle cx="422.2" cy="474.9" r="8.2" fill="#fff" fill-opacity="0.15" stroke="#fff" stroke-width="1.4"/>
<circle cx="422.2" cy="474.9" r="5.8" fill="#000" fill-opacity="0.05" stroke="#fff" stroke-width="1.3"/>
<path d="M31.0 563.1 L414.7 563.1" fill="none" stroke="#fff" stroke-width="1.5" stroke-opacity="0.95"/>
<circle cx="422.9" cy="562.5" r="8.2" fill="#fff" fill-opacity="0.15" stroke="#fff" stroke-width="1.4"/>
<circle cx="422.9" cy="562.5" r="5.8" fill="#000" fill-opacity="0.2" stroke="#fff" stroke-width="1.3"/>
<path d="M31.0 692.8 L331.2 692.8 L414.9 663.1" fill="none" stroke="#fff" stroke-width="1.5" stroke-opacity="0.95"/>
<circle cx="422.6" cy="660.4" r="8.2" fill="#fff" fill-opacity="0.15" stroke="#fff" stroke-width="1.4"/>
<circle cx="422.6" cy="660.4" r="5.8" fill="#000" fill-opacity="0.05" stroke="#fff" stroke-width="1.3"/>
<path d="M31.0 797.1 L330.8 797.1 L414.4 766.5" fill="none" stroke="#fff" stroke-width="1.5" stroke-opacity="0.95"/>
<circle cx="422.1" cy="763.7" r="8.2" fill="#fff" fill-opacity="0.15" stroke="#fff" stroke-width="1.4"/>
<circle cx="422.1" cy="763.7" r="5.8" fill="#000" fill-opacity="0.1" stroke="#fff" stroke-width="1.3"/></g>
</svg>
<h1 class="t">Правильный пуховик<br><span style="letter-spacing:-0.3px">от BAON</span></h1>
<p class="t sub">С двуслойным пухпакетом</p>
<p class="t lb" style="top:290px">ОСНОВНАЯ ТКАНЬ.<br>ВЕРХНИЙ СЛОЙ</p>
<p class="t lb" style="top:393.2px">ВЕРХНИЙ СЛОЙ<br>ТКАНИ ПУХОВОГО ПАКЕТА</p>
<p class="t lb" style="top:537.8px">ПУХ/ПЕРО</p>
<p class="t lb" style="top:644.2px">НИЖНИЙ СЛОЙ ТКАНИ<br>ПУХОВОГО ПАКЕТА</p>
<p class="t lb" style="top:767.8px">ПОДКЛАДОЧНАЯ ТКАНЬ</p>
</body></html>
